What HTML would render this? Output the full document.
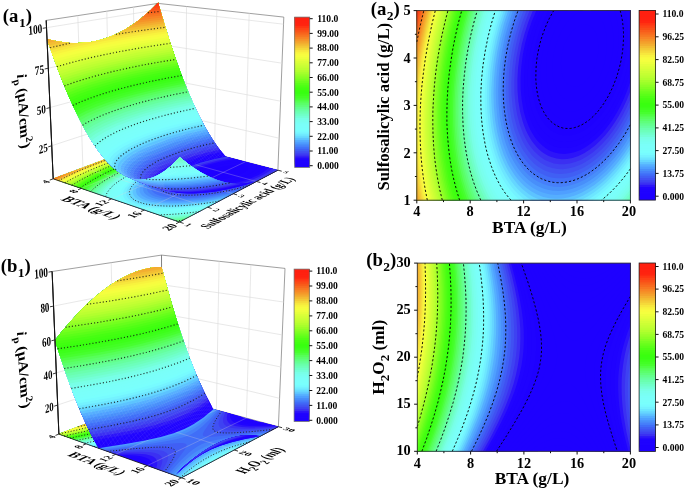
<!DOCTYPE html>
<html><head><meta charset="utf-8"><title>Figure</title>
<style>html,body{margin:0;padding:0;background:#fff}svg{display:block}text{font-family:"Liberation Serif",serif;fill:#000}</style>
</head><body>
<svg width="685" height="492" viewBox="0 0 685 492">
<rect width="685" height="492" fill="#fff"/>
<g shape-rendering="geometricPrecision">
<path fill="#1e00ff" d="M416.8 200.2l213.6 0 0-189.6-213.6 0z"/>
<path fill="#1e00ff" d="M416.8 200.2l213.6 0 0-189.6-213.6 0zM572.6 86.6l-1.8-0.5-1.8-1-2.7-2.4-2.2-3.4-1.1-2.3-0.8-2.4-1-5.5-0.3-5.6 0.4-5.5 1.1-6.3 1.6-5.5 2.3-5.7 2.7-4.8 3.6-4.7 3.5-3.3 3.6-2.1 1.7-0.6 1.8-0.4 1.8-0.1 1.8 0.2 1.8 0.5 1.8 1 2.6 2.4 2.2 3.3 1.1 2.4 0.8 2.4 1 5.5 0.3 5.5-0.3 5.6-1.1 6.3-1.6 5.5-2.4 5.7-2.6 4.8-1.8 2.5-1.8 2.2-3.6 3.2-3.5 2.2-1.8 0.6-1.8 0.4-1.8 0.1z"/>
<path fill="#1e00ff" d="M416.8 200.2l213.6 0 0-189.6-40.5 0 2.2 0.6 2.1 1 2.3 1.6 1.9 1.7 1.7 2.1 1.8 2.8 1.4 2.8 1.2 3.2 1 3.5 0.7 3.6 0.5 4 0.2 3.9-0.2 7.9-0.4 4-0.8 4.7-0.9 4.3-1.2 4.4-1.5 4.3-1.7 4.4-3.6 7-2.1 3.2-2.3 3.2-1.9 2.4-2.6 2.6-2.7 2.3-2.7 1.8-2.6 1.4-2.7 1-2.7 0.6-1.7 0.1-2.7-0.2-1.8-0.4-2.7-1.1-1.8-1.1-1.7-1.5-2.2-2.4-1.6-2.3-1.7-3.2-1.3-3.2-1-3.1-0.7-3.2-0.6-3.9-0.3-4-0.1-3.9 0.1-4.8 0.5-4.3 0.6-4.4 1.1-4.7 2.3-7.9 3.1-7.5 1.8-3.6 2.4-3.9 2-2.9 2.7-3.3 4.4-4.3 2.7-2 2.7-1.5 2.6-1.1 2.5-0.7-167.1 0z"/>
<path fill="#1e00ff" d="M416.8 200.2l213.6 0 0-189.6-24.1 0 1.3 2.4 1.5 3.1 1.2 3.2 1.1 3.9 1.4 7.1 0.6 8-0.2 8.6-1 8.7-1.8 8.7-2.6 8.7-3.2 7.9-4.1 7.9-2.1 3.4-2.6 3.7-4.6 5.3-4.6 4.2-2.5 1.8-2.7 1.6-2.6 1.2-2.7 0.9-2.7 0.6-2.6 0.2-2.7-0.2-2.7-0.6-2.1-0.8-2.3-1.2-2.7-1.9-1.8-1.7-1.7-2.1-1.8-2.5-1.3-2.4-1.5-3.2-1.2-3.1-1.1-4-1.3-7.1-0.6-7.9 0.1-7.9 0.9-8.7 1.8-8.7 2.5-8.7 3.5-8.6 3.5-7 4.5-6.9 2.6-3.4 2.2-2.5-150.8 0z"/>
<path fill="#1e00ff" d="M416.8 200.2l213.6 0 0-189.6-16.3 0 1.4 4 1.3 4.7 0.9 4.7 0.7 5.6 0.3 4.7 0.1 5.5-0.3 5.6-0.5 5.5-0.8 5.5-1 5.5-2.8 10.3-1.9 5.5-2.2 5.6-2.2 4.7-2.5 4.8-3.6 5.8-4.4 6-4.5 4.8-4.4 4-4.5 3.1-2.6 1.4-2.7 1.1-4.5 1.2-4.4 0.5-2.7-0.2-2.7-0.6-2.6-0.9-2-1-2.5-1.5-1.9-1.6-2.4-2.4-1.9-2.4-1.8-2.6-1.8-3.3-1.5-3.5-1.1-3.2-1.2-3.9-0.9-4-0.6-4-0.5-4.7-0.4-8.7 0.6-9.5 1.3-9.4 2.1-9.5 3-9.5 3.6-8.7 4.1-7.9 4.6-7.1-143 0z"/>
<path fill="#1e00ff" d="M416.8 200.2l213.6 0 0-189.6-10.2 0 1.2 4.7 0.9 4.8 0.6 4.7 0.5 5.5 0.1 5.6-0.1 5.5-0.4 5.5-0.6 5.6-0.9 5.5-1.1 5.5-1.4 5.6-1.6 5.5-1.9 5.5-2 5.2-4.5 9.4-4.4 7.5-4.5 6.4-5.3 6.2-5.2 4.8-5.5 3.9-5.3 2.7-2.7 1-2.7 0.7-2.6 0.5-2.7 0.1-2.7-0.1-2.6-0.4-2.7-0.8-2.9-1.3-2.4-1.4-2.7-2-2.3-2.1-2.2-2.5-2.1-3-1.9-3.2-1.5-3.1-1.6-3.8-1.3-4.1-1.1-4-1.5-8.7-0.8-9.5 0.2-9.4 0.9-10.3 1.9-10.3 2.6-10.2 3.6-10.1 4.3-9.7 4.4-7.9-136.9 0z"/>
<path fill="#1f02ff" d="M416.8 200.2l213.6 0 0-189.6-5.1 0 0.9 4.7 0.7 4.8 0.6 5.5 0.3 5.5 0 5.6-0.3 5.5-1.1 11.1-1.1 6.3-1.1 5.5-3 11.1-1.9 5.5-2.1 5.5-4.6 9.9-4.4 7.9-5.4 7.9-5.3 6.4-2.7 2.7-3.6 3.3-2.8 2.2-3.4 2.3-2.9 1.7-3.3 1.6-3.6 1.2-2.6 0.7-3.6 0.5-2.7 0.1-3.5-0.3-2.7-0.5-2.8-1-3.3-1.5-2.8-1.8-2.6-2.2-2.4-2.4-2-2.3-1.9-2.7-2.2-3.7-1.5-3.1-1.7-4-1.3-3.9-1.3-4.6-1.7-8.8-0.6-4.8-0.4-5.5 0-10.3 0.9-10.9 1.6-10.4 2.5-10.3 3.2-10.3 4.1-10.2 4.7-9.5-131.8 0z"/>
<path fill="#1f02ff" d="M416.8 200.2l213.6 0 0-148.5-1.6 9.5-2.2 9.4-2.5 8.7-3.5 9.5-3.6 8.1-4.4 8.5-4.4 7.3-4.5 6.1-5.3 6.3-5.4 5.1-5.3 4.2-5.4 3.3-5.7 2.5-3.2 0.9-2.6 0.6-5.4 0.4-2.6-0.1-2.7-0.4-3.6-1-2.6-1.1-2.7-1.4-2.7-1.8-2.7-2.2-1.8-1.8-2.6-3.1-1.8-2.5-2-3.1-2-4-1.7-3.9-1.4-3.7-1.3-4.2-1.1-4.8-1.6-9.4-0.8-10.3 0-10.3 0.8-10.3 1.7-11 2.3-10.3 3.3-11.1 3.8-10 4.5-9.7-127.3 0zM630.3 13.8l0.1 0.6 0-3.8-0.6 0z"/>
<path fill="#2004ff" d="M416.8 200.2l213.6 0 0-130.4-2.4 8.7-2.9 8.6-3.6 8.7-3.6 7.5-4.4 8.1-4.5 6.9-4.5 6.1-5.3 6-5.3 5.1-5.3 4.2-5.4 3.3-5.3 2.5-5.3 1.7-5.4 0.9-5.3 0-2.7-0.4-2.7-0.6-3.5-1.3-2.7-1.3-2.7-1.6-2.6-2-2.5-2.3-2.3-2.4-2.4-3-2.2-3.3-2.2-4-1.5-3.1-3-7.9-1.4-4.8-1.1-4.7-1.6-9.5-0.7-10.3 0-10.2 0.7-11.1 1.6-11 2.3-11.1 3.2-11.1 3.7-10.2 4.5-10.3-123.3 0z"/>
<path fill="#2c14f9" d="M416.8 200.2l213.6 0 0-118.6-2.8 8-3.5 8.7-3.8 7.9-4.1 7.6-4.5 7.1-4.8 6.6-5 5.9-5.3 5.4-5.4 4.5-5.3 3.7-5.3 2.9-5.4 2.1-5.3 1.3-5.4 0.6-5.3-0.4-2.7-0.5-2.6-0.7-3.6-1.4-2.7-1.4-2.6-1.8-2.7-2.1-2.7-2.5-2.6-2.9-2.4-3.2-2-3.2-1.9-3.2-1.8-3.9-1.7-4.1-1.6-4.6-1.4-4.7-1.1-4.7-1.5-9.5-0.9-10.3-0.1-11.1 0.7-11 1.5-11.9 2.2-11 3-11.3 3.7-10.8 4.6-11.1-119.5 0z"/>
<path fill="#3b30f2" d="M416.8 200.2l213.6 0 0-109.2-3.6 8.9-3.5 7.6-4.4 8.2-4.3 7.1-4.7 6.6-4.8 6-5 5.4-5.3 4.9-5.3 4.1-5.4 3.4-5.6 2.8-5.9 2-5.4 1-5.3 0.2-5.4-0.6-5.3-1.5-3.6-1.5-2.6-1.6-2.7-1.8-2.7-2.2-2.6-2.6-2.7-3.1-2.5-3.3-2-3.2-2.2-4-1.8-3.9-1.6-4-1.6-4.7-2.5-9.5-1.7-10.3-0.9-11-0.1-11.1 0.6-11 1.5-11.9 2.2-11.8 2.9-11.1 3.8-11.8 4.5-11.1-116.1 0z"/>
<path fill="#3e42f2" d="M416.8 200.2l213.6 0 0-101-3.6 8-4.3 8.5-4.6 7.8-4.4 6.7-5.3 7-5.4 6.1-5.3 5.2-5.4 4.4-5.3 3.7-6.1 3.3-5.5 2.2-5.3 1.5-5.4 0.7-5.3-0.1-5.3-0.8-5.4-1.8-3.5-1.7-2.7-1.6-2.7-2-3.1-2.7-2.3-2.4-2.7-3.1-2.6-3.7-2.1-3.4-2.1-4-1.8-4-3.2-8.6-2.5-9.5-1-5.6-0.8-5.5-1-11-0.1-11.9 0.6-11.8 1.5-11.9 2.2-11.8 2.9-11.9 3.8-11.8 4.3-11.1-112.8 0z"/>
<path fill="#4051f2" d="M416.8 200.2l213.6 0 0-93.8-3.7 7.7-4.3 7.9-4.5 7.2-5.3 7.6-5.3 6.6-5.4 5.8-5.3 4.9-5.4 4.2-6.1 4-5.4 2.8-5.4 2-6.2 1.5-5.3 0.6-5.4-0.2-5.3-0.9-5.4-1.9-3.2-1.6-3-1.8-3.5-2.7-2.7-2.4-2.7-2.8-2.7-3.3-2.5-3.5-1.9-3.2-2.1-3.9-1.8-4-1.9-4.7-1.7-4.8-2.5-9.5-1.9-11-1.1-11.9-0.2-11.8 0.6-11.9 1.4-12.6 2.3-12.6 2.8-11.9 3.6-11.9 4.5-11.8-109.7 0z"/>
<path fill="#405ff4" d="M416.8 200.2l213.6 0 0-87.3-4.5 8.7-4.4 7.6-4.7 7-5.1 6.9-5.3 6.2-5.4 5.5-5.3 4.7-6.2 4.6-6.2 3.7-5.4 2.5-6.2 2.1-5.4 1.1-6.2 0.4-5.3-0.4-5.4-1.2-5.3-2.1-3-1.6-3.3-2.1-3.3-2.6-2.9-2.8-2.7-2.9-2.6-3.4-2.5-3.6-2-3.3-1.9-3.8-2.2-4.7-1.8-4.8-1.6-4.7-2.7-10.3-1.8-11-1.1-11.9-0.2-11.8 0.5-11.9 1.4-12.6 2.1-12.7 3-12.6 3.7-12.5 4.3-12-106.7 0z"/>
<path fill="#406ef8" d="M416.8 200.2l213.6 0 0-81.2-4.5 8.2-4.5 7.4-5.2 7.6-5.4 6.8-5.5 6.2-6.1 5.7-5.4 4.5-6.1 4.2-6.3 3.5-6.2 2.6-6.2 1.7-5.4 0.8-6.2 0.1-5.3-0.6-5.4-1.5-4.8-2.1-3.2-1.7-3.5-2.5-2.7-2.2-3.2-3.1-2.8-3.1-2.4-3.2-2.7-3.9-2.2-3.9-2.1-4-2.1-4.8-3.3-9.4-2.7-10.3-1.8-11.1-1.1-11.8-0.3-12.7 0.5-12.6 1.4-12.6 2.2-13.5 2.9-12.6 3.7-12.6 4.2-11.9-103.9 0z"/>
<path fill="#467ffa" d="M416.8 200.2l213.6 0 0-75.5-4.5 7.8-5.3 8.3-5.3 7.3-5.4 6.5-5.3 5.7-6.2 5.7-6.3 4.9-6.2 4-6.2 3.2-6.3 2.4-6.2 1.5-5.3 0.7-6.3-0.1-5.3-0.8-5.3-1.6-5.4-2.4-3.5-2.1-2.7-1.9-3.4-2.8-2.8-2.9-2.7-3-2.7-3.5-2.6-4-2.3-4-2.2-4.3-1.9-4.4-1.8-4.7-1.8-5.6-2.6-10.2-2-11.9-1.1-11.8-0.3-12.7 0.5-12.6 1.3-13.5 2.2-13.4 2.9-12.6 3.7-13.2 4.2-12.1-101.2 0z"/>
<path fill="#488ffa" d="M416.8 200.2l213.6 0 0-70.2-4.6 7.8-5.3 7.9-5.3 7.1-6.2 7.2-5.3 5.4-6.2 5.5-6.3 4.7-6.2 3.9-6.2 3-6.2 2.3-6.3 1.5-6.2 0.6-6.2-0.2-5.4-0.9-5.3-1.7-5.4-2.5-3.2-1.9-3-2.2-3-2.6-3.3-3.1-2.7-3.2-3-4-2.6-3.9-2.3-4-2.3-4.7-2.1-4.7-1.8-5-1.7-5.3-2.8-10.9-1.9-11.2-1.1-12.7-0.4-12.6 0.5-12.6 1.3-13.5 2.1-13.4 2.9-13.4 3.7-13.5 4.3-12.6-98.6 0z"/>
<path fill="#4f9fff" d="M416.8 200.2l213.6 0 0-65.1-5.3 8.6-5.3 7.5-5.4 6.9-5.8 6.5-5.8 5.8-6.2 5.3-6.2 4.5-6.3 3.7-6.2 2.9-6.2 2.2-6.3 1.4-6.2 0.6-6.2-0.2-5.4-1-3.5-1-2.7-1-5.5-2.6-3.4-2.2-3.6-2.7-3.3-3-2.9-3-2.7-3.2-2.6-3.6-2.7-4.2-2.4-4.2-2.1-4.2-2.2-5.3-1.8-4.7-1.7-5.5-2.8-11.1-2-11.8-1.2-12.7-0.3-12.6 0.5-13.5 1.2-13.4 2.1-13.4 2.9-13.8 3.6-13.1 4.4-13.4-96.1 0z"/>
<path fill="#55aeff" d="M416.8 200.2l213.6 0 0-60.3-5.3 8.3-5.4 7.5-6 7.4-5.8 6.3-6 5.7-6.2 5.1-6.2 4.4-7.2 4-6.7 2.9-6.6 2-6.2 1.1-6.3 0.4-6.2-0.5-5.3-1.2-3.1-1-3.2-1.3-5.3-2.8-3.3-2.2-3.1-2.4-3.4-3.1-3-3.2-3.2-4-2.7-3.8-2.5-4.1-2.2-3.9-2.3-4.7-1.9-4.7-1.8-4.8-1.8-5.6-2.7-11-1.2-6.3-0.9-6.4-1.2-12.6-0.4-13.4 0.5-13.5 1.2-13.4 2.1-13.5 2.9-14.1 3.6-13.5 4.4-13.4-93.7 0z"/>
<path fill="#5dc3ff" d="M416.8 200.2l213.6 0 0-55.7-5.3 8.1-6 8.1-5.6 6.7-6.2 6.6-6.3 5.7-6.2 5-6.7 4.4-6.7 3.6-6.5 2.8-6.8 2-6.2 1-6.3 0.3-6.2-0.5-6.2-1.4-6.2-2.4-5.4-2.9-3.6-2.5-3.5-2.9-3.5-3.4-2.7-3-2.7-3.4-2.7-3.9-2.7-4.2-2.4-4.4-2-4.3-2.2-5.2-2-5.6-1.7-5.5-2.7-11-2.1-12.2-1.2-13.1-0.4-13.4 0.4-13.5 1.3-14.2 2.1-14.2 3-14.2 3.7-14.2 4.2-12.7-91.4 0z"/>
<path fill="#65d6ff" d="M416.8 200.2l124.3 0-4.1-1.6-3.6-1.7-4.5-2.7-3.5-2.6-3.6-3.1-3.5-3.6-3.6-4.3-3-4.1-3-4.7-2.6-4.8-2.6-5.5-2.3-5.5-1.9-5.6-1.9-6.3-1.6-6.3-1.5-7.1-1-6.3-0.9-7.2-0.6-7.1-0.4-7.9-0.2-7.1 0.2-7.9 1-15 1.8-15 1.4-7.9 1.6-7.9 1.8-7.9 2.1-7.9 4.8-15-89.1 0zM571.5 200.2l58.9 0 0-51.3-6.4 9.4-7 8.9-7.1 7.9-3.8 3.8-4.2 3.8-7.2 5.7-4.3 2.9-3.6 2.2-3.6 2-4.4 2z"/>
<path fill="#6de6ff" d="M416.8 200.2l115.1 0-3.9-2.3-3.5-2.6-3.6-3-3.5-3.5-3.1-3.6-3.2-4.1-2.6-4-2.7-4.5-2.5-4.8-2.2-4.7-2.2-5.6-2-5.9-1.8-6-1.5-6.2-1.3-6.4-1.1-6.3-1.5-13.4-0.6-14.2 0.2-14.2 1.2-15.1 2-15 2.9-15 3.8-15 4.5-14.2-86.9 0zM580.7 200.2l49.7 0 0-47-5.3 7.7-6.3 8-6.2 7.2-6.2 6.2-6.3 5.5-6.2 4.7-6.2 4z"/>
<path fill="#74f2ff" d="M416.8 200.2l108.5 0-3.5-2.7-3.5-3.2-3.5-3.6-2.8-3.3-2.6-3.6-2.8-4.1-2.6-4.4-2.6-5.1-2.2-4.8-2.2-5.5-1.9-5.5-1.7-5.6-2.8-11.8-2-12.6-1.3-13.5-0.4-14.2 0.4-14.2 1.3-14.2 2.1-14.8 2.8-14.5 3.6-14.2 4.4-14.2-84.7 0zM587.3 200.2l43.1 0 0-42.9-4.6 6.6-5.2 6.7-5.3 6.2-5.4 5.7-5.4 5.1-6.1 5.1-5.4 3.9z"/>
<path fill="#77fbff" d="M416.8 200.2l103.1 0-3.4-3.1-3-3.2-3.3-3.8-2.6-3.6-2.7-4.1-2.7-4.5-2.3-4.6-2.2-4.7-3.9-10.3-3.3-11-2.5-11.9-1.9-13.4-1.1-13.4-0.2-13.5 0.6-14.2 1.3-14.2 2.1-14.2 2.9-14.2 3.4-13.8 4.3-13.9-82.6 0zM592.7 200.2l37.7 0 0-38.9-4.5 6.2-4.4 5.7-4.5 5.3-4.4 4.8-4.4 4.4-5.4 4.8-5.3 4.3z"/>
<path fill="#79fffd" d="M416.8 200.2l98.4 0-3.2-3.3-2.6-3.2-2.7-3.5-2.9-4.2-2.4-4.1-2.7-5-2.5-5.1-1.9-4.8-3.6-10.3-3.1-11.8-2.3-11.9-1.6-12.6-0.8-13.4-0.1-13.4 0.6-13.5 1.4-14.2 2.2-14.2 2.8-13.9 3.4-13.8 4.1-13.4-80.5 0zM597.4 200.2l33 0 0-35.1-8 10.7-8 9.1-8.3 8.2-4.2 3.6z"/>
<path fill="#7afffb" d="M416.8 200.2l94.2 0-2.7-3.2-3.1-3.9-5.1-7.9-2.3-4.2-2.6-5.3-3.9-9.5-3.3-10.2-2.9-11.9-2.1-11.8-1.4-12.7-0.7-12.6-0.1-13.4 0.7-13.5 1.4-14.2 2.2-14.2 2.8-14.2 3.4-13.5 4-13.4-78.5 0zM601.6 200.2l28.8 0 0-31.3-7.1 9.4-7.1 8.2-7.2 7.2z"/>
<path fill="#7afffa" d="M416.8 200.2l90.3 0-3-4-2.7-3.9-4.7-7.9-4.6-9.5-3.9-10.3-3-10.2-2.7-11.9-1.9-11.8-1.2-12.7-0.6-12.6 0.1-13.4 0.8-13.5 1.4-13.4 2.2-14.2 2.7-13.4 3.3-13.5 4-13.4-76.5 0zM605.5 200.2l24.9 0 0-27.7-6.2 8.2-6.3 7.2-6.2 6.5z"/>
<path fill="#7afff8" d="M416.8 200.2l86.8 0-2.9-4-2.5-3.9-4.8-8.7-4.2-9.5-3.6-10.2-2.9-10.5-2.5-11.7-1.7-11.8-1.2-12.7-0.4-12.6 0.2-13.4 0.8-13.5 1.5-13.4 2-13.4 2.7-13.4 3.4-13.5 3.9-13.4-74.6 0zM609 200.2l21.4 0 0-24.1-5.3 6.9-5.4 6.3-5.3 5.7z"/>
<path fill="#79fff3" d="M416.8 200.2l83.4 0-5.1-8-4.4-8.6-4-9.5-3.5-10.2-2.9-11.1-2.2-11.1-1.6-11.8-1.1-12.7-0.4-12.6 0.2-13.4 0.9-13.5 1.4-13.4 2.1-13.4 2.7-13.4 3.3-13.5 3.9-13.4-72.7 0zM612.4 200.2l18 0 0-20.6-4.5 5.7-4.4 5.3-4.5 4.9z"/>
<path fill="#79ffed" d="M416.8 200.2l80.2 0-4.7-7.9-4.3-8.8-4-10.2-3.3-10.2-2.5-10.3-2.3-11.8-1.5-11.9-1-12.6-0.3-12.7 0.3-13.4 0.8-12.6 1.5-13.5 2.1-13.4 2.7-13.4 3.3-13.5 3.9-13.4-70.9 0zM615.6 200.2l14.8 0 0-17.2-7.1 8.8z"/>
<path fill="#78ffe6" d="M416.8 200.2l77.2 0-4.4-7.9-4.4-9.5-3.6-9.5-3.3-11-2.6-11.1-1.9-11.4-1.4-11.5-0.9-12.6-0.2-12.7 0.3-13.4 0.9-12.6 1.6-13.5 2.1-13.4 2.7-13.4 3.1-12.7 3.9-13.4-69.1 0zM618.6 200.2l11.8 0 0-13.9-6.2 7.6z"/>
<path fill="#74ffd8" d="M416.8 200.2l74.4 0-4.6-8.7-3.9-8.9-3.6-10-2.9-10.3-2.5-11.1-2-11.8-1.3-11.9-0.7-12.6-0.2-12.7 0.4-13.4 1.1-13.4 1.5-12.7 2.1-13.4 2.7-13.3 3.1-12.8 3.7-12.6-67.3 0zM621.4 200.2l9 0 0-10.7-4.5 5.5z"/>
<path fill="#70ffca" d="M416.8 200.2l71.6 0-4.3-8.7-4-9.5-3.5-10.2-2.7-10.3-2.3-11.1-1.8-11-1.2-11.9-0.7-12.6-0.2-12.7 0.5-13.4 1-13.4 1.5-12.7 2.2-13.4 2.6-13 3.2-13.1 3.6-12.6-65.5 0zM624.2 200.2l6.2 0 0-7.5z"/>
<path fill="#6dffbc" d="M416.8 200.2l69 0-4.2-8.7-3.8-9.5-3.2-9.8-2.8-10.7-2.2-11.1-1.7-11.8-1.2-11.9-0.6-12.6-0.1-12.7 0.5-12.6 1-13.2 1.6-12.9 2-12.6 2.7-13.4 3.2-13.5 3.6-12.6-63.8 0zM626.8 200.2l3.6 0 0-4.4z"/>
<path fill="#6affaf" d="M416.8 200.2l66.5 0-4.2-9.1-3.6-9.3-3.1-10-2.7-11.1-2.1-11.1-1.7-11.8-1-11.9-0.6-11.8 0-12.7 0.5-12.6 1-12.6 1.6-13.5 2-12.6 2.7-13.4 3.2-13.5 3.6-12.6-62.1 0zM629.3 200.2l1.1 0 0-1.3z"/>
<path fill="#66ff9f" d="M416.8 200.2l64 0-4.1-9.5-3.5-9.5-3-10.1-2.5-10.4-2-11.1-1.6-11.8-1-11.9-0.5-12.6 0-12.6 0.6-12.7 1.1-12.6 1.6-13.5 2.2-13.4 2.5-12.6 3.1-12.7 3.5-12.6-60.4 0z"/>
<path fill="#63ff8e" d="M416.8 200.2l61.6 0-3.8-8.9-3.5-10.1-2.9-10.2-2.4-10.7-1.9-10.7-1.5-11.8-1-11.9-0.5-12.6 0.1-12.6 0.6-12.7 1-12.6 1.7-13.5 2.2-13.4 2.5-12.6 3-12.7 3.6-12.6-58.8 0z"/>
<path fill="#5fff7c" d="M416.8 200.2l59.3 0-3.8-9.5-3.2-9.5-2.9-10.2-2.4-11.1-1.8-11.1-1.5-11.8-0.8-11.8-0.4-12.7 0.1-12.6 0.6-12.7 1.1-12.6 1.6-12.6 2.2-13.3 2.5-12.8 3-12.7 3.5-12.6-57.1 0z"/>
<path fill="#5bff6b" d="M416.8 200.2l57.1 0-3.7-9.4-3.1-9.6-2.8-10.2-2.3-11.1-1.8-11.1-1.4-11.8-0.8-11.8-0.4-12.7 0.2-12.6 0.6-12.7 1.2-12.6 1.5-12.7 2.1-12.6 2.6-12.9 3.1-13.2 3.4-12.6-55.5 0z"/>
<path fill="#57ff5a" d="M416.8 200.2l54.9 0-3.3-8.7-3.3-10.3-2.6-10.2-2.3-11.1-1.7-11.1-1.3-11.8-0.8-11.8-0.4-12.7 0.2-12.6 0.7-12.7 1.1-12.6 1.6-12.7 2.2-13.4 2.5-12.6 3-12.7 3.5-12.6-54 0z"/>
<path fill="#4fff44" d="M416.8 200.2l52.8 0-3.5-9.5-3-9.9-2.6-10.6-2.1-10.3-1.6-11.1-1.3-11.8-0.8-11.8-0.2-12.7 0.2-12.6 0.6-12.7 1.2-12.6 1.6-12.6 2.2-13.5 2.5-12.6 3-12.7 3.4-12.6-52.4 0z"/>
<path fill="#47ff2f" d="M416.8 200.2l50.7 0-3.5-10-2.9-9.8-2.5-10.4-2-10.9-1.6-11-1.2-11.9-0.7-11.8-0.2-12.7 0.3-12.6 0.7-12.7 1.2-12.6 1.6-12.6 2.1-12.7 2.5-12.7 2.9-12.6 3.5-12.6-50.9 0z"/>
<path fill="#42ff24" d="M416.8 200.2l48.7 0-3.3-9.6-2.9-10.2-2.5-10.5-1.9-10.8-1.6-11-1.1-11.9-0.6-11.8-0.2-12.7 0.2-12.6 0.8-12.7 1.2-12.6 1.6-12.6 2.1-12.7 2.5-12.6 2.9-12.7 3.4-12.6-49.3 0z"/>
<path fill="#3dff1a" d="M416.8 200.2l46.7 0-3.2-9.5-2.8-10.3-2.4-10.7-1.9-10.6-1.5-11-1.1-11.9-0.6-11.8-0.2-12.7 0.3-12.6 0.8-12.7 1.2-12.6 1.6-12.6 2.1-12.7 2.5-12.6 3-12.7 3.3-12.6-47.8 0z"/>
<path fill="#38ff12" d="M416.8 200.2l44.7 0-3-9.5-2.8-10.3-2.4-11-1.8-10.6-1.5-11.5-1-11.9-0.5-11.8-0.2-11.9 0.4-12.6 0.7-12.7 1.3-12.6 1.6-12.6 2.1-12.7 2.5-12.6 2.9-12.7 3.4-12.6-46.4 0z"/>
<path fill="#39ff0f" d="M416.8 200.2l42.8 0-2.9-9.5-2.7-10.3-2.4-11-1.8-11.1-1.3-11-1-11.9-0.6-11.8 0-12.7 0.3-11.8 0.8-12.7 1.2-12.6 1.7-12.6 2-12.7 2.5-12.6 2.9-12.7 3.4-12.6-44.9 0z"/>
<path fill="#40ff10" d="M416.8 200.2l41 0-2.9-9.5-2.6-10.3-2.3-11-1.8-11.1-1.3-11-0.9-11.9-0.5-11.8-0.1-12.7 0.4-11.8 0.8-12.7 1.2-12.6 1.6-12.6 2.1-12.7 2.5-12.6 2.9-12.7 3.3-12.6-43.4 0z"/>
<path fill="#46ff12" d="M416.8 200.2l39.1 0-2.8-9.5-2.5-10.3-2.2-11-1.8-11.1-1.2-11-0.9-11.9-0.5-11.8-0.1-12.7 0.4-11.8 0.8-12.7 1.3-12.6 1.6-12.6 2.1-12.7 2.5-12.6 2.9-12.7 3.3-12.6-42 0z"/>
<path fill="#50ff15" d="M416.8 200.2l37.3 0-2.7-9.5-2.6-10.6-2-10.7-1.7-11.1-1.3-11-0.8-11.9-0.5-11.8 0-12.7 0.4-11.8 0.8-12.7 1.3-12.6 1.7-12.6 2-12.7 2.5-12.6 2.9-12.7 3.3-12.6-40.6 0z"/>
<path fill="#5bff18" d="M416.8 200.2l35.6 0-2.9-10.3-2.4-10.2-1.9-10.3-1.7-11.4-1.2-11.5-0.8-11.9-0.4-11.8 0-11.9 0.4-11.8 0.9-12.7 1.2-12.6 1.7-12.6 2.1-12.7 2.4-12.6 2.9-12.7 3.3-12.6-39.2 0z"/>
<path fill="#67ff1b" d="M416.8 200.2l33.8 0-2.6-9.7-2.5-10.8-2-11.1-1.6-11.1-1.1-11-0.8-11.9-0.3-11.8 0-12.7 0.5-11.8 0.9-12.7 1.2-12.6 1.7-12.6 2.1-12.7 2.5-12.6 2.9-12.6 3.1-11.9-37.8 0z"/>
<path fill="#74ff1f" d="M416.8 200.2l32.1 0-2.7-10.3-2.3-10.2-1.9-11.1-1.6-11.1-1.1-11-0.7-11.9-0.3-11.8 0-12.7 0.5-11.8 0.9-12.7 1.3-12.6 1.7-12.6 1.9-11.9 2.5-12.6 2.9-12.7 3.2-12.6-36.4 0z"/>
<path fill="#81ff22" d="M416.8 200.2l30.4 0-2.6-10.3-2.3-10.2-1.9-11.1-1.4-11.1-1.1-11-0.7-11.9-0.3-11.8 0.1-12.7 0.4-11.8 1-12.7 1.3-12.6 1.7-12.6 2.1-12.7 2.4-12.6 2.9-12.7 3.1-11.8-35.1 0z"/>
<path fill="#8dff25" d="M416.8 200.2l28.8 0-2.6-10.3-2.2-10.2-1.9-11.1-1.4-11.1-1-11-0.7-11.9-0.3-11.8 0.1-12.7 0.5-11.8 0.9-12.7 1.3-12.6 1.7-12.6 2-11.9 2.4-12.6 2.9-12.7 3.2-12.6-33.7 0z"/>
<path fill="#9aff28" d="M416.8 200.2l27.1 0-2.5-10.3-2.1-10.2-1.8-11.1-1.4-11.1-1-11-0.7-11.9-0.3-11.8 0.2-12.7 0.5-11.8 0.9-12.6 1.3-12.7 1.7-12.6 2.1-12.7 2.5-12.6 2.9-12.7 3-11.8-32.4 0z"/>
<path fill="#a6ff2c" d="M416.8 200.2l25.5 0-2.5-10.3-2-10.2-1.8-11.1-1.4-11.1-1-11.8-0.6-11.9-0.2-11.8 0.1-11.9 0.6-11.8 0.9-12.7 1.3-12.6 1.7-12.6 2-11.9 2.4-12.6 2.9-12.7 3.2-12.6-31.1 0z"/>
<path fill="#b2ff2e" d="M416.8 200.2l23.9 0-2.4-10.3-2-10.2-1.8-11.1-1.3-11.1-0.9-11-0.6-11.9-0.2-11.8 0.1-12.7 0.6-11.8 0.9-12.6 1.3-12.7 1.8-12.6 2-12.7 2.5-12.6 2.8-12.4 3.1-12.1-29.8 0z"/>
<path fill="#bcff31" d="M416.8 200.2l22.4 0-2.4-10.3-2.1-11-1.7-11.1-1.2-11-1-11.9-0.5-11.9-0.2-11.8 0.3-11.9 0.6-12.6 0.9-11.8 1.3-11.9 1.7-12.6 2.1-12.7 2.4-12.6 2.9-12.7 3-11.8-28.5 0z"/>
<path fill="#c4ff33" d="M416.8 200.2l20.8 0-2.3-10.3-2.1-11-1.6-11.1-1.2-11-0.9-11.1-0.5-11.9-0.2-11.8 0.3-12.7 0.5-11.8 1-12.6 1.4-12.7 1.7-12.4 2-12.1 2.5-12.6 2.6-11.9 3.2-12.6-27.2 0z"/>
<path fill="#ccff35" d="M416.8 200.2l19.3 0-2.4-10.8-1.9-10.5-1.6-11.1-1.2-11-0.9-11.9-0.5-11.9-0.1-11.8 0.3-11.9 0.6-11.8 1-12.6 1.4-12.7 1.6-11.8 2.1-12.7 2.4-12.6 2.9-12.7 2.9-11.8-25.9 0z"/>
<path fill="#d4ff37" d="M416.8 200.2l17.8 0-2.3-10.3-1.9-11-1.6-11.1-1.1-11-0.9-11.9-0.5-11.9 0-11.8 0.2-11.9 0.6-11.8 1-12.6 1.3-11.9 1.7-12.6 2-11.9 2.4-12.6 2.8-12.7 3.2-12.6-24.7 0z"/>
<path fill="#dcff39" d="M416.8 200.2l16.3 0-2.2-10.3-1.9-11-1.5-11.1-1.2-11-0.8-11.9-0.4-11.9-0.1-11.8 0.3-11.9 0.6-11.8 1-12.6 1.4-12.7 1.7-12.6 2-11.9 2.4-12.6 2.9-12.7 2.9-11.8-23.4 0z"/>
<path fill="#e5ff3b" d="M416.8 200.2l14.8 0-2.1-10.3-1.9-11-1.5-11.1-1.1-11-0.8-11.9-0.4-11.9-0.1-11.8 0.3-11.9 0.7-12.6 1-11.8 1.3-11.9 1.7-12.6 2.1-12.7 2.4-12.6 2.8-12.7 3-11.8-22.2 0z"/>
<path fill="#edff3d" d="M416.8 200.2l13.4 0-2.1-10.3-1.9-11-1.4-11.1-1.1-11-0.8-11.9-0.4-11.9 0-11.8 0.3-11.9 0.6-11.8 1-12.6 1.3-11.9 1.8-12.6 2.1-12.7 2.3-12.2 2.7-12.3 3.2-12.6-21 0z"/>
<path fill="#f4ff3f" d="M416.8 200.2l11.9 0-2.1-10.7-1.7-10.6-1.5-11.1-1-11-0.8-11.9-0.3-11.9-0.1-11.8 0.4-11.9 0.6-11.8 1-12.6 1.4-12.7 1.8-12.6 2-11.9 2.4-12.6 2.8-12.7 3-11.8-19.8 0z"/>
<path fill="#f8fb3f" d="M416.8 200.2l10.5 0-2-10.3-1.8-11-1.4-11.1-1-11-0.7-11.9-0.4-11.9 0-11.8 0.3-11.9 0.7-12.6 1-11.8 1.4-11.9 1.7-12.6 2.1-12.7 2.3-11.8 2.7-12.7 3.1-12.6-18.5 0z"/>
<path fill="#f8f33e" d="M416.8 200.2l9.1 0-2-10.3-1.7-11-1.4-11.1-1-11-0.7-11.9-0.3-11.9 0-11.8 0.3-11.9 0.7-11.8 1.1-12.6 1.3-11.9 1.7-12.7 2.1-12.6 2.4-12.3 2.6-12.2 3.1-12.6-17.3 0z"/>
<path fill="#f7e73d" d="M416.8 200.2l7.7 0-1.9-10.3-1.7-11-1.4-11.1-0.9-11-0.7-11.9-0.3-11.9 0-11.8 0.3-11.9 0.7-11.8 1.1-12.6 1.4-12.7 1.8-12.6 1.9-11.9 2.5-12.6 2.7-12.7 3-11.8-16.2 0z"/>
<path fill="#f5d93a" d="M416.8 200.2l6.3 0-2.3-12.6-1.7-12.7-1.4-13.2-0.9-13.3zM416.8 107.8l0 0.4 0.7-12.3 1.2-12.6 1.4-12.7 1.7-11.8 2.1-12.5 2.4-12 2.6-11.9 2.9-11.8-15 0z"/>
<path fill="#f4cb37" d="M416.8 200.2l5 0-2.9-16.6-2.1-17.8zM416.8 90.4l0 0.4 2.3-21 3-19.7 3.8-19.8 4.7-19.7-13.8 0z"/>
<path fill="#f3bd33" d="M416.8 200.2l3.6 0-1.9-11.1-1.7-11.7zM416.8 78.5l0 0.6 2.4-17.9 2.9-17.4 3.4-16.6 3.9-16.6-12.6 0z"/>
<path fill="#f3ae30" d="M416.8 200.2l2.3 0-2.3-13.4zM416.8 69.1l0 0.7 2.3-15.8 2.8-15 3-14.2 3.4-14.2-11.5 0z"/>
<path fill="#f4a02c" d="M416.8 200.2l1 0-1-5.4zM416.8 61.2l0 0.5 2.2-13.2 2.5-13.4 2.6-11.9 3-12.6-10.3 0z"/>
<path fill="#f59229" d="M416.8 54l0 0.6 1.9-10.8 2.2-11.1 2.4-11 2.7-11.1-9.2 0z"/>
<path fill="#f78526" d="M416.8 47.7l0 0.3 3.8-19.2 4.3-18.2-8.1 0z"/>
<path fill="#f77722" d="M416.8 41.4l0 0.6 3.2-15.6 3.8-15.8-7 0z"/>
<path fill="#f86a1f" d="M416.8 35.9l0 0.4 2.7-12.5 3.1-13.2-5.8 0z"/>
<path fill="#f85d1b" d="M416.8 30.3l0 0.7 4.7-20.4-4.7 0z"/>
<path fill="#fa4f18" d="M416.8 25.6l0 0.4 3.6-15.4-3.6 0z"/>
<path fill="#fe4216" d="M416.8 20.9l0 0.3 2.6-10.6-2.6 0z"/>
<path fill="#ff3413" d="M416.8 16.1l0 0.5 1.5-6-1.5 0z"/>
<path fill="#ff2510" d="M416.8 11.4l0 0.8 0.4-1.6-0.4 0z"/>
<path fill="none" stroke="#000" stroke-width="0.9" stroke-dasharray="2.2 2" d="M620.2 10.6l1 4 1 4.7 0.5 3.9 0.5 4.8 0.3 4.7 0 4.8-0.2 5.5-0.4 4.7-0.5 4.8-0.9 5.5-0.9 4.7-1.4 5.6-1.3 4.7-1.7 5.3-3.6 9-2.2 4.7-2.2 4.3-4.6 7.5-2.6 3.6-2.7 3.5-2.8 3.2-3.4 3.3-2.6 2.3-2.7 2-2.8 1.9-3.4 1.8-3.1 1.3-3.2 1-3.5 0.7-2.7 0.1-2.7-0.1-2.6-0.4-2.7-0.8-2.9-1.3-2.4-1.4-2.7-2-2.3-2.1-2.2-2.5-2.1-3-1.9-3.2-1.5-3.1-1.6-3.8-1.3-4.1-1.1-4-0.8-3.9-0.7-4.8-0.5-4.7-0.3-4.8 0.2-9.4 0.3-4.8 0.6-5.5 0.9-5.5 1-4.8 1.1-4.7 1.5-5.5 1.8-5.3 1.8-4.8 2.1-5 2.2-4.7 4.4-7.9M630.4 124.7l-5.3 9.3-6.2 9.3-6.3 8.2-6.2 7-6.4 6.1-3.4 2.9-3.6 2.7-3.5 2.5-3.6 2.2-3.6 1.9-3.5 1.7-3.6 1.4-3.5 1.1-3.6 0.8-3.6 0.6-3.5 0.3-3.6 0-3.5-0.3-2.7-0.4-3.2-0.8-3-1-3.3-1.3-3-1.6-2.6-1.6-2.7-1.9-2.7-2.2-2.7-2.5-2.6-3-2.5-3-2-2.8-2.2-3.5-2.2-3.9-1.8-3.6-1.8-4-1.7-4.3-2.7-8.7-1.2-4.8-1.2-5.5-1.6-10.3-1-10.3-0.3-11 0.2-11.1 0.9-11 1.5-11.9 2.2-11.8 2.9-11.9 3.2-11 3.9-11.1M511 200.2l-2.7-3.2-3.1-3.9-2.7-4-2.4-3.9-2.3-4.2-2.6-5.3-2-4.7-1.9-4.8-3.3-10.2-1.7-6.4-1.2-5.5-2.1-11.8-1.4-12.7-0.7-12.6-0.1-13.4 0.7-13.5 1.4-14.2 2.2-14.2 2.8-14.2 3.4-13.5 4-13.4M630.4 168.9l-7.1 9.4-7.1 8.2-7.2 7.2-7.4 6.5M480.8 200.2l-4.1-9.5-3.5-9.5-3-10.1-2.5-10.4-2-11.1-1.6-11.8-1-11.9-0.5-12.6 0-12.6 0.6-12.7 1.1-12.6 1.6-13.5 2.2-13.4 2.5-12.6 3.1-12.7 3.5-12.6M459.6 200.2l-2.9-9.5-2.7-10.3-2.4-11-1.8-11.1-1.3-11-1-11.9-0.6-11.8 0-12.7 0.3-11.8 0.8-12.7 1.2-12.6 1.7-12.6 2-12.7 2.5-12.6 2.9-12.7 3.4-12.6M442.3 200.2l-2.5-10.3-2-10.2-1.8-11.1-1.4-11.1-1-11.8-0.6-11.9-0.2-11.8 0.1-11.9 0.6-11.8 0.9-12.7 1.3-12.6 1.7-12.6 2-11.9 2.4-12.6 2.9-12.7 3.2-12.6M427.3 200.2l-2-10.3-1.8-11-1.4-11.1-1-11-0.7-11.9-0.4-11.9 0-11.8 0.3-11.9 0.7-12.6 1-11.8 1.4-11.9 1.7-12.6 2.1-12.7 2.3-11.8 2.7-12.7 3.1-12.6M416.8 42l3.2-15.6 3.8-15.8"/>
</g>
<g shape-rendering="geometricPrecision">
<path fill="#1e00ff" d="M417.3 451.3l213.1 0 0-188.2-213.1 0z"/>
<path fill="#1e00ff" d="M417.3 451.3l213.1 0 0-188.2-27.9 0-4.1 1.6-4.4 1.3-4.4 0.7-3.6 0.2-4.4-0.3-3.6-0.7-3.5-1.1-3.8-1.7-153.4 0z"/>
<path fill="#1e00ff" d="M417.3 451.3l213.1 0 0-188.2-18.9 0-6.8 4.1-3.6 1.7-3.6 1.5-3.5 1.1-2.7 0.6-3.5 0.5-2.7 0.2-3.5-0.3-2.7-0.4-2.7-0.7-2.6-1-3.6-1.6-2.6-1.6-5.6-4.1-144.5 0z"/>
<path fill="#1e00ff" d="M417.3 451.3l120.4 0 4.8-2.5 5.3-2.1 5.4-1.3 4.4-0.4 4.4 0.3 4.5 1.1 4.4 1.8 5.2 3.1 54.3 0 0-188.2-12.4 0-5.4 4.1-4.4 3.1-4.4 2.7-4.5 2.3-4.4 1.8-3.6 1-3.5 0.6-3.6 0.3-3.5-0.2-3.6-0.7-3.5-1.2-3.6-1.7-3.5-2.1-3.6-2.7-3.5-3.1-4.1-4.2-138 0z"/>
<path fill="#1e00ff" d="M417.3 451.3l112.5 0 3.8-2.8 4.5-3 4.4-2.6 3.5-1.7 3.6-1.3 3.6-1 3.5-0.5 2.7-0.1 3.5 0.3 2.7 0.6 2.6 0.8 3.6 1.7 2.7 1.5 3.5 2.6 2.7 2.3 3.3 3.2 46.4 0 0-188.2-7.1 0-6.2 5.6-5.3 4.3-5.4 3.9-5.3 3.3-4.4 2.3-4.5 1.7-4.4 1.1-4.5 0.4-4.4-0.3-3.6-0.9-3.5-1.4-4.4-2.5-4.5-3.3-4.4-4.2-4.5-4.9-4.1-5.1-132.6 0z"/>
<path fill="#1e00ff" d="M417.3 451.3l106.5 0 5.4-4.8 5.3-4.4 5.3-3.8 4.5-2.7 4.4-2.2 3.6-1.3 4.4-1 3.6-0.2 3.5 0.3 3.6 0.9 3.5 1.4 3.6 2.1 3.5 2.7 4.5 4.1 3.5 3.9 4 5 40.4 0 0-188.2-2.4 0-8.3 8.2-7.1 6.4-6.2 5-6.2 4.2-5.3 2.9-4.5 1.8-4.4 1.1-4.4 0.4-4.5-0.5-4.4-1.4-4.5-2.4-4.4-3.2-4.4-4.2-4.5-5-4.4-5.7-5.2-7.6-128 0z"/>
<path fill="#1e00ff" d="M417.3 451.3l101.4 0 6.9-7.1 6.2-5.8 6.3-5.3 5.3-3.8 5.3-3.2 4.5-1.9 4.4-1.2 3.5-0.4 4.5 0.4 3.5 1.1 3.6 1.8 4.4 3.2 4.5 4.1 4.4 5.1 4.4 6 4.7 7 35.3 0 0-186.2-8 8.6-8 8-7.1 6.4-6.2 4.9-5.3 3.5-5.4 2.7-2.6 1-2.7 0.7-4.4 0.5-2.7-0.2-2.7-0.5-4.4-1.7-4.4-2.8-4.5-3.8-4.4-4.8-5.3-6.9-5.4-7.9-5.8-9.7-123.8 0z"/>
<path fill="#1e00ff" d="M417.3 451.3l96.9 0 8.8-9.9 8-8.4 6.2-5.9 6.2-5.3 5.3-3.8 5.3-2.9 4.5-1.5 2.6-0.5 1.8-0.1 2.7 0.2 1.8 0.4 3.5 1.3 2.7 1.6 1.7 1.3 4.5 4 4.4 5.2 4.5 6.1 5.3 8.4 5.6 9.8 30.8 0 0-181.6-9.8 11.1-8 8.6-7.1 6.9-6.2 5.4-5.3 3.9-5.3 3-2.7 1.1-2.7 0.8-2.6 0.4-1.8 0.1-2.7-0.3-1.7-0.4-1.8-0.6-2.7-1.2-1.8-1.1-2.6-2.1-2.7-2.4-2.6-2.9-5.4-6.9-5.3-8-6.2-10.6-6.2-11.4-119.9 0z"/>
<path fill="#1e00ff" d="M417.3 451.3l92.8 0 11.1-13.5 8.9-10.3 8-8.7 7.1-7 5.3-4.5 5.3-3.5 4.5-1.9 2.6-0.6 1.8-0.2 2.7 0.3 1.7 0.4 3.6 1.8 1.8 1.3 2.6 2.4 4.5 5.1 4.4 6.3 5.3 8.9 6.2 11.5 6.2 12.2 26.7 0 0-176.7-11.5 14-8.9 10.2-8 8.5-6.2 5.9-5.4 4.3-2.6 1.8-2.7 1.5-2.6 1.1-1.8 0.5-2.7 0.4-1.8 0-2.6-0.4-1.8-0.7-1.8-0.9-2.6-1.8-1.8-1.6-2.7-2.8-4.4-5.7-5.3-8.3-5.4-9.3-6.2-12-7.9-16.2-116.4 0z"/>
<path fill="#1e00ff" d="M417.3 451.3l89.1 0 26.3-34.2 9.8-12.1 7.1-8.3 6.2-6.5 4.5-3.8 3.5-2.1 1.8-0.6 1.8-0.3 1.7 0.2 1.8 0.6 2.7 1.8 1.7 1.8 1.8 2.2 4.5 6.9 4.4 8.2 5.3 10.8 7.1 15.3 9 20.1 23 0 0-171.7-14.2 18.5-10.7 13.5-8 9.8-7.1 8.1-5.3 5.3-4.4 3.5-1.8 1-1.8 0.8-1.8 0.4-1.7 0-2.7-0.8-1.8-1.2-1.7-1.6-3.6-4.4-4.4-7.3-5.4-10.2-6.2-13-17.5-38.9-113 0z"/>
<path fill="#1e00ff" d="M417.3 451.3l85.6 0 16.2-22.7 11.4-16.5 8.9-13.3 6.2-10.2 3.5-6.3 2.7-5.5 2-4.7 1.8-5.5 1-4.7 0.5-4.7-0.1-4.7-0.5-5.5-1.2-6.3-1.5-6.2-2.1-7.1-3.2-9.4-8.1-22-13.2-32.9-109.9 0zM610.6 450.5l0.3 0.8 19.5 0 0-166.4-12.8 18.2-9.1 13.3-7.7 11.8-5.2 8.6-4.6 8.6-2.7 6.3-2 6.3-1.1 5.5-0.3 6.2 0.5 6.3 1.2 7.1 2.5 9.4 3.5 11 4.5 12.5 6 15.7z"/>
<path fill="#1e00ff" d="M417.3 451.3l82.3 0 9.6-14.1 8.7-13.3 7.4-11.8 6-10.2 4.7-8.6 3.4-7.1 3-7 2.4-7.1 1.6-6.3 1-6.2 0.5-6.3 0-7.1-0.7-7-1.2-7.9-1.9-8.6-2.3-8.6-3.1-10.2-3.9-11.8-5-14.1-5.6-14.9-106.9 0zM614.2 451.3l16.2 0 0-160.8-8.2 12.6-7.3 11.8-6.3 10.9-4.4 8.7-3.8 8.6-2.8 7.8-2.1 7.9-1.1 7-0.3 7.1 0.3 7.8 1.1 8.7 1.8 9.4 2.7 10.2 3.5 11.7 5 14.9z"/>
<path fill="#1e00ff" d="M417.3 451.3l79.2 0 14.6-22.7 10.6-18.1 4.9-9.4 4.2-8.6 3.3-7.9 2.8-7.8 2.1-7.8 1.4-7.1 0.8-7.1 0.3-7.8-0.3-7.8-0.8-7.9-1.6-9.4-2-9.4-2.7-10.2-3.5-11.8-4.3-13.3-5-14.1-104 0zM617 450.5l0.3 0.8 13.1 0 0-154.9-6.8 11.4-6.1 11-4.7 9.4-3.8 8.6-3.3 8.6-2.3 7.9-1.6 7.8-0.9 7.1-0.4 7.8 0.2 7.9 0.9 8.6 1.6 9.4 2.2 10.2 3.1 11.8 3.9 12.5z"/>
<path fill="#1f02ff" d="M417.3 451.3l76.2 0 12.1-19.6 9-15.7 5.3-10.2 4.4-9.4 3.5-8.6 2.8-7.9 2.4-8.6 1.7-7.8 1-7.9 0.5-7.8 0-8.6-0.7-8.7-1.3-9.4-1.7-9.4-2.6-11-2.9-10.9-3.8-12.6-4.6-14.1-101.3 0zM620.3 451.3l10.1 0 0-148.7-5.8 10.7-4.6 9.4-4.2 9.4-3 7.8-2.5 7.9-2 7.8-1.4 7.9-0.9 7.8-0.3 7.9 0.3 8.6 0.9 8.6 1.4 9.4 2.1 10.2 2.7 11 3.3 11.8z"/>
<path fill="#1f02ff" d="M417.3 451.3l73.4 0 10.3-17.3 8.3-14.9 5.1-10.1 4.4-9.5 3.8-9.4 2.9-8.6 2.5-8.6 1.8-8.6 1.2-8.7 0.6-7.8 0.1-8.6-0.5-8.7-1-9.4-1.6-10.2-2.3-10.9-2.7-11-3.5-12.6-4.1-13.3-98.7 0zM623.1 451.3l7.3 0 0-141.9-4.6 9.4-3.8 8.6-3.3 8.6-2.7 7.9-2.1 7.8-1.7 7.9-1.1 7.8-0.6 7.8-0.2 7.9 0.4 8.6 0.8 8.6 1.2 8.7 1.8 9.4 2.3 10.2 2.7 10.2z"/>
<path fill="#2004ff" d="M417.3 451.3l70.7 0 8.7-14.9 8-14.9 5.4-11 4.2-9.4 3.7-9.4 3-8.6 2.4-8.6 1.9-8.7 1.4-9.4 0.7-8.6 0.2-8.6-0.3-9.4-0.9-9.5-1.3-9.4-1.9-10.2-2.6-11.7-3.3-12.6-3.8-13.3-96.2 0zM625.8 451.3l4.6 0 0-134.6-3.3 7.6-3.3 8.6-2.7 7.8-2.2 7.9-1.7 7-1.3 7.9-1 7.8-0.4 7.1-0.1 7.8 0.3 7.9 0.8 8.6 1.2 8.6 1.6 9.4 2 9.4 2.5 10.2z"/>
<path fill="#2c14f9" d="M417.3 451.3l68.1 0 8.4-14.9 7.4-14.1 5.3-11 4.3-10.2 3.6-9.4 2.8-8.6 2.5-9.4 1.9-8.7 1.2-8.6 0.8-8.6 0.3-8.6-0.2-9.4-0.7-9.5-1.3-10.1-1.9-11-2.3-11-2.9-11.8-3.6-13.3-93.7 0zM628.4 451.3l2 0 0-126.4-3 8-2.5 7.8-2 7.1-1.6 7-1.3 7.1-1 7.1-0.6 7-0.3 7.1 0.1 7 0.4 7.9 0.7 7.8 1 7.9 1.4 8.6 1.9 9.4 2.2 9.4z"/>
<path fill="#3b30f2" d="M417.3 451.3l65.6 0 7.8-14.1 7.2-14.1 5.1-11 3.9-9.4 3.6-9.4 3-9.4 2.5-9.4 1.8-8.7 1.4-8.6 0.9-9.4 0.3-9.4-0.1-9.4-0.7-9.4-1.1-10.2-1.6-10.2-2.3-11.8-2.7-11.8-3.3-12.5-91.3 0zM630.3 448.9l0.1 0.5 0-115.2-2 6.5-2 7.1-1.4 6.3-1.2 6.2-0.9 6.3-0.8 7.1-0.4 6.2-0.1 7.1 0.1 7.1 0.4 7 0.6 7.1 1 7.8 2.7 15.7z"/>
<path fill="#3e42f2" d="M417.3 451.3l63.2 0 7.6-14.1 7-14.1 4.6-10.2 4.2-10.2 3.4-9.4 2.9-9.4 2.5-9.4 1.9-9.5 1.4-9.4 0.8-8.6 0.4-9.4-0.1-9.4-0.6-9.4-1-10.2-1.5-10.2-2-11-2.6-11.8-3.1-12.5-89 0zM630.3 438l0.1 0.3 0-93-2.4 10.3-1.8 11-1 11-0.4 11 0.4 11.7 1 11.8 1.7 12.5z"/>
<path fill="#4051f2" d="M417.3 451.3l60.9 0 7.8-14.9 6.4-13.3 4.5-10.2 4.3-11 3.3-9.4 2.8-9.4 2.2-8.6 1.9-9.5 1.3-8.6 1-9.4 0.4-9.4 0-9.4-0.5-9.4-0.9-10.2-1.5-11-1.9-11-2.4-11.7-2.8-11.8-86.8 0zM630.3 423.1l0.1 0.4 0-63.4-1.1 7.3-0.8 7.8-0.5 7.1-0.1 7.8 0.1 7.9 0.4 7.8 0.8 8.6z"/>
<path fill="#405ff4" d="M417.3 451.3l58.6 0 7.6-14.9 6.3-13.3 4.4-10.2 3.6-9.4 3.6-10.2 2.8-9.4 2.3-9.4 1.9-9.5 1.4-9.4 0.9-8.6 0.5-9.4 0-9.4-0.4-9.4-0.8-10.2-1.4-11-1.7-11-2.2-11-2.8-12.5-84.6 0z"/>
<path fill="#406ef8" d="M417.3 451.3l56.4 0 7.1-14.1 6.5-14.1 4.3-10.2 3.6-9.4 3.4-10.2 2.8-9.4 2.3-9.4 1.9-9.5 1.4-9.4 0.9-9.4 0.5-9.4 0.1-9.4-0.4-9.4-0.8-10.2-1.1-10.2-1.7-11-2.2-11.7-2.5-11.8-82.5 0z"/>
<path fill="#467ffa" d="M417.3 451.3l54.2 0 7.3-14.9 6.4-14.1 4.2-10.2 3.7-10.2 3.1-9.4 2.7-9.4 2.2-9.4 1.8-9.4 1.3-8.7 1-9.4 0.5-9.4 0.1-9.4-0.2-9.4-0.7-10.2-1.1-10.2-1.6-11-2.1-11.7-2.4-11.8-80.4 0z"/>
<path fill="#488ffa" d="M417.3 451.3l52.1 0 7.6-15.7 6.2-14.1 4-10.2 3.4-9.4 3.3-10.2 2.6-9.4 2-8.6 1.8-9.4 1.4-9.5 0.9-9.4 0.6-9.4 0.1-9.4-0.2-9.4-0.7-10.2-1-10.2-1.5-11-1.9-10.9-2.3-11.8-78.4 0z"/>
<path fill="#4f9fff" d="M417.3 451.3l50 0 7.1-14.9 6.5-14.9 4.3-11 3.3-9.4 2.9-9.4 2.6-9.4 2-8.6 1.8-9.4 1.3-9.5 1-9.4 0.6-9.4 0.2-9.4-0.2-9.4-0.6-10.2-1-10.2-1.4-11-1.8-10.9-2.2-11.8-76.4 0z"/>
<path fill="#55aeff" d="M417.3 451.3l48 0 7.4-15.7 6.6-15.7 3.8-10.2 3.3-9.4 2.8-9.4 2.5-9.4 2.1-9.4 1.8-9.4 1.2-8.6 0.9-9.4 0.6-9.5 0.2-9.4-0.2-9.4-0.5-10.2-1-10.2-1.2-10.2-1.7-10.9-2.1-11.8-74.5 0z"/>
<path fill="#5dc3ff" d="M417.3 451.3l46 0 7.6-16.5 6.5-15.7 3.5-9.4 3.4-10.2 2.8-9.4 2.5-9.4 2-9.4 1.7-9.4 1.2-8.6 0.9-9.4 0.6-9.4 0.2-9.5-0.2-9.4-0.5-10.2-0.9-10.1-1.2-10.2-1.6-11-1.9-11-72.6 0z"/>
<path fill="#65d6ff" d="M417.3 451.3l44.1 0 7.8-17.3 7-17.2 3.3-9.4 3.1-9.4 2.7-9.4 2.3-9.4 2-9.5 1.5-8.6 1.2-8.6 0.9-9.4 0.6-9.4 0.2-9.4-0.2-9.4-0.4-9.5-0.8-10.1-1.2-10.2-1.5-11-1.9-11-70.7 0z"/>
<path fill="#6de6ff" d="M417.3 451.3l42.2 0 8.1-18 6.8-17.3 3.5-10.2 2.7-8.6 2.7-9.4 2.1-8.6 1.8-8.7 1.7-9.4 1.2-9.4 0.9-9.4 0.6-9.4 0.2-9.4-0.1-9.4-0.4-9.4-0.8-10.2-1.1-10.2-1.4-10.2-1.8-11-68.9 0z"/>
<path fill="#74f2ff" d="M417.3 451.3l40.4 0 8.2-18.8 7-18.1 3.2-9.4 2.9-9.4 2.5-9.4 2.1-8.6 1.7-8.6 1.6-9.4 1.1-8.7 0.9-9.4 0.6-9.4 0.2-9.4-0.1-9.4-0.4-9.4-0.7-9.4-1.1-10.2-1.3-10.2-1.7-11-67.1 0z"/>
<path fill="#77fbff" d="M417.3 451.3l38.6 0 4.5-10.2 4.3-10.2 6.7-18 3.1-9.4 2.6-8.7 2.5-9.4 2-8.6 1.9-9.4 1.4-8.6 1.1-8.7 0.9-9.4 0.5-8.6 0.2-9.4 0-9.4-0.4-9.4-0.7-10.2-0.9-9.4-1.3-10.2-1.7-11-65.3 0z"/>
<path fill="#79fffd" d="M417.3 451.3l36.8 0 4.5-10.2 4.2-10.2 3.9-10.2 3.3-9.4 2.8-8.6 2.7-9.4 2.5-9.4 1.9-8.7 1.7-8.6 1.3-8.6 1.2-9.4 0.8-8.7 0.5-8.6 0.2-9.4 0-9.4-0.4-9.4-0.6-9.4-1-10.2-1.2-10.2-1.5-10.2-63.6 0z"/>
<path fill="#7afffb" d="M417.3 451.3l35 0 4.4-10.2 4.5-11 3.9-10.2 3.5-10.2 2.7-8.6 2.7-9.4 2.1-8.6 1.9-8.6 1.7-8.7 1.3-8.6 1.2-9.4 0.7-8.6 0.5-8.7 0.3-9.4-0.1-9.4-0.3-9.4-0.6-9.4-0.9-9.4-1.2-10.2-1.4-10.2-61.9 0z"/>
<path fill="#7afffa" d="M417.3 451.3l33.3 0 4.7-11 4.4-11 4.1-10.9 3.6-11 2.9-9.4 2.3-8.6 2.1-8.7 1.8-8.6 1.6-8.6 1.2-8.7 1-8.6 0.8-8.6 0.5-8.6 0.2-9.4-0.1-8.7-0.3-9.4-0.6-9.4-0.8-9.4-2.5-19.6-60.2 0z"/>
<path fill="#7afff8" d="M417.3 451.3l31.6 0 5-11.8 4.6-11.7 3.7-10.2 3.6-11 2.6-8.6 2.5-9.4 2.1-8.7 1.7-8.6 1.6-8.6 1.2-8.6 1-8.7 0.7-8.6 0.5-8.6 0.2-8.6 0-8.7-0.3-9.4-0.6-9.4-0.8-9.4-2.4-19.6-58.5 0z"/>
<path fill="#79fff3" d="M417.3 451.3l29.9 0 5.3-12.5 4.5-11.8 4.2-11.8 3.5-11 4.7-17.2 2-8.6 1.7-8.7 2.6-16.4 1-8.6 0.7-8.7 0.4-8.6 0.3-8.6-0.1-8.6-0.3-9.5-0.5-9.4-0.8-9.4-2.2-18.8-56.9 0z"/>
<path fill="#79ffed" d="M417.3 451.3l28.3 0 5.2-12.5 4.8-12.6 4.1-11.8 3.6-11.7 4.5-16.5 1.9-8.6 1.7-8.6 2.5-16.5 1-8.6 0.7-8.7 0.7-17.2-0.3-17.3-0.5-9.4-0.8-9.4-2.1-18.8-55.3 0z"/>
<path fill="#78ffe6" d="M417.3 451.3l26.6 0 5.5-13.3 4.7-12.6 4.3-12.5 3.8-12.6 4.5-17.2 3.3-16.5 2.4-16.5 1.5-16.4 0.6-16.5-0.3-17.2-1.1-18.1-2.1-18.8-53.7 0z"/>
<path fill="#74ffd8" d="M417.3 451.3l25 0 5.8-14.1 4.9-13.3 4.4-13.4 3.7-12.5 4.1-16.5 3.3-16.5 2.3-16.4 1.4-15.7 0.6-16.5-0.3-17.2-1.1-18.1-2-18-52.1 0z"/>
<path fill="#70ffca" d="M417.3 451.3l23.4 0 5.7-14.1 5.2-14.1 4.4-13.4 3.8-13.3 4-16.5 3-15.6 2.3-16.5 1.4-15.7 0.5-16.5-0.2-17.2-1-17.3-1.9-18-50.6 0z"/>
<path fill="#6dffbc" d="M417.3 451.3l21.9 0 5.9-14.9 5.4-14.9 4.5-14.1 3.7-13.3 3.7-15.7 3.1-16.5 2-15.7 1.3-15.7 0.6-16.4-0.3-16.5-1-17.2-1.8-17.3-49 0z"/>
<path fill="#6affaf" d="M417.3 451.3l20.3 0 5.9-14.9 5.4-14.9 4.4-14.1 4.1-14.9 3.6-15.7 2.9-15.7 2-15.7 1.3-15.6 0.5-15.7-0.2-16.5-1-17.2-1.7-17.3-47.5 0z"/>
<path fill="#66ff9f" d="M417.3 451.3l18.8 0 6.5-16.5 5.2-14.9 4.6-14.9 4-14.9 3.3-14.9 2.7-15.6 2-15.7 1.2-15.7 0.5-15.7-0.2-15.7-0.9-16.4-1.6-17.3-46.1 0z"/>
<path fill="#63ff8e" d="M417.3 451.3l17.3 0 6.4-16.5 5.4-15.7 4.8-15.6 4.1-15.7 3.3-15.7 2.5-14.9 1.8-14.9 1.1-14.9 0.5-15.7-0.2-15.7-0.9-16.4-1.5-16.5-44.6 0z"/>
<path fill="#5fff7c" d="M417.3 451.3l15.8 0 6.7-17.3 5.6-16.4 4.9-16.5 3.9-15.7 3.1-14.9 2.4-14.9 1.7-14.9 1.1-14.9 0.4-14.9-0.2-15.6-0.8-15.7-1.5-16.5-43.1 0z"/>
<path fill="#5bff6b" d="M417.3 451.3l14.4 0 6.5-17.3 6.1-18 4.8-16.5 4-16.4 2.9-14.1 2.3-14.9 1.6-14.2 1.1-14.9 0.4-14.8-0.2-15.7-0.8-15.7-1.4-15.7-41.7 0z"/>
<path fill="#57ff5a" d="M417.3 451.3l12.9 0 6.8-18 6-18.1 5-17.2 4.1-17.3 2.7-14.1 2.1-14.1 1.6-14.1 1-14.9 0.4-14.9-0.2-14.9-0.8-14.9-1.3-15.7-40.3 0z"/>
<path fill="#4fff44" d="M417.3 451.3l11.5 0 7-18.8 6-18.1 5-18 4-17.2 2.7-14.2 2.1-14.1 1.4-14.1 1-14.1 0.3-14.1-0.1-14.9-0.7-14.9-1.3-15.7-38.9 0z"/>
<path fill="#47ff2f" d="M417.3 451.3l10.1 0 7.2-19.6 6.1-18.8 5-18.1 4.1-18 2.5-14.1 1.9-13.3 1.4-14.2 0.9-14.1 0.4-14.1-0.2-14.1-0.7-14.9-1.2-14.9-37.5 0z"/>
<path fill="#42ff24" d="M417.3 451.3l8.7 0 7.5-20.4 6.2-19.6 5.1-18.8 2.1-9.4 2-9.4 2.3-13.4 1.8-13.3 1.3-13.3 0.8-14.1 0.3-13.4-0.2-14.1-0.6-14.1-1.2-14.9-36.1 0z"/>
<path fill="#3dff1a" d="M417.3 451.3l7.3 0 1.2-3.1 7-19.6 6.1-19.6 4.9-18.9 4-18.8 2.1-12.5 1.7-13.4 1.3-13.3 0.7-13.3 0.3-13.4-0.1-14.1-0.7-14.1-1.1-14.1-34.7 0z"/>
<path fill="#38ff12" d="M417.3 451.3l5.9 0 4.4-11.8 6.1-18 5.3-18 4.3-17.3 3.4-17.2 2-12.6 1.7-13.3 1.1-12.6 0.7-13.3 0.3-13.3-0.2-13.4-0.6-13.3-1-14.1-33.4 0z"/>
<path fill="#39ff0f" d="M417.3 451.3l4.6 0 7.6-21.2 5.2-16.4 4.3-15.7 3.7-15.7 3-15.7 1.9-12.5 1.5-12.6 1.1-12.5 0.6-12.6 0.3-12.5-0.2-13.4-0.5-13.3-1-14.1-32.1 0z"/>
<path fill="#40ff10" d="M417.3 451.3l3.2 0 5.5-14.9 4.9-14.9 4.4-14.9 3.6-14.1 3.1-14.1 2.6-14.1 1.8-11.8 1.4-12.6 1-12.5 0.7-12.5 0.2-12.6-0.2-12.5-0.5-13.4-1-13.3-30.7 0z"/>
<path fill="#46ff12" d="M417.3 451.3l1.9 0 6.7-18.8 6-18.8 3.6-13.4 3.3-13.3 2.7-13.3 2.2-12.6 1.6-11.7 1.3-11.8 1-12.6 0.5-11.7 0.2-11.8-0.1-12.5-0.6-12.6-0.9-13.3-29.4 0z"/>
<path fill="#50ff15" d="M417.3 451.3l0.6 0 6.2-17.3 4.5-14.1 3.9-13.3 3-11.8 2.9-12.5 2.3-11.8 1.9-11.7 1.6-11.8 1.2-11.8 0.9-11.7 0.5-11.8 0.1-11.7-0.1-11.8-0.5-12.6-0.9-12.5-28.1 0z"/>
<path fill="#5bff18" d="M417.3 448.9l0 0.5 4.1-11.4 3.6-11 3.7-11.8 3.4-12.5 2.8-11 2.6-11.8 2.2-11.7 1.9-11.8 1.4-11 1.1-11.7 0.9-11.8 0.4-11 0.2-11.7-0.2-11.8-0.4-11.8-0.8-12.5-26.9 0z"/>
<path fill="#67ff1b" d="M417.3 445.8l4.1-11.8 3.8-11.7 3.2-11 3.2-11.8 2.6-10.9 2.3-11 2.2-11.8 1.7-11 1.4-10.9 1-11 0.8-11 0.5-11.7 0.2-11.8-0.2-11.8-0.5-11.7-0.7-11.8-25.6 0z"/>
<path fill="#74ff1f" d="M417.3 441.9l0 0.3 3.8-11.3 3.5-11 3.1-10.9 3.1-11.8 2.6-11 2.2-11 2-10.9 1.6-11 1.4-11 1-11 0.7-11 0.5-10.9 0.1-11-0.1-11.8-0.5-11.7-0.7-11.8-24.3 0z"/>
<path fill="#81ff22" d="M417.3 438l0 0.5 6.6-20.9 3.4-11.8 2.7-11 2.5-10.9 2.2-11 1.8-10.2 1.6-11 1.2-10.2 1-11 0.7-10.9 0.5-11 0.1-11-0.1-11.8-0.4-10.9-0.7-11.8-23.1 0z"/>
<path fill="#8dff25" d="M417.3 434l0 0.6 6.5-20.9 2.9-11 2.6-10.2 2.4-11 2.1-11 1.7-10.2 1.5-10.9 1.2-10.2 1-11 0.6-10.2 0.4-11 0.1-11-0.1-10.9-0.4-11-0.7-11-21.8 0z"/>
<path fill="#9aff28" d="M417.3 430.1l0 0.6 3.3-10.8 3-10.2 2.6-10.2 2.5-10.1 2.3-11 1.9-10.2 1.6-10.2 1.4-10.2 1.1-10.2 0.9-10.2 0.6-10.2 0.4-11 0.1-10.2-0.1-10.9-0.4-11-0.6-11-20.6 0z"/>
<path fill="#a6ff2c" d="M417.3 426.2l0 0.5 5.4-18.5 2.8-11 2.4-10.2 2.1-10.2 1.8-10.2 1.6-10.2 1.4-10.2 1.1-10.2 0.8-10.2 0.6-10.2 0.3-10.2 0.2-10.1-0.2-11-0.9-21.2-19.4 0z"/>
<path fill="#b2ff2e" d="M417.3 422.3l0 0.3 5.3-19.1 2.5-10.2 2.3-10.2 3.6-19.6 2.7-19.6 1.8-19.6 0.9-20.4 0-20.4-0.9-20.4-18.2 0z"/>
<path fill="#bcff31" d="M417.3 417.6l0 0.7 5-18.8 4.3-18.8 3.5-19.6 2.6-19.6 1.6-18.8 0.9-19.6-0.1-19.6-0.8-20.4-17 0z"/>
<path fill="#c4ff33" d="M417.3 413.7l0 0.2 4.7-18.3 4.1-18.8 3.2-18.8 2.4-18.8 1.5-18.9 0.7-18.8 0-18.8-0.8-19.6-15.8 0z"/>
<path fill="#ccff35" d="M417.3 409l0 0.3 4.2-16.8 3.9-18.8 3-18.1 2.2-18 1.4-18 0.7-18.9 0-18.8-0.8-18.8-14.6 0z"/>
<path fill="#d4ff37" d="M417.3 404.2l0 0.4 3.8-16 3.6-18.1 2.7-17.2 2.1-18.1 1.3-17.2 0.7-18 0-18.1-0.8-18.8-13.4 0z"/>
<path fill="#dcff39" d="M417.3 399.5l3.7-16.4 3.1-16.5 2.5-16.5 1.9-17.2 1.2-17.3 0.6-17.2-0.1-17.3-0.7-18-12.2 0z"/>
<path fill="#e5ff3b" d="M417.3 394.1l0 0.4 3.4-16.1 2.8-15.7 2.4-16.5 1.6-16.4 1.1-16.5 0.5-16.5-0.1-16.4-0.6-17.3-11.1 0z"/>
<path fill="#edff3d" d="M417.3 388.6l0 0.5 3.1-15.4 2.5-14.9 2.1-15.7 1.5-15.7 1-15.7 0.4-15.7 0-16.4-0.7-16.5-9.9 0z"/>
<path fill="#f4ff3f" d="M417.3 383.1l0 0.3 2.9-15.2 2.2-14.1 1.8-14.9 1.3-14.9 0.9-14.9 0.4-14.9-0.1-15.7-0.6-15.7-8.8 0z"/>
<path fill="#f8fb3f" d="M417.3 376.8l0 0.5 2.4-13.8 2-13.4 1.6-14.1 1.3-14.9 0.7-14.1 0.3-14.1-0.1-14.9-0.5-14.9-7.7 0z"/>
<path fill="#f8f33e" d="M417.3 370.5l0 0.3 2.1-12.8 1.8-13.3 1.4-13.4 1-13.3 0.6-13.3 0.3-14.2-0.1-13.3-0.5-14.1-6.6 0z"/>
<path fill="#f7e73d" d="M417.3 363.5l0 0.3 1.8-12.1 1.5-12.5 1.2-12.6 0.8-12.5 0.5-12.6 0.2-12.5-0.1-12.6-0.5-13.3-5.4 0z"/>
<path fill="#f5d93a" d="M417.3 355.6l0 0.5 1.5-11.4 1.2-11 1-11.8 0.7-11.7 0.4-11.8 0.1-11.8-0.2-11.7-0.4-11.8-4.3 0z"/>
<path fill="#f4cb37" d="M417.3 347l0 0.4 2.1-20 1.3-21.2 0.4-21.1-0.6-22-3.2 0z"/>
<path fill="#f3bd33" d="M417.3 336.8l0 0.6 1.5-17.8 0.9-18.9 0.2-18.8-0.5-18.8-2.1 0z"/>
<path fill="#f3ae30" d="M417.3 324.3l0 0.5 1-15.4 0.4-14.9 0.1-15.7-0.5-15.7-1 0z"/>
<path fill="#f4a02c" d="M417.3 305.4l0 0.4 0.4-20.7-0.4-21.2z"/>
<path fill="none" stroke="#000" stroke-width="0.9" stroke-dasharray="2.2 2" d="M496.5 451.3l10.2-15.7 8.6-14.1 7.2-12.5 6.1-11.8 4.5-10.2 3.5-9.4 1.4-4.7 1.2-4.7 0.9-4.7 0.6-3.9 0.5-4 0.3-4.7 0-4.7-0.1-4.7-0.4-4.7-0.6-5.5-1.7-10.2-2.7-11.7-3.7-13.4-4.7-14.9-6.3-18M630.4 296.4l-6.8 11.4-6.1 11-5.1 10.2-3.8 8.6-2.9 7.8-2.3 7.9-1.6 7.8-1 7.9-0.3 7.8 0.3 7.8 0.9 8.7 1.6 9.4 2.5 11 3 10.9 3.6 11.8 4.9 14.9M471.5 451.3l6.6-13.3 5.4-11.8 5.3-12.5 4.3-11.8 3.6-11 3-11 2.4-10.9 1.8-11 1.2-10.2 0.6-11 0.1-11-0.5-11.7-1-11.8-1.6-12.5-2.3-13.4-2.7-13.3M452.3 451.3l5.4-12.5 5-12.6 4.6-12.5 3.5-11 3.2-11 2.9-11.8 2.2-10.9 1.8-11 1.4-11.8 0.9-11 0.4-10.9 0-11.8-0.4-11.8-0.9-11.7-1.3-12.6-1.8-13.3M436.1 451.3l4.7-11.8 4.6-12.5 4.1-12.6 3.6-11.7 2.9-11 2.7-11.8 2.3-11.7 1.8-11 1.3-11 1.1-11.7 0.6-11 0.3-11.8-0.1-11.7-0.5-11.8-0.9-12.6-1.2-12.5M421.9 451.3l4.6-12.5 4-11.8 3.7-11.8 3.4-11.7 2.9-11.8 2.5-11 2.3-11.7 1.7-11 1.6-11.8 1.1-11 0.8-11.7 0.5-11.8 0.1-11.7-0.2-11.8-0.6-12.6-0.9-12.5M417.3 426.7l3-9.9 2.8-10.2 2.6-10.2 2.3-10.2 2.1-10.2 1.9-10.2 1.5-10.2 1.3-9.4 1.1-10.2 0.8-10.2 0.6-10.2 0.3-10.2 0.2-10.1-0.2-11-0.3-10.2-0.6-11M417.3 377.3l2.4-13.8 2.1-14.1 1.6-14.2 1.2-14.1 0.7-14.1 0.3-14.1-0.1-14.9-0.5-14.9"/>
</g>
<rect x="416.8" y="10.6" width="213.6" height="189.6" fill="none" stroke="#333" stroke-width="0.9"/>
<path d="M416.8 200.2v3.2M470.2 200.2v3.2M523.6 200.2v3.2M577 200.2v3.2M630.4 200.2v3.2M443.5 200.2v1.9M496.9 200.2v1.9M550.3 200.2v1.9M603.7 200.2v1.9M416.8 200.2h-3.2M416.8 152.8h-3.2M416.8 105.4h-3.2M416.8 58h-3.2M416.8 10.6h-3.2M416.8 176.5h-1.9M416.8 129.1h-1.9M416.8 81.7h-1.9M416.8 34.3h-1.9" stroke="#111" stroke-width="1" fill="none"/>
<rect x="417.3" y="263.1" width="213.1" height="188.2" fill="none" stroke="#333" stroke-width="0.9"/>
<path d="M417.3 451.3v3.2M470.6 451.3v3.2M523.9 451.3v3.2M577.1 451.3v3.2M630.4 451.3v3.2M443.9 451.3v1.9M497.2 451.3v1.9M550.5 451.3v1.9M603.8 451.3v1.9M417.3 451.3h-3.2M417.3 404.2h-3.2M417.3 357.2h-3.2M417.3 310.2h-3.2M417.3 263.1h-3.2M417.3 427.8h-1.9M417.3 380.7h-1.9M417.3 333.7h-1.9M417.3 286.6h-1.9" stroke="#111" stroke-width="1" fill="none"/>
<text x="416.8" y="216.3" font-size="14.3" text-anchor="middle" font-weight="bold" >4</text>
<text x="417.3" y="467.5" font-size="14.3" text-anchor="middle" font-weight="bold" >4</text>
<text x="470.2" y="216.3" font-size="14.3" text-anchor="middle" font-weight="bold" >8</text>
<text x="470.6" y="467.5" font-size="14.3" text-anchor="middle" font-weight="bold" >8</text>
<text x="523.6" y="216.3" font-size="14.3" text-anchor="middle" font-weight="bold" >12</text>
<text x="523.9" y="467.5" font-size="14.3" text-anchor="middle" font-weight="bold" >12</text>
<text x="577" y="216.3" font-size="14.3" text-anchor="middle" font-weight="bold" >16</text>
<text x="577.1" y="467.5" font-size="14.3" text-anchor="middle" font-weight="bold" >16</text>
<text x="628.9" y="216.3" font-size="14.3" text-anchor="middle" font-weight="bold" >20</text>
<text x="628.9" y="467.5" font-size="14.3" text-anchor="middle" font-weight="bold" >20</text>
<text x="410.7" y="204.9" font-size="14.3" text-anchor="end" font-weight="bold" >1</text>
<text x="410.7" y="157.5" font-size="14.3" text-anchor="end" font-weight="bold" >2</text>
<text x="410.7" y="110.1" font-size="14.3" text-anchor="end" font-weight="bold" >3</text>
<text x="410.7" y="62.7" font-size="14.3" text-anchor="end" font-weight="bold" >4</text>
<text x="410.7" y="15.3" font-size="14.3" text-anchor="end" font-weight="bold" >5</text>
<text x="410.7" y="455.2" font-size="14.3" text-anchor="end" font-weight="bold" >10</text>
<text x="410.7" y="408.1" font-size="14.3" text-anchor="end" font-weight="bold" >15</text>
<text x="410.7" y="361.1" font-size="14.3" text-anchor="end" font-weight="bold" >20</text>
<text x="410.7" y="314.1" font-size="14.3" text-anchor="end" font-weight="bold" >25</text>
<text x="410.7" y="267" font-size="14.3" text-anchor="end" font-weight="bold" >30</text>
<text x="529.4" y="233" font-size="17.4" text-anchor="middle" font-weight="bold" >BTA (g/L)</text>
<text x="532" y="484" font-size="17.4" text-anchor="middle" font-weight="bold" >BTA (g/L)</text>
<text x="0" y="0" font-size="16.8" text-anchor="middle" font-weight="bold" transform="translate(389,106.7) rotate(-90)">Sulfosalicylic acid (g/L)</text>
<text x="0" y="0" font-size="17.3" text-anchor="middle" font-weight="bold" transform="translate(384,357.3) rotate(-90)">H<tspan font-size="13" dy="4.5">2</tspan><tspan dy="-4.5">O</tspan><tspan font-size="13" dy="4.5">2</tspan><tspan dy="-4.5"> (ml)</tspan></text>
<text x="370.8" y="15.3" font-size="18.8" text-anchor="start" font-weight="bold" >(a<tspan font-size="13.5" dy="5" dx="0.3">2</tspan><tspan dy="-5">)</tspan></text>
<text x="366.3" y="266.4" font-size="18.8" text-anchor="start" font-weight="bold" >(b<tspan font-size="13.5" dy="5" dx="0.3">2</tspan><tspan dy="-5">)</tspan></text>
<text x="2.8" y="22" font-size="18.7" text-anchor="start" font-weight="bold" >(a<tspan font-size="13.5" dy="5" dx="0.5">1</tspan><tspan dy="-5">)</tspan></text>
<text x="0.8" y="271.7" font-size="18.7" text-anchor="start" font-weight="bold" >(b<tspan font-size="13.5" dy="5" dx="0.3">1</tspan><tspan dy="-5">)</tspan></text>
<rect x="639.1" y="10.5" width="16.5" height="189.6" fill="#1e00ff"/>
<rect x="639.1" y="10.5" width="16.5" height="185.70" fill="#1e00ff"/>
<rect x="639.1" y="10.5" width="16.5" height="183.42" fill="#1f02ff"/>
<rect x="639.1" y="10.5" width="16.5" height="181.14" fill="#1f02ff"/>
<rect x="639.1" y="10.5" width="16.5" height="178.87" fill="#2004ff"/>
<rect x="639.1" y="10.5" width="16.5" height="176.59" fill="#2c14f9"/>
<rect x="639.1" y="10.5" width="16.5" height="174.31" fill="#3b30f2"/>
<rect x="639.1" y="10.5" width="16.5" height="172.03" fill="#3e42f2"/>
<rect x="639.1" y="10.5" width="16.5" height="169.76" fill="#4051f2"/>
<rect x="639.1" y="10.5" width="16.5" height="167.48" fill="#405ff4"/>
<rect x="639.1" y="10.5" width="16.5" height="165.20" fill="#406ef8"/>
<rect x="639.1" y="10.5" width="16.5" height="162.92" fill="#467ffa"/>
<rect x="639.1" y="10.5" width="16.5" height="160.65" fill="#488ffa"/>
<rect x="639.1" y="10.5" width="16.5" height="158.37" fill="#4f9fff"/>
<rect x="639.1" y="10.5" width="16.5" height="156.09" fill="#55aeff"/>
<rect x="639.1" y="10.5" width="16.5" height="153.81" fill="#5dc3ff"/>
<rect x="639.1" y="10.5" width="16.5" height="151.54" fill="#65d6ff"/>
<rect x="639.1" y="10.5" width="16.5" height="149.26" fill="#6de6ff"/>
<rect x="639.1" y="10.5" width="16.5" height="146.98" fill="#74f2ff"/>
<rect x="639.1" y="10.5" width="16.5" height="144.70" fill="#77fbff"/>
<rect x="639.1" y="10.5" width="16.5" height="142.43" fill="#79fffd"/>
<rect x="639.1" y="10.5" width="16.5" height="140.15" fill="#7afffb"/>
<rect x="639.1" y="10.5" width="16.5" height="137.87" fill="#7afffa"/>
<rect x="639.1" y="10.5" width="16.5" height="135.59" fill="#7afff8"/>
<rect x="639.1" y="10.5" width="16.5" height="133.32" fill="#79fff3"/>
<rect x="639.1" y="10.5" width="16.5" height="131.04" fill="#79ffed"/>
<rect x="639.1" y="10.5" width="16.5" height="128.76" fill="#78ffe6"/>
<rect x="639.1" y="10.5" width="16.5" height="126.48" fill="#74ffd8"/>
<rect x="639.1" y="10.5" width="16.5" height="124.21" fill="#70ffca"/>
<rect x="639.1" y="10.5" width="16.5" height="121.93" fill="#6dffbc"/>
<rect x="639.1" y="10.5" width="16.5" height="119.65" fill="#6affaf"/>
<rect x="639.1" y="10.5" width="16.5" height="117.38" fill="#66ff9f"/>
<rect x="639.1" y="10.5" width="16.5" height="115.10" fill="#63ff8e"/>
<rect x="639.1" y="10.5" width="16.5" height="112.82" fill="#5fff7c"/>
<rect x="639.1" y="10.5" width="16.5" height="110.54" fill="#5bff6b"/>
<rect x="639.1" y="10.5" width="16.5" height="108.26" fill="#57ff5a"/>
<rect x="639.1" y="10.5" width="16.5" height="105.99" fill="#4fff44"/>
<rect x="639.1" y="10.5" width="16.5" height="103.71" fill="#47ff2f"/>
<rect x="639.1" y="10.5" width="16.5" height="101.43" fill="#42ff24"/>
<rect x="639.1" y="10.5" width="16.5" height="99.16" fill="#3dff1a"/>
<rect x="639.1" y="10.5" width="16.5" height="96.88" fill="#38ff12"/>
<rect x="639.1" y="10.5" width="16.5" height="94.60" fill="#39ff0f"/>
<rect x="639.1" y="10.5" width="16.5" height="92.32" fill="#40ff10"/>
<rect x="639.1" y="10.5" width="16.5" height="90.05" fill="#46ff12"/>
<rect x="639.1" y="10.5" width="16.5" height="87.77" fill="#50ff15"/>
<rect x="639.1" y="10.5" width="16.5" height="85.49" fill="#5bff18"/>
<rect x="639.1" y="10.5" width="16.5" height="83.21" fill="#67ff1b"/>
<rect x="639.1" y="10.5" width="16.5" height="80.93" fill="#74ff1f"/>
<rect x="639.1" y="10.5" width="16.5" height="78.66" fill="#81ff22"/>
<rect x="639.1" y="10.5" width="16.5" height="76.38" fill="#8dff25"/>
<rect x="639.1" y="10.5" width="16.5" height="74.10" fill="#9aff28"/>
<rect x="639.1" y="10.5" width="16.5" height="71.82" fill="#a6ff2c"/>
<rect x="639.1" y="10.5" width="16.5" height="69.55" fill="#b2ff2e"/>
<rect x="639.1" y="10.5" width="16.5" height="67.27" fill="#bcff31"/>
<rect x="639.1" y="10.5" width="16.5" height="64.99" fill="#c4ff33"/>
<rect x="639.1" y="10.5" width="16.5" height="62.72" fill="#ccff35"/>
<rect x="639.1" y="10.5" width="16.5" height="60.44" fill="#d4ff37"/>
<rect x="639.1" y="10.5" width="16.5" height="58.16" fill="#dcff39"/>
<rect x="639.1" y="10.5" width="16.5" height="55.88" fill="#e5ff3b"/>
<rect x="639.1" y="10.5" width="16.5" height="53.60" fill="#edff3d"/>
<rect x="639.1" y="10.5" width="16.5" height="51.33" fill="#f4ff3f"/>
<rect x="639.1" y="10.5" width="16.5" height="49.05" fill="#f8fb3f"/>
<rect x="639.1" y="10.5" width="16.5" height="46.77" fill="#f8f33e"/>
<rect x="639.1" y="10.5" width="16.5" height="44.50" fill="#f7e73d"/>
<rect x="639.1" y="10.5" width="16.5" height="42.22" fill="#f5d93a"/>
<rect x="639.1" y="10.5" width="16.5" height="39.94" fill="#f4cb37"/>
<rect x="639.1" y="10.5" width="16.5" height="37.66" fill="#f3bd33"/>
<rect x="639.1" y="10.5" width="16.5" height="35.39" fill="#f3ae30"/>
<rect x="639.1" y="10.5" width="16.5" height="33.11" fill="#f4a02c"/>
<rect x="639.1" y="10.5" width="16.5" height="30.83" fill="#f59229"/>
<rect x="639.1" y="10.5" width="16.5" height="28.55" fill="#f78526"/>
<rect x="639.1" y="10.5" width="16.5" height="26.27" fill="#f77722"/>
<rect x="639.1" y="10.5" width="16.5" height="24.00" fill="#f86a1f"/>
<rect x="639.1" y="10.5" width="16.5" height="21.72" fill="#f85d1b"/>
<rect x="639.1" y="10.5" width="16.5" height="19.44" fill="#fa4f18"/>
<rect x="639.1" y="10.5" width="16.5" height="17.16" fill="#fe4216"/>
<rect x="639.1" y="10.5" width="16.5" height="14.89" fill="#ff3413"/>
<rect x="639.1" y="10.5" width="16.5" height="12.61" fill="#ff2510"/>
<rect x="639.1" y="10.5" width="16.5" height="10.33" fill="#ff2210"/>
<rect x="639.1" y="10.5" width="16.5" height="8.06" fill="#ff2110"/>
<rect x="639.1" y="10.5" width="16.5" height="5.78" fill="#ff2010"/>
<rect x="639.1" y="10.5" width="16.5" height="3.50" fill="#ff2010"/>
<rect x="639.1" y="10.5" width="16.5" height="189.6" fill="none" stroke="#222" stroke-width="0.8"/>
<text x="662.5" y="199.5" font-size="9.6" text-anchor="start" font-weight="bold" >0.000</text>
<text x="662.5" y="176.7" font-size="9.6" text-anchor="start" font-weight="bold" >13.75</text>
<text x="662.5" y="153.9" font-size="9.6" text-anchor="start" font-weight="bold" >27.50</text>
<text x="662.5" y="131.2" font-size="9.6" text-anchor="start" font-weight="bold" >41.25</text>
<text x="662.5" y="108.4" font-size="9.6" text-anchor="start" font-weight="bold" >55.00</text>
<text x="662.5" y="85.6" font-size="9.6" text-anchor="start" font-weight="bold" >68.75</text>
<text x="662.5" y="62.9" font-size="9.6" text-anchor="start" font-weight="bold" >82.50</text>
<text x="662.5" y="40.1" font-size="9.6" text-anchor="start" font-weight="bold" >96.25</text>
<text x="662.5" y="17.3" font-size="9.6" text-anchor="start" font-weight="bold" >110.0</text>
<path d="M655.6 196.2h3M655.6 173.4h3M655.6 150.6h3M655.6 127.9h3M655.6 105.1h3M655.6 82.3h3M655.6 59.6h3M655.6 36.8h3M655.6 14h3" stroke="#111" stroke-width="1" fill="none"/>
<rect x="639.1" y="263" width="16.5" height="188.5" fill="#1e00ff"/>
<rect x="639.1" y="263" width="16.5" height="184.50" fill="#1e00ff"/>
<rect x="639.1" y="263" width="16.5" height="182.24" fill="#1f02ff"/>
<rect x="639.1" y="263" width="16.5" height="179.98" fill="#1f02ff"/>
<rect x="639.1" y="263" width="16.5" height="177.71" fill="#2004ff"/>
<rect x="639.1" y="263" width="16.5" height="175.45" fill="#2c14f9"/>
<rect x="639.1" y="263" width="16.5" height="173.19" fill="#3b30f2"/>
<rect x="639.1" y="263" width="16.5" height="170.93" fill="#3e42f2"/>
<rect x="639.1" y="263" width="16.5" height="168.66" fill="#4051f2"/>
<rect x="639.1" y="263" width="16.5" height="166.40" fill="#405ff4"/>
<rect x="639.1" y="263" width="16.5" height="164.14" fill="#406ef8"/>
<rect x="639.1" y="263" width="16.5" height="161.88" fill="#467ffa"/>
<rect x="639.1" y="263" width="16.5" height="159.61" fill="#488ffa"/>
<rect x="639.1" y="263" width="16.5" height="157.35" fill="#4f9fff"/>
<rect x="639.1" y="263" width="16.5" height="155.09" fill="#55aeff"/>
<rect x="639.1" y="263" width="16.5" height="152.82" fill="#5dc3ff"/>
<rect x="639.1" y="263" width="16.5" height="150.56" fill="#65d6ff"/>
<rect x="639.1" y="263" width="16.5" height="148.30" fill="#6de6ff"/>
<rect x="639.1" y="263" width="16.5" height="146.04" fill="#74f2ff"/>
<rect x="639.1" y="263" width="16.5" height="143.77" fill="#77fbff"/>
<rect x="639.1" y="263" width="16.5" height="141.51" fill="#79fffd"/>
<rect x="639.1" y="263" width="16.5" height="139.25" fill="#7afffb"/>
<rect x="639.1" y="263" width="16.5" height="136.99" fill="#7afffa"/>
<rect x="639.1" y="263" width="16.5" height="134.73" fill="#7afff8"/>
<rect x="639.1" y="263" width="16.5" height="132.46" fill="#79fff3"/>
<rect x="639.1" y="263" width="16.5" height="130.20" fill="#79ffed"/>
<rect x="639.1" y="263" width="16.5" height="127.94" fill="#78ffe6"/>
<rect x="639.1" y="263" width="16.5" height="125.68" fill="#74ffd8"/>
<rect x="639.1" y="263" width="16.5" height="123.41" fill="#70ffca"/>
<rect x="639.1" y="263" width="16.5" height="121.15" fill="#6dffbc"/>
<rect x="639.1" y="263" width="16.5" height="118.89" fill="#6affaf"/>
<rect x="639.1" y="263" width="16.5" height="116.62" fill="#66ff9f"/>
<rect x="639.1" y="263" width="16.5" height="114.36" fill="#63ff8e"/>
<rect x="639.1" y="263" width="16.5" height="112.10" fill="#5fff7c"/>
<rect x="639.1" y="263" width="16.5" height="109.84" fill="#5bff6b"/>
<rect x="639.1" y="263" width="16.5" height="107.57" fill="#57ff5a"/>
<rect x="639.1" y="263" width="16.5" height="105.31" fill="#4fff44"/>
<rect x="639.1" y="263" width="16.5" height="103.05" fill="#47ff2f"/>
<rect x="639.1" y="263" width="16.5" height="100.79" fill="#42ff24"/>
<rect x="639.1" y="263" width="16.5" height="98.52" fill="#3dff1a"/>
<rect x="639.1" y="263" width="16.5" height="96.26" fill="#38ff12"/>
<rect x="639.1" y="263" width="16.5" height="94.00" fill="#39ff0f"/>
<rect x="639.1" y="263" width="16.5" height="91.74" fill="#40ff10"/>
<rect x="639.1" y="263" width="16.5" height="89.48" fill="#46ff12"/>
<rect x="639.1" y="263" width="16.5" height="87.21" fill="#50ff15"/>
<rect x="639.1" y="263" width="16.5" height="84.95" fill="#5bff18"/>
<rect x="639.1" y="263" width="16.5" height="82.69" fill="#67ff1b"/>
<rect x="639.1" y="263" width="16.5" height="80.43" fill="#74ff1f"/>
<rect x="639.1" y="263" width="16.5" height="78.16" fill="#81ff22"/>
<rect x="639.1" y="263" width="16.5" height="75.90" fill="#8dff25"/>
<rect x="639.1" y="263" width="16.5" height="73.64" fill="#9aff28"/>
<rect x="639.1" y="263" width="16.5" height="71.38" fill="#a6ff2c"/>
<rect x="639.1" y="263" width="16.5" height="69.11" fill="#b2ff2e"/>
<rect x="639.1" y="263" width="16.5" height="66.85" fill="#bcff31"/>
<rect x="639.1" y="263" width="16.5" height="64.59" fill="#c4ff33"/>
<rect x="639.1" y="263" width="16.5" height="62.32" fill="#ccff35"/>
<rect x="639.1" y="263" width="16.5" height="60.06" fill="#d4ff37"/>
<rect x="639.1" y="263" width="16.5" height="57.80" fill="#dcff39"/>
<rect x="639.1" y="263" width="16.5" height="55.54" fill="#e5ff3b"/>
<rect x="639.1" y="263" width="16.5" height="53.27" fill="#edff3d"/>
<rect x="639.1" y="263" width="16.5" height="51.01" fill="#f4ff3f"/>
<rect x="639.1" y="263" width="16.5" height="48.75" fill="#f8fb3f"/>
<rect x="639.1" y="263" width="16.5" height="46.49" fill="#f8f33e"/>
<rect x="639.1" y="263" width="16.5" height="44.23" fill="#f7e73d"/>
<rect x="639.1" y="263" width="16.5" height="41.96" fill="#f5d93a"/>
<rect x="639.1" y="263" width="16.5" height="39.70" fill="#f4cb37"/>
<rect x="639.1" y="263" width="16.5" height="37.44" fill="#f3bd33"/>
<rect x="639.1" y="263" width="16.5" height="35.18" fill="#f3ae30"/>
<rect x="639.1" y="263" width="16.5" height="32.91" fill="#f4a02c"/>
<rect x="639.1" y="263" width="16.5" height="30.65" fill="#f59229"/>
<rect x="639.1" y="263" width="16.5" height="28.39" fill="#f78526"/>
<rect x="639.1" y="263" width="16.5" height="26.12" fill="#f77722"/>
<rect x="639.1" y="263" width="16.5" height="23.86" fill="#f86a1f"/>
<rect x="639.1" y="263" width="16.5" height="21.60" fill="#f85d1b"/>
<rect x="639.1" y="263" width="16.5" height="19.34" fill="#fa4f18"/>
<rect x="639.1" y="263" width="16.5" height="17.07" fill="#fe4216"/>
<rect x="639.1" y="263" width="16.5" height="14.81" fill="#ff3413"/>
<rect x="639.1" y="263" width="16.5" height="12.55" fill="#ff2510"/>
<rect x="639.1" y="263" width="16.5" height="10.29" fill="#ff2210"/>
<rect x="639.1" y="263" width="16.5" height="8.02" fill="#ff2110"/>
<rect x="639.1" y="263" width="16.5" height="5.76" fill="#ff2010"/>
<rect x="639.1" y="263" width="16.5" height="3.50" fill="#ff2010"/>
<rect x="639.1" y="263" width="16.5" height="188.5" fill="none" stroke="#222" stroke-width="0.8"/>
<text x="662.5" y="450.8" font-size="9.6" text-anchor="start" font-weight="bold" >0.000</text>
<text x="662.5" y="428.2" font-size="9.6" text-anchor="start" font-weight="bold" >13.75</text>
<text x="662.5" y="405.6" font-size="9.6" text-anchor="start" font-weight="bold" >27.50</text>
<text x="662.5" y="382.9" font-size="9.6" text-anchor="start" font-weight="bold" >41.25</text>
<text x="662.5" y="360.3" font-size="9.6" text-anchor="start" font-weight="bold" >55.00</text>
<text x="662.5" y="337.7" font-size="9.6" text-anchor="start" font-weight="bold" >68.75</text>
<text x="662.5" y="315.1" font-size="9.6" text-anchor="start" font-weight="bold" >82.50</text>
<text x="662.5" y="292.4" font-size="9.6" text-anchor="start" font-weight="bold" >96.25</text>
<text x="662.5" y="269.8" font-size="9.6" text-anchor="start" font-weight="bold" >110.0</text>
<path d="M655.6 447.5h3M655.6 424.9h3M655.6 402.2h3M655.6 379.6h3M655.6 357h3M655.6 334.4h3M655.6 311.8h3M655.6 289.1h3M655.6 266.5h3" stroke="#111" stroke-width="1" fill="none"/>
<rect x="294.7" y="17.1" width="15" height="150.3" fill="#1e00ff"/>
<rect x="294.7" y="17.1" width="15" height="148.60" fill="#1e00ff"/>
<rect x="294.7" y="17.1" width="15" height="146.76" fill="#1f02ff"/>
<rect x="294.7" y="17.1" width="15" height="144.92" fill="#1f02ff"/>
<rect x="294.7" y="17.1" width="15" height="143.09" fill="#2004ff"/>
<rect x="294.7" y="17.1" width="15" height="141.25" fill="#2c14f9"/>
<rect x="294.7" y="17.1" width="15" height="139.41" fill="#3b30f2"/>
<rect x="294.7" y="17.1" width="15" height="137.57" fill="#3e42f2"/>
<rect x="294.7" y="17.1" width="15" height="135.74" fill="#4051f2"/>
<rect x="294.7" y="17.1" width="15" height="133.90" fill="#405ff4"/>
<rect x="294.7" y="17.1" width="15" height="132.06" fill="#406ef8"/>
<rect x="294.7" y="17.1" width="15" height="130.22" fill="#467ffa"/>
<rect x="294.7" y="17.1" width="15" height="128.39" fill="#488ffa"/>
<rect x="294.7" y="17.1" width="15" height="126.55" fill="#4f9fff"/>
<rect x="294.7" y="17.1" width="15" height="124.71" fill="#55aeff"/>
<rect x="294.7" y="17.1" width="15" height="122.88" fill="#5dc3ff"/>
<rect x="294.7" y="17.1" width="15" height="121.04" fill="#65d6ff"/>
<rect x="294.7" y="17.1" width="15" height="119.20" fill="#6de6ff"/>
<rect x="294.7" y="17.1" width="15" height="117.36" fill="#74f2ff"/>
<rect x="294.7" y="17.1" width="15" height="115.53" fill="#77fbff"/>
<rect x="294.7" y="17.1" width="15" height="113.69" fill="#79fffd"/>
<rect x="294.7" y="17.1" width="15" height="111.85" fill="#7afffb"/>
<rect x="294.7" y="17.1" width="15" height="110.01" fill="#7afffa"/>
<rect x="294.7" y="17.1" width="15" height="108.17" fill="#7afff8"/>
<rect x="294.7" y="17.1" width="15" height="106.34" fill="#79fff3"/>
<rect x="294.7" y="17.1" width="15" height="104.50" fill="#79ffed"/>
<rect x="294.7" y="17.1" width="15" height="102.66" fill="#78ffe6"/>
<rect x="294.7" y="17.1" width="15" height="100.82" fill="#74ffd8"/>
<rect x="294.7" y="17.1" width="15" height="98.99" fill="#70ffca"/>
<rect x="294.7" y="17.1" width="15" height="97.15" fill="#6dffbc"/>
<rect x="294.7" y="17.1" width="15" height="95.31" fill="#6affaf"/>
<rect x="294.7" y="17.1" width="15" height="93.47" fill="#66ff9f"/>
<rect x="294.7" y="17.1" width="15" height="91.64" fill="#63ff8e"/>
<rect x="294.7" y="17.1" width="15" height="89.80" fill="#5fff7c"/>
<rect x="294.7" y="17.1" width="15" height="87.96" fill="#5bff6b"/>
<rect x="294.7" y="17.1" width="15" height="86.12" fill="#57ff5a"/>
<rect x="294.7" y="17.1" width="15" height="84.29" fill="#4fff44"/>
<rect x="294.7" y="17.1" width="15" height="82.45" fill="#47ff2f"/>
<rect x="294.7" y="17.1" width="15" height="80.61" fill="#42ff24"/>
<rect x="294.7" y="17.1" width="15" height="78.77" fill="#3dff1a"/>
<rect x="294.7" y="17.1" width="15" height="76.94" fill="#38ff12"/>
<rect x="294.7" y="17.1" width="15" height="75.10" fill="#39ff0f"/>
<rect x="294.7" y="17.1" width="15" height="73.26" fill="#40ff10"/>
<rect x="294.7" y="17.1" width="15" height="71.42" fill="#46ff12"/>
<rect x="294.7" y="17.1" width="15" height="69.59" fill="#50ff15"/>
<rect x="294.7" y="17.1" width="15" height="67.75" fill="#5bff18"/>
<rect x="294.7" y="17.1" width="15" height="65.91" fill="#67ff1b"/>
<rect x="294.7" y="17.1" width="15" height="64.07" fill="#74ff1f"/>
<rect x="294.7" y="17.1" width="15" height="62.24" fill="#81ff22"/>
<rect x="294.7" y="17.1" width="15" height="60.40" fill="#8dff25"/>
<rect x="294.7" y="17.1" width="15" height="58.56" fill="#9aff28"/>
<rect x="294.7" y="17.1" width="15" height="56.72" fill="#a6ff2c"/>
<rect x="294.7" y="17.1" width="15" height="54.89" fill="#b2ff2e"/>
<rect x="294.7" y="17.1" width="15" height="53.05" fill="#bcff31"/>
<rect x="294.7" y="17.1" width="15" height="51.21" fill="#c4ff33"/>
<rect x="294.7" y="17.1" width="15" height="49.37" fill="#ccff35"/>
<rect x="294.7" y="17.1" width="15" height="47.54" fill="#d4ff37"/>
<rect x="294.7" y="17.1" width="15" height="45.70" fill="#dcff39"/>
<rect x="294.7" y="17.1" width="15" height="43.86" fill="#e5ff3b"/>
<rect x="294.7" y="17.1" width="15" height="42.02" fill="#edff3d"/>
<rect x="294.7" y="17.1" width="15" height="40.19" fill="#f4ff3f"/>
<rect x="294.7" y="17.1" width="15" height="38.35" fill="#f8fb3f"/>
<rect x="294.7" y="17.1" width="15" height="36.51" fill="#f8f33e"/>
<rect x="294.7" y="17.1" width="15" height="34.67" fill="#f7e73d"/>
<rect x="294.7" y="17.1" width="15" height="32.84" fill="#f5d93a"/>
<rect x="294.7" y="17.1" width="15" height="31.00" fill="#f4cb37"/>
<rect x="294.7" y="17.1" width="15" height="29.16" fill="#f3bd33"/>
<rect x="294.7" y="17.1" width="15" height="27.32" fill="#f3ae30"/>
<rect x="294.7" y="17.1" width="15" height="25.49" fill="#f4a02c"/>
<rect x="294.7" y="17.1" width="15" height="23.65" fill="#f59229"/>
<rect x="294.7" y="17.1" width="15" height="21.81" fill="#f78526"/>
<rect x="294.7" y="17.1" width="15" height="19.97" fill="#f77722"/>
<rect x="294.7" y="17.1" width="15" height="18.14" fill="#f86a1f"/>
<rect x="294.7" y="17.1" width="15" height="16.30" fill="#f85d1b"/>
<rect x="294.7" y="17.1" width="15" height="14.46" fill="#fa4f18"/>
<rect x="294.7" y="17.1" width="15" height="12.62" fill="#fe4216"/>
<rect x="294.7" y="17.1" width="15" height="10.79" fill="#ff3413"/>
<rect x="294.7" y="17.1" width="15" height="8.95" fill="#ff2510"/>
<rect x="294.7" y="17.1" width="15" height="7.11" fill="#ff2210"/>
<rect x="294.7" y="17.1" width="15" height="5.27" fill="#ff2110"/>
<rect x="294.7" y="17.1" width="15" height="3.44" fill="#ff2010"/>
<rect x="294.7" y="17.1" width="15" height="1.60" fill="#ff2010"/>
<rect x="294.7" y="17.1" width="15" height="150.3" fill="none" stroke="#777" stroke-width="0.8"/>
<text x="317.3" y="169" font-size="9.6" text-anchor="start" font-weight="bold" >0.000</text>
<text x="317.3" y="154.3" font-size="9.6" text-anchor="start" font-weight="bold" >11.00</text>
<text x="317.3" y="139.6" font-size="9.6" text-anchor="start" font-weight="bold" >22.00</text>
<text x="317.3" y="124.9" font-size="9.6" text-anchor="start" font-weight="bold" >33.00</text>
<text x="317.3" y="110.2" font-size="9.6" text-anchor="start" font-weight="bold" >44.00</text>
<text x="317.3" y="95.5" font-size="9.6" text-anchor="start" font-weight="bold" >55.00</text>
<text x="317.3" y="80.8" font-size="9.6" text-anchor="start" font-weight="bold" >66.00</text>
<text x="317.3" y="66.1" font-size="9.6" text-anchor="start" font-weight="bold" >77.00</text>
<text x="317.3" y="51.4" font-size="9.6" text-anchor="start" font-weight="bold" >88.00</text>
<text x="317.3" y="36.7" font-size="9.6" text-anchor="start" font-weight="bold" >99.00</text>
<text x="317.3" y="22" font-size="9.6" text-anchor="start" font-weight="bold" >110.0</text>
<path d="M309.7 165.7h3M309.7 151h3M309.7 136.3h3M309.7 121.6h3M309.7 106.9h3M309.7 92.2h3M309.7 77.5h3M309.7 62.8h3M309.7 48.1h3M309.7 33.4h3M309.7 18.7h3" stroke="#111" stroke-width="1" fill="none"/>
<rect x="294.1" y="269.1" width="15.2" height="152.4" fill="#1e00ff"/>
<rect x="294.1" y="269.1" width="15.2" height="151.20" fill="#1e00ff"/>
<rect x="294.1" y="269.1" width="15.2" height="149.33" fill="#1f02ff"/>
<rect x="294.1" y="269.1" width="15.2" height="147.47" fill="#1f02ff"/>
<rect x="294.1" y="269.1" width="15.2" height="145.60" fill="#2004ff"/>
<rect x="294.1" y="269.1" width="15.2" height="143.74" fill="#2c14f9"/>
<rect x="294.1" y="269.1" width="15.2" height="141.88" fill="#3b30f2"/>
<rect x="294.1" y="269.1" width="15.2" height="140.01" fill="#3e42f2"/>
<rect x="294.1" y="269.1" width="15.2" height="138.14" fill="#4051f2"/>
<rect x="294.1" y="269.1" width="15.2" height="136.28" fill="#405ff4"/>
<rect x="294.1" y="269.1" width="15.2" height="134.41" fill="#406ef8"/>
<rect x="294.1" y="269.1" width="15.2" height="132.55" fill="#467ffa"/>
<rect x="294.1" y="269.1" width="15.2" height="130.69" fill="#488ffa"/>
<rect x="294.1" y="269.1" width="15.2" height="128.82" fill="#4f9fff"/>
<rect x="294.1" y="269.1" width="15.2" height="126.95" fill="#55aeff"/>
<rect x="294.1" y="269.1" width="15.2" height="125.09" fill="#5dc3ff"/>
<rect x="294.1" y="269.1" width="15.2" height="123.23" fill="#65d6ff"/>
<rect x="294.1" y="269.1" width="15.2" height="121.36" fill="#6de6ff"/>
<rect x="294.1" y="269.1" width="15.2" height="119.50" fill="#74f2ff"/>
<rect x="294.1" y="269.1" width="15.2" height="117.63" fill="#77fbff"/>
<rect x="294.1" y="269.1" width="15.2" height="115.76" fill="#79fffd"/>
<rect x="294.1" y="269.1" width="15.2" height="113.90" fill="#7afffb"/>
<rect x="294.1" y="269.1" width="15.2" height="112.03" fill="#7afffa"/>
<rect x="294.1" y="269.1" width="15.2" height="110.17" fill="#7afff8"/>
<rect x="294.1" y="269.1" width="15.2" height="108.31" fill="#79fff3"/>
<rect x="294.1" y="269.1" width="15.2" height="106.44" fill="#79ffed"/>
<rect x="294.1" y="269.1" width="15.2" height="104.57" fill="#78ffe6"/>
<rect x="294.1" y="269.1" width="15.2" height="102.71" fill="#74ffd8"/>
<rect x="294.1" y="269.1" width="15.2" height="100.84" fill="#70ffca"/>
<rect x="294.1" y="269.1" width="15.2" height="98.98" fill="#6dffbc"/>
<rect x="294.1" y="269.1" width="15.2" height="97.12" fill="#6affaf"/>
<rect x="294.1" y="269.1" width="15.2" height="95.25" fill="#66ff9f"/>
<rect x="294.1" y="269.1" width="15.2" height="93.38" fill="#63ff8e"/>
<rect x="294.1" y="269.1" width="15.2" height="91.52" fill="#5fff7c"/>
<rect x="294.1" y="269.1" width="15.2" height="89.65" fill="#5bff6b"/>
<rect x="294.1" y="269.1" width="15.2" height="87.79" fill="#57ff5a"/>
<rect x="294.1" y="269.1" width="15.2" height="85.93" fill="#4fff44"/>
<rect x="294.1" y="269.1" width="15.2" height="84.06" fill="#47ff2f"/>
<rect x="294.1" y="269.1" width="15.2" height="82.19" fill="#42ff24"/>
<rect x="294.1" y="269.1" width="15.2" height="80.33" fill="#3dff1a"/>
<rect x="294.1" y="269.1" width="15.2" height="78.46" fill="#38ff12"/>
<rect x="294.1" y="269.1" width="15.2" height="76.60" fill="#39ff0f"/>
<rect x="294.1" y="269.1" width="15.2" height="74.74" fill="#40ff10"/>
<rect x="294.1" y="269.1" width="15.2" height="72.87" fill="#46ff12"/>
<rect x="294.1" y="269.1" width="15.2" height="71.00" fill="#50ff15"/>
<rect x="294.1" y="269.1" width="15.2" height="69.14" fill="#5bff18"/>
<rect x="294.1" y="269.1" width="15.2" height="67.27" fill="#67ff1b"/>
<rect x="294.1" y="269.1" width="15.2" height="65.41" fill="#74ff1f"/>
<rect x="294.1" y="269.1" width="15.2" height="63.55" fill="#81ff22"/>
<rect x="294.1" y="269.1" width="15.2" height="61.68" fill="#8dff25"/>
<rect x="294.1" y="269.1" width="15.2" height="59.81" fill="#9aff28"/>
<rect x="294.1" y="269.1" width="15.2" height="57.95" fill="#a6ff2c"/>
<rect x="294.1" y="269.1" width="15.2" height="56.08" fill="#b2ff2e"/>
<rect x="294.1" y="269.1" width="15.2" height="54.22" fill="#bcff31"/>
<rect x="294.1" y="269.1" width="15.2" height="52.36" fill="#c4ff33"/>
<rect x="294.1" y="269.1" width="15.2" height="50.49" fill="#ccff35"/>
<rect x="294.1" y="269.1" width="15.2" height="48.62" fill="#d4ff37"/>
<rect x="294.1" y="269.1" width="15.2" height="46.76" fill="#dcff39"/>
<rect x="294.1" y="269.1" width="15.2" height="44.89" fill="#e5ff3b"/>
<rect x="294.1" y="269.1" width="15.2" height="43.03" fill="#edff3d"/>
<rect x="294.1" y="269.1" width="15.2" height="41.17" fill="#f4ff3f"/>
<rect x="294.1" y="269.1" width="15.2" height="39.30" fill="#f8fb3f"/>
<rect x="294.1" y="269.1" width="15.2" height="37.44" fill="#f8f33e"/>
<rect x="294.1" y="269.1" width="15.2" height="35.57" fill="#f7e73d"/>
<rect x="294.1" y="269.1" width="15.2" height="33.70" fill="#f5d93a"/>
<rect x="294.1" y="269.1" width="15.2" height="31.84" fill="#f4cb37"/>
<rect x="294.1" y="269.1" width="15.2" height="29.98" fill="#f3bd33"/>
<rect x="294.1" y="269.1" width="15.2" height="28.11" fill="#f3ae30"/>
<rect x="294.1" y="269.1" width="15.2" height="26.25" fill="#f4a02c"/>
<rect x="294.1" y="269.1" width="15.2" height="24.38" fill="#f59229"/>
<rect x="294.1" y="269.1" width="15.2" height="22.51" fill="#f78526"/>
<rect x="294.1" y="269.1" width="15.2" height="20.65" fill="#f77722"/>
<rect x="294.1" y="269.1" width="15.2" height="18.78" fill="#f86a1f"/>
<rect x="294.1" y="269.1" width="15.2" height="16.92" fill="#f85d1b"/>
<rect x="294.1" y="269.1" width="15.2" height="15.06" fill="#fa4f18"/>
<rect x="294.1" y="269.1" width="15.2" height="13.19" fill="#fe4216"/>
<rect x="294.1" y="269.1" width="15.2" height="11.33" fill="#ff3413"/>
<rect x="294.1" y="269.1" width="15.2" height="9.46" fill="#ff2510"/>
<rect x="294.1" y="269.1" width="15.2" height="7.60" fill="#ff2210"/>
<rect x="294.1" y="269.1" width="15.2" height="5.73" fill="#ff2110"/>
<rect x="294.1" y="269.1" width="15.2" height="3.87" fill="#ff2010"/>
<rect x="294.1" y="269.1" width="15.2" height="2.00" fill="#ff2010"/>
<rect x="294.1" y="269.1" width="15.2" height="152.4" fill="none" stroke="#777" stroke-width="0.8"/>
<text x="316.3" y="423.6" font-size="9.6" text-anchor="start" font-weight="bold" >0.000</text>
<text x="316.3" y="408.7" font-size="9.6" text-anchor="start" font-weight="bold" >11.00</text>
<text x="316.3" y="393.8" font-size="9.6" text-anchor="start" font-weight="bold" >22.00</text>
<text x="316.3" y="378.8" font-size="9.6" text-anchor="start" font-weight="bold" >33.00</text>
<text x="316.3" y="363.9" font-size="9.6" text-anchor="start" font-weight="bold" >44.00</text>
<text x="316.3" y="349" font-size="9.6" text-anchor="start" font-weight="bold" >55.00</text>
<text x="316.3" y="334.1" font-size="9.6" text-anchor="start" font-weight="bold" >66.00</text>
<text x="316.3" y="319.2" font-size="9.6" text-anchor="start" font-weight="bold" >77.00</text>
<text x="316.3" y="304.2" font-size="9.6" text-anchor="start" font-weight="bold" >88.00</text>
<text x="316.3" y="289.3" font-size="9.6" text-anchor="start" font-weight="bold" >99.00</text>
<text x="316.3" y="274.4" font-size="9.6" text-anchor="start" font-weight="bold" >110.0</text>
<path d="M309.3 420.3h3M309.3 405.4h3M309.3 390.5h3M309.3 375.5h3M309.3 360.6h3M309.3 345.7h3M309.3 330.8h3M309.3 315.9h3M309.3 300.9h3M309.3 286h3M309.3 271.1h3" stroke="#111" stroke-width="1" fill="none"/>
<g shape-rendering="geometricPrecision" stroke-linejoin="round">
<path d="M53.2 178.8L158.8 139.4L158.1 3.4L46.2 20.4zM158.8 139.4L277.9 170.2L283.8 17.1L158.1 3.4z" fill="#fff" stroke="#777" stroke-width="0.7"/>
<path d="M82.9 167.7L77.8 15.6M110.2 157.5L106.8 11.2M135.4 148.1L133.5 7.2M185.9 146.4L186.5 6.5M214.6 153.8L216.8 9.8M245.3 161.8L249.2 13.3M51.8 145.7L158.6 110.8L279.1 138.2M50.1 107.5L158.4 77.9L280.6 101.2M48.3 68.2L158.3 44.2L282 63.2M46.5 27.7L158.1 9.7L283.5 24.2" fill="none" stroke="#dcdcdc" stroke-width="0.65"/>
<path fill="#1e00ff" d="M53.2 178.8l126.2 43.2 98.5-51.8-119.1-30.8z"/>
<path fill="#1e00ff" d="M53.2 178.8l126.2 43.2 98.5-51.8-119.1-30.8zM225 172.4l1-0.5 0.9 0.1-1 0.5z"/>
<path fill="#1f02ff" d="M53.2 178.8l126.2 43.2 98.5-51.8-119.1-30.8zM204.7 178.6l-1.2-0.9-0.4-1.2 0.6-1.5 1.8-1.7 2.7-1.7 3.8-1.7 8.7-2.7 4.8-1 5.3-0.8 4.8-0.4 4-0.1 3.4 0.3 2.6 0.6 1.7 0.9 0.8 1.2-0.2 1.2-0.8 1.2-1.5 1.3-1.9 1.1-5.7 2.6-7.3 2.2-7.5 1.6-7.5 0.8-6.9-0.2-2.3-0.4z"/>
<path fill="#1f02ff" d="M53.2 178.8l126.2 43.2 98.5-51.8-22.1-5.7 0.8 0.8 0.4 0.8-0.1 1.5-1 1.7-1.9 1.8-3 1.9-3.5 1.8-4.5 1.9-4.6 1.5-5.8 1.7-5.8 1.3-10.8 1.6-5 0.4-5.4 0-3.9-0.3-3.6-0.6-2.4-0.9-1.7-1.2-0.4-0.7-0.2-0.9 0.4-1.7 1.5-1.8 2.3-1.8 3.4-1.9 3.8-1.8 4.7-1.8 5.2-1.6 10.7-2.4 11-1.5 5.4-0.3 4.8 0.1-87.8-22.7z"/>
<path fill="#2004ff" d="M53.2 178.8l126.2 43.2 98.5-51.8-14.2-3.7-0.8 1.7-2 2.1-2.7 2-3.6 2-4.2 2-5.3 2-11.1 3.4-12.2 2.5-11.5 1.4-10.1 0.2-4.6-0.4-3.8-0.7-3-1-1.8-1.2-1-1.5 0-1.9 1-1.9 1.7-1.8 2.9-2.1 3.3-1.9 4.3-2 5.1-2 11-3.3 11.8-2.5 11.8-1.5-80.1-20.7z"/>
<path fill="#2c14f9" d="M53.2 178.8l126.2 43.2 98.5-51.8-9.5-2.5-2.2 2.4-3.7 2.6-4.5 2.5-5.8 2.6-6.1 2.2-6.8 2.1-7.5 2-7.8 1.6-11.3 1.6-10.7 0.8-8.8-0.2-6.8-1.1-3.2-1-2.3-1.4-1.1-1.5-0.4-1.7 0.6-2 1.7-2.1 2.6-2.2 3.5-2.3 4-2.1 4.8-2.1 5.3-2 6.4-2 12.9-3.2 13.3-2.2-75.7-19.6z"/>
<path fill="#3b30f2" d="M53.2 178.8l126.2 43.2 98.5-51.8-5.8-1.5-2.9 2.5-4 2.6-5.2 2.7-6 2.5-6.7 2.4-6.9 2.1-7.4 1.9-7.9 1.7-13.1 2-11.9 0.9-10.5-0.1-4.4-0.5-3.8-0.8-3.7-1.2-2.3-1.5-1.4-1.8-0.3-1.7 0.6-2.2 1.7-2.2 2.5-2.2 3.4-2.4 4.3-2.3 5.2-2.4 11.7-4.3 14-3.7 14-2.6-72.3-18.7z"/>
<path fill="#3e42f2" d="M53.2 178.8l126.2 43.2 98.5-51.8-2.7-0.7-4.2 3.2-5.2 2.9-6.1 2.9-7.5 2.9-12.4 3.8-13.7 3.2-14.3 2.3-6.9 0.7-7.5 0.5-5.6 0-6-0.2-4.4-0.5-4.6-0.9-3.8-1.3-2.3-1.4-1.6-1.7-0.5-1.1-0.1-1.1 0.5-2.1 1.6-2.5 2.4-2.3 3.7-2.7 4.3-2.4 5.1-2.4 6-2.5 6.5-2.3 7.4-2.3 7.3-1.9 14.9-2.9-69.4-18z"/>
<path fill="#4051f2" d="M53.2 178.8l126.2 43.2 77.6-40.8-11.4 3.8-12.4 3.3-13.1 2.6-12.1 1.7-11.7 0.9-11.1 0.1-9-1-3.8-0.8-3.1-1-3.1-1.6-1.7-1.7-0.8-2.1 0.1-2 1.2-2.4 1.9-2.2 3-2.5 3.9-2.6 4.8-2.7 5.2-2.4 6.1-2.4 6.5-2.3 14.1-4 15.2-3.2-66.9-17.3z"/>
<path fill="#405ff4" d="M53.2 178.8l126.2 43.2 70-36.8-11.6 3.2-13.2 3-12.9 2.1-12.6 1.3-10.8 0.5-10.2-0.4-8.4-1.3-3.4-1-2.3-0.9-2.7-1.7-1.5-1.8-0.7-2.2 0.3-2 1.3-2.5 2.2-2.4 3.3-2.7 4-2.7 4.9-2.6 5.2-2.4 6-2.5 7-2.5 14.5-4.2 15.6-3.4-64.6-16.7z"/>
<path fill="#406ef8" d="M53.2 178.8l126.2 43.2 64.5-33.9-12.6 3.1-13.1 2.6-12.9 1.8-11.9 1-11.5 0.2-9.7-0.7-7.9-1.5-3.1-1.1-2.2-1-2.5-1.9-1.2-1.9-0.4-2.2 0.4-2.1 1.5-2.5 2.5-2.7 3.2-2.6 4.3-2.7 4.9-2.7 5.7-2.7 12.9-4.9 15-4.5 16-3.5-62.5-16.2z"/>
<path fill="#467ffa" d="M53.2 178.8l126.2 43.2 59.9-31.5-13.5 3.1-13 2.2-12.8 1.6-12.1 0.8-11.1 0-9.4-0.9-4-0.7-3.5-0.9-3.1-1.2-2.1-1.1-2.3-1.9-1.2-1.9-0.4-2.2 0.6-2.6 1.8-2.7 2.3-2.4 3.6-2.9 4-2.6 5.3-2.9 5.6-2.6 6.6-2.7 6.9-2.5 15.4-4.7 16.4-3.7-60.5-15.7z"/>
<path fill="#488ffa" d="M53.2 178.8l126.2 43.2 55.9-29.4-13.9 2.9-13.6 2.2-12.7 1.4-12.4 0.6-10.8-0.3-9.1-1-3.9-0.8-3.4-0.9-2.9-1.2-2.4-1.5-2.1-2-1-2-0.2-2.4 0.8-2.3 1.8-2.7 2.7-2.8 3.6-2.8 4.5-2.8 5.2-2.8 5.8-2.8 6.6-2.7 7.4-2.7 15.9-4.8 16.3-3.8-58.7-15.2z"/>
<path fill="#4f9fff" d="M53.2 178.8l126.2 43.2 52.2-27.5-14.2 2.8-13.8 2.1-12.7 1.2-12.2 0.4-11.3-0.3-9-1.2-3.8-0.9-3.3-1-2.8-1.3-2.3-1.5-2-2-0.9-2.1-0.1-2.4 1-2.8 2-2.7 2.8-2.8 3.7-2.8 4.4-2.8 5.4-2.9 6.2-3 6.5-2.7 7.4-2.7 16.4-5 16.8-4-57-14.7z"/>
<path fill="#55aeff" d="M53.2 178.8l126.2 43.2 48.8-25.7-13.8 2.6-13.9 1.9-13.6 1.2-12 0.4-10.7-0.5-9.4-1.3-4.4-1.1-3.2-1.1-2.7-1.3-2.1-1.4-1.8-1.9-1-2.4 0-2.4 1.1-2.9 1.9-2.6 2.9-2.9 4.1-3.1 4.5-2.9 5.3-2.9 6.2-3 7-2.9 7.4-2.7 16.6-5.2 17.5-4.2-55.3-14.3z"/>
<path fill="#5dc3ff" d="M53.2 178.8l126.2 43.2 45.6-24-14.6 2.6-14 1.8-13.4 1-11.8 0.2-10.4-0.5-9.4-1.4-4.4-1.1-3.2-1.1-2.7-1.3-2.2-1.6-1.9-2.1-0.9-2.5 0.1-2.5 1.1-2.8 2-2.8 3.2-3.1 4-3.1 4.6-2.9 5.8-3.1 6.2-3 7-2.9 7.9-2.9 16.9-5.3 17.7-4.3-53.8-13.9z"/>
<path fill="#65d6ff" d="M53.2 178.8l126.2 43.2 42.6-22.4-14.9 2.5-13.4 1.6-13.2 1-13 0.1-11-0.7-9.3-1.5-4.2-1.2-3.1-1.2-2.6-1.3-2.1-1.6-1.7-2.2-0.8-2.6 0.1-2.4 1.3-2.9 2.2-3 3.2-3.1 4.1-3.1 5-3.2 5.4-2.9 6.6-3.2 7.1-2.9 7.8-3 8.5-2.8 8.9-2.6 18.2-4.5-52.3-13.5z"/>
<path fill="#6de6ff" d="M53.2 178.8l126.2 43.2 39.8-20.9-14.8 2.4-14.7 1.6-14.2 0.9-12.5 0-10.8-0.9-9-1.7-4.1-1.2-3-1.3-2.4-1.4-2-1.6-1.7-2.3-0.7-2.6 0.3-2.5 1.3-2.9 2.4-3.1 3.2-3.1 4.2-3.1 5.4-3.4 5.9-3.2 6.7-3.2 7.6-3.1 7.9-2.9 17.3-5.5 18.1-4.5-50.8-13.1z"/>
<path fill="#74f2ff" d="M53.2 178.8l126.2 43.2 37-19.5-15.9 2.5-14.5 1.5-14.1 0.7-12.4-0.1-11.6-1.1-8.7-1.8-3.9-1.3-2.9-1.3-2.3-1.5-1.9-1.7-1.5-2.3-0.6-2.6 0.4-2.6 1.4-3 2.4-3.1 3.3-3.1 4.2-3.1 5.5-3.5 6.3-3.4 6.7-3.1 7.6-3.2 7.9-2.9 17.7-5.6 18.7-4.7-49.4-12.8z"/>
<path fill="#77fbff" d="M53.2 178.8l126.2 43.2 34.4-18.1-15.9 2.4-14.4 1.4-14 0.7-13.4-0.2-11.4-1.2-8.7-1.8-3.9-1.4-2.8-1.3-2.8-1.8-1.7-1.7-1.4-2.4-0.4-2.7 0.5-2.6 1.5-3 2.8-3.4 3.4-3.1 4.6-3.4 5.1-3.2 6.4-3.4 6.7-3.2 7.6-3.2 7.9-2.9 9.2-3.1 9.1-2.7 19.1-4.9-48.1-12.4z"/>
<path fill="#79fffd" d="M53.2 178.8l76 26-3.9-2-3.2-2.6-1.7-2.7-0.5-1.8 0-1.6 1-3.2 2.3-3.7 3.7-3.8 4.9-3.9 6-3.8 7.2-3.9 8.2-3.8 9.2-3.7 10.1-3.6 10.6-3.4 11-3 11.5-2.8-46.8-12.1zM133.6 206.3l45.8 15.7 31.8-16.7-11.4 1.7-11.7 1.3-10.9 0.8-11.2 0.4-9-0.1-9.2-0.6-8-1.1z"/>
<path fill="#7afffb" d="M53.2 178.8l66.3 22.7-1.8-2.6-0.8-2.8 0.4-3.1 1.3-2.9 2.5-3.4 3.4-3.3 4.8-3.7 5.6-3.6 6.4-3.5 7.2-3.4 8-3.4 8.9-3.4 9.2-3.1 9.6-2.9 20.2-5.2-45.6-11.8zM143.6 209.7l35.8 12.3 29.3-15.4-18.3 2.4-16.7 1.4-15.7 0.2-7.5-0.3z"/>
<path fill="#7afffa" d="M53.2 178.8l61.6 21.1-0.8-2.6 0.2-2.9 1-2.8 2.1-3.3 3.1-3.3 4-3.3 4.8-3.4 6.2-3.6 6.5-3.4 7.3-3.4 7.7-3.1 8.4-3.1 18.3-5.8 19.6-5-44.4-11.5zM148.6 211.4l30.8 10.6 26.9-14.2-15.5 2.1-15.4 1.4-13.9 0.5z"/>
<path fill="#7afff8" d="M53.2 178.8l58 19.8 0-2.8 0.8-2.9 1.8-3 2.3-2.9 3.5-3.2 4.5-3.4 5-3.3 5.9-3.3 6.6-3.3 6.9-3.1 16.2-6.2 17.8-5.6 19.5-5-43.2-11.2zM152.5 212.8l26.9 9.2 24.6-12.9-14 1.8-12.8 1.2-13 0.7z"/>
<path fill="#79fff3" d="M53.2 178.8l55 18.8 0.5-2.8 1.3-2.9 2.2-3 2.8-3 3.7-3.1 4.8-3.5 5.2-3.1 6-3.3 13.7-6.3 15.8-5.9 17.8-5.6 18.9-4.8-42.1-10.9zM155.8 213.9l23.6 8.1 22.3-11.7-12.4 1.6-11.5 1.1-11 0.7z"/>
<path fill="#79ffed" d="M53.2 178.8l52.4 17.9 0.9-2.8 1.9-3.1 2.3-2.9 3.4-3.2 3.9-3 5-3.3 5.3-3.1 6.1-3.2 13.9-6.2 15.9-5.9 17.3-5.3 18.2-4.7-40.9-10.6zM158.8 214.9l20.6 7.1 20-10.5-10.8 1.4-10.2 1-9.5 0.6z"/>
<path fill="#78ffe6" d="M53.2 178.8l50 17.1 1.3-2.8 2.1-3 2.8-3 3.6-3.2 4.3-3.1 4.8-3.1 11.6-6.2 14-6.2 15.4-5.6 17.3-5.3 18.2-4.7-39.8-10.3zM161.4 215.8l18 6.2 17.8-9.4-18.1 2.1z"/>
<path fill="#74ffd8" d="M53.2 178.8l47.9 16.4 1.7-3 2.2-2.7 3.1-3.2 3.5-2.8 4.5-3.2 5.2-3.3 11.8-6.1 14.1-6.1 15.4-5.6 16.8-5.1 18.2-4.7-38.8-10zM163.9 216.7l15.5 5.3 15.7-8.3-16.6 1.9z"/>
<path fill="#70ffca" d="M53.2 178.8l45.9 15.7 1.9-2.9 2.6-2.9 3.5-3.3 3.7-2.8 4.9-3.3 4.9-2.9 11.8-6.1 13.7-5.8 15.5-5.5 17.4-5.3 17.6-4.5-37.8-9.8zM166.3 217.5l13.1 4.5 13.6-7.1-13.7 1.5z"/>
<path fill="#6dffbc" d="M53.2 178.8l44 15 2.3-3 2.9-3 3.3-2.8 4-3 4.7-3.1 5.4-3.1 12.1-6 13.7-5.8 15.6-5.5 16.8-5.1 17.5-4.5-36.7-9.5zM168.5 218.2l10.9 3.8 11.5-6-10.7 1.2z"/>
<path fill="#6affaf" d="M53.2 178.8l42.2 14.4 2.4-2.8 3.1-3 3.8-3.2 4.2-2.9 9.8-5.9 12.1-5.9 13.9-5.8 15.5-5.5 16.8-5 17.5-4.6-35.7-9.2zM170.5 218.9l8.9 3.1 9.5-5z"/>
<path fill="#66ff9f" d="M53.2 178.8l40.6 13.9 2.5-2.9 3.2-2.9 3.7-2.9 4.4-3.1 10.5-6.1 12.2-5.8 13.9-5.7 15.6-5.5 16.8-5.1 17-4.3-34.8-9zM172.5 219.6l6.9 2.4 7.4-3.9z"/>
<path fill="#63ff8e" d="M53.2 178.8l39 13.3 2.6-2.7 3.4-3 4-3 4.4-3 10.4-5.9 12.3-5.9 14-5.6 15.6-5.5 16.2-4.9 17.5-4.5-33.8-8.7zM174.5 220.3l4.9 1.7 5.5-2.9z"/>
<path fill="#5fff7c" d="M53.2 178.8l37.4 12.8 2.9-2.8 3.7-3.1 8.5-5.8 10.7-6 12.4-5.8 14-5.6 15.2-5.2 16.2-4.9 17.5-4.5-32.9-8.5zM176.3 220.9l3.1 1.1 3.5-1.8z"/>
<path fill="#5bff6b" d="M53.2 178.8l36 12.3 3.2-3 3.6-2.8 8.6-5.8 10.8-5.9 12.5-5.8 14-5.6 15.2-5.2 16.6-4.9 17.1-4.4-32-8.3zM178.1 221.5l1.3 0.5 1.6-0.8z"/>
<path fill="#57ff5a" d="M53.2 178.8l34.6 11.8 3.3-2.9 3.9-3 9-5.8 10.9-5.8 12.5-5.8 14.2-5.5 15.1-5.2 16.3-4.8 16.9-4.4-31.1-8z"/>
<path fill="#4fff44" d="M53.2 178.8l33.2 11.4 7.3-5.8 9.2-5.8 11-5.8 12.6-5.7 14.2-5.6 15.2-5.1 16.2-4.9 16.9-4.3-30.2-7.8z"/>
<path fill="#47ff2f" d="M53.2 178.8l31.9 10.9 7.5-5.8 9.7-5.9 11.1-5.8 12.7-5.6 13.7-5.3 15.2-5.2 16.3-4.8 16.8-4.3-29.3-7.6z"/>
<path fill="#42ff24" d="M53.2 178.8l30.6 10.5 7.8-5.8 9.7-5.9 11.2-5.7 12.7-5.6 14.3-5.5 15.2-5.1 15.9-4.7 16.6-4.2-28.4-7.4z"/>
<path fill="#3dff1a" d="M53.2 178.8l29.4 10.1 8-5.8 9.7-5.8 11.3-5.7 12.8-5.5 13.7-5.3 15.3-5.1 16.2-4.8 16.8-4.4-27.6-7.1z"/>
<path fill="#38ff12" d="M53.2 178.8l28.2 9.6 8.2-5.7 9.8-5.7 11.3-5.6 12.8-5.6 14.3-5.4 15.3-5.1 15.7-4.7 16.8-4.3-26.8-6.9z"/>
<path fill="#39ff0f" d="M53.2 178.8l27.1 9.2 8.7-5.9 9.9-5.7 11.4-5.6 12.9-5.5 14.3-5.4 14.8-4.9 16.3-4.7 16.1-4.2-25.9-6.7z"/>
<path fill="#40ff10" d="M53.2 178.8l25.9 8.9 8.4-5.7 10.5-5.9 11.4-5.5 13-5.5 13.8-5.2 15.3-5.1 15.7-4.6 16.7-4.3-25.1-6.5z"/>
<path fill="#46ff12" d="M53.2 178.8l24.8 8.5 8.5-5.6 10.5-5.9 11.6-5.5 12.9-5.5 14.5-5.3 14.7-4.9 16.3-4.7 16.1-4.2-24.3-6.3z"/>
<path fill="#50ff15" d="M53.2 178.8l23.8 8.1 9-5.8 10.1-5.5 11.6-5.5 13-5.5 13.9-5.2 15.4-5 15.7-4.6 16.7-4.3-23.6-6.1z"/>
<path fill="#5bff18" d="M53.2 178.8l22.7 7.8 9.2-5.8 10.2-5.5 12.1-5.7 13.1-5.4 13.9-5.2 15.4-5 15.7-4.6 16.1-4.1-22.8-5.9z"/>
<path fill="#67ff1b" d="M53.2 178.8l21.7 7.4 9.2-5.7 10.7-5.7 11.8-5.5 13.1-5.4 14.5-5.3 14.8-4.8 15.7-4.6 16.1-4.1-22-5.7z"/>
<path fill="#74ff1f" d="M53.2 178.8l20.7 7.1 9.3-5.7 10.3-5.5 12.3-5.6 13.1-5.4 14-5.1 15.4-5 15.7-4.6 16.1-4.1-21.3-5.5z"/>
<path fill="#81ff22" d="M53.2 178.8l19.7 6.7 9.4-5.6 10.8-5.6 11.9-5.5 13.2-5.3 14-5.1 15.3-5 15.8-4.6 16-4.1-20.5-5.3z"/>
<path fill="#8dff25" d="M53.2 178.8l18.7 6.4 9.5-5.6 11-5.7 11.8-5.3 13.2-5.4 14.6-5.2 14.8-4.8 15.7-4.5 16.1-4.2-19.8-5.1z"/>
<path fill="#9aff28" d="M53.2 178.8l17.8 6.1 9.6-5.6 11-5.6 11.8-5.4 13.3-5.3 14.5-5.2 14.9-4.8 15.7-4.5 16.1-4.2-19.1-4.9z"/>
<path fill="#a6ff2c" d="M53.2 178.8l16.9 5.8 9.6-5.6 11.1-5.6 12.4-5.5 13.3-5.3 14-5 14.9-4.8 15.7-4.5 16.1-4.1-18.4-4.8z"/>
<path fill="#b2ff2e" d="M53.2 178.8l15.9 5.4 9.8-5.5 11.1-5.5 12.4-5.6 13.3-5.2 14.1-5 14.9-4.8 15.7-4.5 16-4.1-17.6-4.6z"/>
<path fill="#bcff31" d="M53.2 178.8l15.1 5.1 9.7-5.5 11.2-5.5 12.5-5.5 13.3-5.2 14.1-5 14.9-4.8 15.7-4.5 16-4.1-16.9-4.4z"/>
<path fill="#c4ff33" d="M53.2 178.8l14.2 4.8 9.8-5.4 11.2-5.5 12.6-5.5 13.3-5.2 14.1-5 14.9-4.8 15.8-4.5 16-4.1-16.3-4.2z"/>
<path fill="#ccff35" d="M53.2 178.8l13.3 4.5 9.9-5.4 11.5-5.6 12.4-5.3 13.3-5.2 14.2-5 14.9-4.8 15.7-4.5 16-4.1-15.6-4z"/>
<path fill="#d4ff37" d="M53.2 178.8l12.5 4.2 9.9-5.4 11.3-5.4 12.6-5.5 13.4-5.2 14.2-4.9 14.9-4.7 15.7-4.5 16-4.1-14.9-3.9z"/>
<path fill="#dcff39" d="M53.2 178.8l11.6 4 10.5-5.7 11.4-5.4 12.1-5.2 13.5-5.2 14.1-4.9 15-4.7 15.7-4.5 15.9-4.1-14.2-3.7z"/>
<path fill="#e5ff3b" d="M53.2 178.8l10.8 3.7 10.1-5.4 11.6-5.5 12.4-5.3 13.5-5.2 14.2-4.9 14.9-4.7 15.7-4.5 16-4.1-13.6-3.5z"/>
<path fill="#edff3d" d="M53.2 178.8l10 3.4 10.6-5.6 11.4-5.3 12.8-5.4 13.5-5.2 14.2-4.9 14.9-4.7 15.2-4.3 15.9-4.1-12.9-3.3z"/>
<path fill="#f4ff3f" d="M53.2 178.8l9.2 3.1 10.7-5.5 11.4-5.4 12.8-5.3 13.5-5.1 14.2-4.9 15-4.7 15.1-4.3 16-4.1-12.3-3.2z"/>
<path fill="#f8fb3f" d="M53.2 178.8l8.4 2.9 10.7-5.6 11.5-5.3 12.8-5.3 13.5-5.1 14.3-4.9 14.9-4.7 15.2-4.3 15.9-4.1-11.6-3z"/>
<path fill="#f8f33e" d="M53.2 178.8l7.6 2.6 10.8-5.5 11.5-5.3 12.9-5.3 13.5-5.1 14.3-4.9 14.9-4.7 15.4-4.3 15.7-4.1-11-2.8z"/>
<path fill="#f7e73d" d="M53.2 178.8l6.9 2.3 10.8-5.5 11.6-5.2 12.8-5.3 13.6-5.1 14.2-4.9 15-4.7 15.7-4.4 15.4-3.9-10.4-2.7z"/>
<path fill="#f5d93a" d="M53.2 178.8l6.1 2.1 10.9-5.5 11.6-5.3 12.9-5.2 13.5-5.1 14.3-4.9 15-4.6 15.1-4.3 15.9-4.1-9.7-2.5z"/>
<path fill="#f4cb37" d="M53.2 178.8l5.4 1.8 10.9-5.4 11.6-5.3 12.9-5.2 13.6-5.1 14.3-4.8 15-4.7 15.1-4.3 15.9-4-9.1-2.4z"/>
<path fill="#f3bd33" d="M53.2 178.8l4.6 1.6 11-5.4 11.6-5.3 13-5.2 13.6-5.1 14.3-4.8 15-4.7 15.1-4.2 15.9-4.1-8.5-2.2z"/>
<path fill="#f3ae30" d="M53.2 178.8l3.9 1.3 11-5.4 11.7-5.2 12.9-5.2 13.7-5.1 14.3-4.8 15-4.6 15.1-4.3 15.9-4.1-7.9-2z"/>
<path fill="#f4a02c" d="M53.2 178.8l3.2 1.1 13.1-6.4 13.8-5.9zM110.7 157.3l13.3-4.3 13.9-4.2 14-3.9 14.2-3.6-7.3-1.9z"/>
<path fill="#f59229" d="M53.2 178.8l2.5 0.8 17.9-8.4zM119.5 154.1l22.8-6.9 23.2-6.1-6.7-1.7z"/>
<path fill="#f78526" d="M53.2 178.8l1.8 0.6 11.6-5.6zM125.5 151.8l-0.1 0 19.7-5.7 19.8-5.1-6.1-1.6z"/>
<path fill="#f77722" d="M53.2 178.8l1.1 0.4 6.5-3.2zM130.5 149.9l-0.3 0.2 16.6-4.8 17.5-4.5-5.5-1.4z"/>
<path fill="#f86a1f" d="M53.2 178.8l0.4 0.1 2-1zM134.4 148.5l14.6-4.1 14.8-3.7-5-1.3z"/>
<path fill="#f85d1b" d="M138.3 147l-0.3 0.2 25.2-6.7-4.4-1.1z"/>
<path fill="#fa4f18" d="M141.6 145.8l-0.4 0.1 21.4-5.5-3.8-1z"/>
<path fill="#fe4216" d="M144.5 144.7l-0.2 0.1 17.8-4.6-3.3-0.8z"/>
<path fill="#ff3413" d="M147.3 143.7l-0.3 0.1 14.5-3.7-2.7-0.7z"/>
<path fill="#ff2510" d="M150.1 142.6l-0.4 0.2 11.2-2.8-2.1-0.6z"/>
<path fill="#ff2210" d="M152.4 141.8l-0.3 0.1 8.3-2.1-1.6-0.4z"/>
<path fill="#ff2110" d="M154.7 140.9l-0.3 0.1 5.4-1.3-1-0.3z"/>
<path fill="#ff2010" d="M157 140.1l-0.4 0.1 2.7-0.7-0.5-0.1z"/>
<path fill="#ff2010" d="M158.8 139.4z"/>
<path d="M81.4 188.4L185.9 146.4M111.7 198.8L214.6 153.8M144.3 210L245.3 161.8M82.9 167.7L207.6 207.2M110.2 157.5L233.1 193.7M135.4 148.1L256.5 181.5" fill="none" stroke="#d8d8d8" stroke-opacity="0.45" stroke-width="0.6"/>
<path fill="none" stroke="#222" stroke-width="1" stroke-dasharray="1 1.9" d="M249.4 185.2l-7.2 2.1-7.3 1.9-6.8 1.5-8.2 1.5-6.7 1.1-7.3 0.9-7.2 0.7-7 0.3-5.6 0.1-6.2-0.3-5.4-0.5-4.8-0.9-4-1.2-2.7-1.2-2.1-1.6-0.7-0.8-0.6-1-0.5-1.8 0.3-2 0.9-1.8 1.7-2.2 2.5-2.3 2.9-2.2 3.7-2.3 4.4-2.3 4.8-2.2 5.5-2.3 5.9-2.1 5.5-1.8 12.5-3.5 7-1.6 6.7-1.3M219.2 201.1l-8.4 1.4-8.5 1.2-8.3 1-8.3 0.8-7.7 0.4-7.2 0.2-6.8-0.1-7.1-0.4-6.1-0.7-5.4-0.9-4.3-1.2-3.8-1.3-3.2-1.7-2.2-1.7-1.7-2.1-0.7-2.1-0.2-1.2 0.1-1.1 0.8-2.5 1.4-2.6 2.3-2.6 3-2.8 3.8-2.8 4.5-2.9 5.4-3 5.7-2.8 6.4-2.8 6.7-2.6 7.5-2.7 7.7-2.5 8.3-2.3 8.1-2.1 8.6-2.1M105.6 196.7l0.9-2.8 1.9-3.1 2.3-2.9 3.4-3.2 3.9-3 5-3.3 5.3-3.1 6.1-3.2 6.8-3.2 7.1-3 7.8-3.1 8.1-2.8 8.2-2.7 9.1-2.6 8.7-2.4 9.5-2.3M199.4 211.5l-10.8 1.4-10.2 1-9.5 0.6-10.1 0.4M90.6 191.6l2.9-2.8 3.7-3.1 4.2-3 4.3-2.8 5-2.9 5.7-3.1 5.9-2.8 6.5-3 14-5.6 15.2-5.2 16.2-4.9 17.5-4.5M182.9 220.2l-6.6 0.7M80.3 188l3.9-2.8 4.8-3.1 9.9-5.7 11.4-5.6 12.9-5.5 14.3-5.4 14.8-4.9 16.3-4.7 16.1-4.2M71.9 185.2l9.5-5.6 11-5.7 11.8-5.3 13.2-5.4 14.6-5.2 14.8-4.8 15.7-4.5 16.1-4.2M64.8 182.8l10.5-5.7 11.4-5.4 12.1-5.2 13.5-5.2 14.1-4.9 15-4.7 15.7-4.5 15.9-4.1M58.6 180.6l10.9-5.4 11.6-5.3 12.9-5.2 13.6-5.1 14.3-4.8 15-4.7 15.1-4.3 15.9-4M138 147.2l12.7-3.5 12.5-3.2"/>
<path fill="#1f02ff" d="M47 39l9.7 27.3 9 22.8 9.6 21.6 8.8 17.5 4.5 7.8 4.4 7.2 4.5 6.5 4.5 5.9 4.5 5.3 4.5 4.6 4.5 4 4.5 3.3 4 2.4 3.2 1.6 4 1.4 3.3 0.9 4.1 0.5 3.3 0.1 4.1-0.4 3.4-0.8 4.2-1.3 3.5-1.6 3.5-1.9 3.6-2.3 4.3-3.3 3.7-3.2 7.4-7.6 10.6 8.3 10.2 6.6 4.9 2.7 5.3 2.5 4.7 1.9 5.2 1.7 5 1.3 4.9 0.9 4.9 0.4 4.7 0.1 4.7-0.3 4.6-0.6 5-1.1 4.5-1.5-6.3 2.3-7.3 2.4-14.7 3.7-14.9 2.8-14.8 1.6-7 0.4-6 0-5.9-0.4-5.1-0.6-4.5-1-3-1.1-2.8-1.7-1.5-1.8-0.6-1.7 0.2-1.9 0.9-1.9 1.6-2.1 2.2-2 2.9-2.1 7.7-4.4 9.8-4.2 11.6-3.9 12.5-3.3 12.3-2.5-4.2-4.7-4.2-5.2-4.1-5.8-4.6-7.2-4.1-6.9-4.6-8.6-8.5-18-8.5-20.5-8.4-23.1-8.4-25.7-8.4-28.4-6.7 6.7-6.3 5.7-6.4 5.3-6.5 4.7-6.7 4.2-6.8 3.7-6.9 3.1-6.6 2.4-7.2 2.1-6.9 1.3-7 0.9-7.2 0.3-7.3-0.2-7.5-0.8-7.8-1.4zM277 170.6l-0.2 0.2 1.1-0.8z"/>
<path fill="#2004ff" d="M47 39l9.7 27.3 9 22.8 8.9 20.2 8.9 17.7 4.5 7.9 4.4 7.3 4.5 6.6 4.4 6 4.5 5.4 4.5 4.7 4.5 4.1 3.9 3 3.9 2.5 4 2 3.9 1.5 3.4 0.9 4 0.6 3.4 0.2 4-0.3 3.5-0.7 4.1-1.3 3.5-1.4 4.2-2.3 3.6-2.3 4.3-3.3 3.7-3.2 7.4-7.6 9.5 7.5 9 6.1 9.3 5.1 9 3.7 8.6 2.5 4.5 0.8 4.3 0.5 4.3 0.2 4.3-0.1 4.2-0.4 4.3-0.7-14.3 4-14.7 3.1-14.6 2.1-14.2 1.1-6.5 0.1-5.9-0.2-5.5-0.6-4-0.7-4.1-1.1-2.8-1.2-2.2-1.5-1.4-1.8-0.5-1.7 0.2-2 0.8-1.9 1.7-2.2 2.4-2.3 3-2.2 7.7-4.4 9.8-4.2 11.5-4 13-3.6 13.6-2.8-4.4-5.3-4.1-5.5-4.1-6.1-4-6.6-8.1-14.9-8.5-18.3-7.9-19.4-8.5-23.2-7.8-24.1-8.4-28.4-6.7 6.7-6.3 5.7-6.4 5.3-6.5 4.7-6.7 4.2-6.8 3.7-6.9 3.1-6.6 2.4-7.2 2.1-6.9 1.3-7 0.9-7.2 0.3-7.3-0.2-7.5-0.8-7.8-1.4z"/>
<path fill="#2c14f9" d="M47 39l9.1 25.6 9 23 8.9 20.4 8.9 17.8 4.4 8 4.5 7.4 4.4 6.7 4.5 6.1 4.5 5.4 4.5 4.8 4.5 4.2 3.9 3.1 3.9 2.6 3.9 2.1 4 1.6 3.3 1 4 0.7 3.4 0.2 4.1-0.2 3.4-0.6 4.1-1.2 3.5-1.4 4.2-2.2 3.6-2.2 4.3-3.2 3.6-3.1 4.5-4.3 3.7-4 8.3 6.6 8.6 5.9 8.2 4.8 8.6 3.9 8.2 2.8 8 1.7 7.7 0.7 8-0.3-14.4 3.5-14.9 2.8-14.5 1.8-14.1 0.8-11.6-0.4-5.3-0.7-3.9-0.7-4-1.3-2.7-1.2-2.1-1.5-1.3-1.8-0.5-1.7 0.2-2 1-2.4 1.7-2 2.7-2.6 3-2.1 7.6-4.4 10.2-4.5 12.4-4.3 13.6-3.7 13.5-3-4.1-5.1-4.1-5.8-4-6.3-4.1-6.8-8-15.3-8-17.5-7.9-19.7-7.8-22-7.9-24.2-7.8-26.6-6.7 6.7-6.3 5.7-6.4 5.3-6.5 4.7-6.7 4.2-6.8 3.7-6.9 3.1-6.6 2.4-7.2 2.1-6.9 1.3-7 0.9-7.2 0.3-7.3-0.2-7.5-0.8-7.8-1.4z"/>
<path fill="#3b30f2" d="M47 39l9.1 25.6 9 23 8.9 20.4 8.9 17.8 4.4 8 4.5 7.4 4.4 6.7 3.9 5.3 4.4 5.5 4.5 4.9 4.5 4.3 3.9 3.1 3.9 2.7 4 2.2 3.9 1.7 3.3 1 4 0.8 4.1 0.3 4.1-0.2 3.4-0.6 4.1-1.2 3.5-1.4 4.2-2.2 3.6-2.2 4.3-3.2 3.6-3.1 4.5-4.3 3.7-4 8.3 6.6 8 5.6 7.7 4.5 7.6 3.7 7.2 2.7 7.6 2 7.4 1.1 7.2 0.2-14.5 3.3-15.8 2.6-14.3 1.5-13.6 0.4-11.6-0.6-5.1-0.7-3.7-0.8-3.9-1.3-2.6-1.3-2-1.6-1.3-1.8-0.4-2.1 0.3-1.9 1-2.1 1.8-2.3 2.5-2.3 3.4-2.4 8-4.6 10.7-4.7 12.3-4.3 13.5-3.8 14.6-3.2-3.9-5.2-4.1-6-7.5-12.6-7.5-14.4-7.9-17.7-7.4-18.3-7.8-22-7.9-24.2-7.8-26.6-6.7 6.7-6.3 5.7-6.4 5.3-6.5 4.7-6.7 4.2-6.8 3.7-6.9 3.1-6.6 2.4-7.2 2.1-6.9 1.3-7 0.9-7.2 0.3-7.3-0.2-7.5-0.8-7.8-1.4z"/>
<path fill="#3e42f2" d="M47 39l9.1 25.6 9 23 8.9 20.4 8.2 16.7 4.5 8 4.4 7.5 4.5 6.8 3.8 5.3 4.5 5.6 4.5 5 4.5 4.4 3.9 3.2 3.9 2.8 3.9 2.2 4 1.8 3.3 1.1 4 0.9 4 0.4 4.1-0.2 3.4-0.5 4.1-1.1 4.2-1.6 4.2-2.2 3.6-2.2 4.3-3.2 3.6-3.1 4.5-4.3 3.7-4 7.7 6.2 7.5 5.2 7.2 4.4 7 3.6 6.9 2.8 7.1 2.2 7 1.4 6.5 0.6-15.6 3.2-14.6 2.2-14.9 1.3-13 0.3-11.4-0.7-5-0.7-4.4-1.1-3.7-1.3-2.5-1.4-1.9-1.6-1.2-1.8-0.4-2 0.4-2.2 1.1-2.2 1.8-2.2 2.9-2.6 3-2.2 4.1-2.5 4.4-2.4 10.7-4.7 12.8-4.4 13.9-4 15.1-3.3-3.9-5.4-4.1-6.2-7.5-13-7.4-14.9-7.4-16.8-7.3-18.6-7.3-20.6-7.8-24.4-7.3-24.8-6.7 6.7-6.3 5.7-6.4 5.3-6.5 4.7-6.7 4.2-6.8 3.7-6.9 3.1-6.6 2.4-7.2 2.1-6.9 1.3-7 0.9-7.2 0.3-7.3-0.2-7.5-0.8-7.8-1.4z"/>
<path fill="#4051f2" d="M47 39l9.1 25.6 9 23 8.9 20.4 8.2 16.7 4.5 8 4.4 7.5 4.5 6.8 3.8 5.3 4.5 5.6 3.8 4.4 4.5 4.4 3.9 3.3 3.9 2.8 4 2.4 3.9 1.8 4 1.4 4 0.9 4 0.4 4.1-0.2 3.4-0.5 4.1-1.1 4.2-1.6 4.2-2.2 3.6-2.2 4.3-3.2 3.6-3.1 4.5-4.3 3.7-4 7.1 5.7 6.9 5 6.8 4.2 6.5 3.5 6.4 2.8 6.7 2.4 6.5 1.6 6.4 1-15.7 2.9-15.2 2.1-14.4 1.2-13.6 0.1-10.9-0.8-4.7-0.8-4.4-1-3.3-1.2-2.9-1.5-2.1-1.8-1.3-2-0.3-2.2 0.4-2 1.3-2.4 1.7-2.1 2.7-2.4 3.3-2.5 4.1-2.5 4.9-2.6 11.1-4.9 13.3-4.6 13.9-3.9 15.6-3.5-7.4-11.2-7.5-13.3-6.9-13.9-7.3-16.9-7.4-18.8-7.3-20.8-7.2-22.7-7.3-24.8-6.7 6.7-6.3 5.7-6.4 5.3-6.5 4.7-6.7 4.2-6.8 3.7-6.9 3.1-6.6 2.4-7.2 2.1-6.9 1.3-7 0.9-7.2 0.3-7.3-0.2-7.5-0.8-7.8-1.4z"/>
<path fill="#405ff4" d="M47 39l9.1 25.6 9 23 8.9 20.4 8.2 16.7 4.5 8 4.4 7.5 4.5 6.8 3.8 5.3 4.5 5.6 3.8 4.4 4.5 4.4 3.9 3.3 3.9 2.8 4 2.4 3.9 1.8 4 1.4 4 0.9 4 0.4 4.1-0.2 3.4-0.5 4.1-1.1 4.2-1.6 4.2-2.2 3.6-2.2 4.3-3.2 3.6-3.1 4.5-4.3 3.7-4 6.5 5.3 6.4 4.6 6.2 4 6.6 3.7 5.9 2.8 6.2 2.4 6.1 1.8 6 1.1-15.4 2.8-15.6 2-14.9 1-13.3 0-6.1-0.3-5.3-0.7-4.9-0.8-3.5-1-3.7-1.3-2.5-1.4-2.1-1.7-1.3-2-0.4-2.2 0.3-2 1.1-2.2 2.1-2.6 2.5-2.4 3.5-2.6 4.1-2.5 4.9-2.6 11.5-5.1 13.8-4.9 15-4.2 15.5-3.5-7.5-11.8-7-12.6-6.8-14.2-7.4-17.2-6.7-17.6-7.3-20.9-7.3-22.9-6.7-22.9-6.7 6.7-6.3 5.7-6.4 5.3-6.5 4.7-6.7 4.2-6.8 3.7-6.9 3.1-6.6 2.4-7.2 2.1-6.9 1.3-7 0.9-7.2 0.3-7.3-0.2-7.5-0.8-7.8-1.4z"/>
<path fill="#406ef8" d="M47 39l9.1 25.6 8.3 21.4 8.9 20.6 8.3 16.8 4.5 8.2 4.4 7.5 4.5 6.9 3.8 5.5 4.5 5.7 3.8 4.4 4.5 4.5 3.9 3.4 3.9 2.9 3.9 2.4 3.9 2 4 1.4 4 1 4 0.4 4.1 0 3.4-0.5 4.1-1 4.2-1.5 4.2-2.1 3.6-2.1 4.3-3.1 4.3-3.7 4.5-4.3 3.7-4 6 4.8 6.3 4.7 5.7 3.7 6 3.5 6 3 5.7 2.3 5.7 1.9 5.3 1.3-16.4 2.7-15.2 1.8-15.3 0.9-13.2-0.1-10.8-1.1-4.8-0.9-4.3-1.2-3.4-1.3-2.4-1.4-2.1-1.9-1.1-2-0.4-2.1 0.4-2.1 1.3-2.4 2.1-2.6 2.6-2.3 3.7-2.7 4.1-2.5 5.3-2.8 11.6-5.1 13.8-4.8 15.8-4.5 15.6-3.6-7.1-11.5-6.9-12.9-6.8-14.4-6.8-16.1-6.8-17.7-6.7-19.4-7.3-22.9-6.7-22.9-6.7 6.7-6.3 5.7-6.4 5.3-6.5 4.7-6.7 4.2-6.8 3.7-6.9 3.1-6.6 2.4-7.2 2.1-6.9 1.3-7 0.9-7.2 0.3-7.3-0.2-7.5-0.8-7.8-1.4z"/>
<path fill="#467ffa" d="M47 39l9.1 25.6 8.3 21.4 8.9 20.6 8.3 16.8 4.5 8.2 4.4 7.5 4.5 6.9 3.8 5.5 4.5 5.7 3.8 4.4 4.5 4.5 3.9 3.4 3.9 2.9 3.9 2.4 3.9 2 4 1.4 4 1 4 0.4 4.1 0 3.4-0.5 4.1-1 4.2-1.5 4.2-2.1 3.6-2.1 4.3-3.1 4.3-3.7 4.5-4.3 3.7-4 5.4 4.4 5.8 4.3 5.7 3.8 5.5 3.3 5.4 2.9 5.3 2.3 5.2 1.9 5.4 1.6-15.9 2.6-16.6 1.7-14.6 0.8-13.5-0.3-10.8-1.1-4.7-0.9-4.2-1.2-3.4-1.4-2.4-1.4-2.2-1.9-1.1-1.9-0.4-2.1 0.5-2.4 1.2-2.3 2.1-2.6 2.6-2.4 3.7-2.7 4.5-2.8 5.3-2.8 12.1-5.3 14.3-5 14.8-4.2 17.2-3.9-6.9-11.3-6.8-13.2-6.3-13.4-6.8-16.2-6.7-17.9-6.8-19.5-6.7-21.2-6.7-22.9-6.7 6.7-6.3 5.7-6.4 5.3-6.5 4.7-6.7 4.2-6.8 3.7-6.9 3.1-6.6 2.4-7.2 2.1-6.9 1.3-7 0.9-7.2 0.3-7.3-0.2-7.5-0.8-7.8-1.4z"/>
<path fill="#488ffa" d="M47 39l9.1 25.6 8.3 21.4 8.9 20.6 8.3 16.8 4.5 8.2 4.4 7.5 4.5 6.9 3.8 5.5 4.5 5.7 3.8 4.4 4.5 4.5 3.9 3.4 3.9 2.9 3.9 2.4 3.9 2 4 1.4 4 1 4 0.4 4.1 0 3.4-0.5 4.1-1 4.2-1.5 4.2-2.1 3.6-2.1 4.3-3.1 4.3-3.7 4.5-4.3 3.7-4 10.6 8.3 10.2 6.6 4.9 2.7 5.3 2.5 4.7 1.9 5.2 1.7-16.8 2.6-15.9 1.5-14.9 0.7-14-0.3-6.1-0.6-5.1-0.8-4.6-0.9-4-1.3-3.3-1.4-2.6-1.7-1.7-1.7-1-1.9-0.3-2.2 0.6-2.5 1.2-2.2 2.2-2.6 2.8-2.5 3.7-2.7 4.5-2.7 5.3-2.8 12.1-5.3 14.2-5 17.1-4.9 16.5-3.7-6.6-11.2-6.9-13.4-6.2-13.7-6.8-16.5-6.2-16.5-6.7-19.7-6.8-21.3-6.1-21.1-6.7 6.7-6.3 5.7-6.4 5.3-6.5 4.7-6.7 4.2-6.8 3.7-6.9 3.1-6.6 2.4-7.2 2.1-6.9 1.3-7 0.9-7.2 0.3-7.3-0.2-7.5-0.8-7.8-1.4z"/>
<path fill="#4f9fff" d="M47 39l9.1 25.6 8.3 21.4 8.3 19.2 8.3 17 4.4 8.3 4.5 7.6 4.4 7 3.8 5.5 4.5 5.8 3.9 4.5 4.5 4.6 3.8 3.5 3.9 3 3.9 2.5 4 2 3.9 1.5 4 1.1 4.1 0.5 4 0 4.1-0.5 4.1-1 4.2-1.5 4.2-2.1 3.6-2.1 4.3-3.1 4.3-3.7 4.5-4.3 3.7-4 10 7.9 9.7 6.3 9.2 5 9.3 3.7-16.8 2.4-16.3 1.5-15.4 0.6-13.1-0.4-6.7-0.7-5.1-0.7-4.5-1.1-4-1.2-3.3-1.5-2.3-1.4-2-2-1-1.8-0.4-2.2 0.5-2.4 1.5-2.7 2.2-2.5 2.9-2.6 3.8-2.7 4.5-2.8 5.3-2.8 12.6-5.5 14.8-5.1 15.8-4.5 18.2-4.2-6.4-11.1-6.3-12.5-6.2-13.8-6.8-16.6-6.2-16.7-6.1-18.1-6.8-21.3-6.1-21.1-6.7 6.7-6.3 5.7-6.4 5.3-6.5 4.7-6.7 4.2-6.8 3.7-6.9 3.1-6.6 2.4-7.2 2.1-6.9 1.3-7 0.9-7.2 0.3-7.3-0.2-7.5-0.8-7.8-1.4z"/>
<path fill="#55aeff" d="M47 39l9.1 25.6 8.3 21.4 8.3 19.2 8.3 17 4.4 8.3 4.5 7.6 4.4 7 3.8 5.5 4.5 5.8 3.9 4.5 4.5 4.6 3.8 3.5 3.9 3 3.9 2.5 4 2 3.9 1.5 4 1.1 4.1 0.5 4 0 4.1-0.5 4.1-1 4.2-1.5 4.2-2.1 3.6-2.1 4.3-3.1 4.3-3.7 4.5-4.3 3.7-4 8.9 7 9.1 6.2 8.8 4.9 8.7 3.9-17.1 2.3-16.6 1.4-15.7 0.5-13.2-0.5-6.3-0.7-5-0.8-4.5-1-4-1.3-3.3-1.5-2.6-1.7-1.9-2-0.9-1.9-0.2-2.2 0.6-2.4 1.6-2.8 2.4-2.6 3.5-3 3.8-2.6 4.6-2.7 5.4-2.8 12.7-5.4 15.3-5.3 16.1-4.5 17.9-4.1-6.2-11.1-6.3-12.7-6.2-14.1-6.2-15.4-6.2-16.8-6.2-18.2-6.2-19.6-6.1-21.1-6.7 6.7-6.3 5.7-6.4 5.3-6.5 4.7-6.7 4.2-6.8 3.7-6.9 3.1-6.6 2.4-7.2 2.1-6.9 1.3-7 0.9-7.2 0.3-7.3-0.2-7.5-0.8-7.8-1.4z"/>
<path fill="#5dc3ff" d="M47 39l9.1 25.6 8.3 21.4 8.3 19.2 8.3 17 8.2 14.9 4.5 7 3.8 5.6 4.5 5.9 3.8 4.6 4.5 4.7 3.9 3.5 4.5 3.6 3.9 2.5 4 2 3.9 1.5 4 1.1 4.1 0.5 4 0 4.1-0.5 4.1-1 4.2-1.5 4.2-2.1 3.6-2.1 4.3-3.1 4.3-3.7 4.5-4.3 3.7-4 8.3 6.6 8.6 5.9 8.2 4.8 7.9 3.7-16.5 2.1-16.9 1.4-15.9 0.5-13.4-0.6-11.2-1.4-5.2-1.2-3.9-1.3-3.3-1.5-2.6-1.7-1.8-2-1-1.9-0.2-2.6 0.6-2.3 1.5-2.4 2.5-2.9 3-2.6 4.2-2.9 5-3 5.4-2.7 12.7-5.4 15.2-5.3 18.1-5.1 17.5-4-6.1-11.1-6.2-13-5.7-12.9-6.2-15.6-5.6-15.3-6.2-18.2-6.2-19.6-6.1-21.1-6.7 6.7-6.3 5.7-6.4 5.3-6.5 4.7-6.7 4.2-6.8 3.7-6.9 3.1-6.6 2.4-7.2 2.1-6.9 1.3-7 0.9-7.2 0.3-7.3-0.2-7.5-0.8-7.8-1.4z"/>
<path fill="#65d6ff" d="M47 39l9.7 27.3 9.6 24.3 9.6 21.4 8.9 17.3 5.1 8.8 4.4 7 4.5 6.4 4.5 5.7 4.4 5.1 4.5 4.4 4.6 3.8 4.8 3.4-2.3-2.1-1.5-2.5-0.2-2.7 1-3 2.1-3 3.1-3.1 4.4-3.3 5.7-3.4 6.7-3.5 7.2-3.2 8-3.1 8.4-2.9 9.8-3.1 10.8-2.9 20.4-4.7-6-11.3-5.7-11.9-5.7-13.1-6.2-15.6-5.6-15.5-6.2-18.3-6.1-19.8-5.6-19.2-6.7 6.7-6.3 5.7-6.4 5.3-6.5 4.7-6.7 4.2-6.8 3.7-6.9 3.1-6.6 2.4-7.2 2.1-6.9 1.3-7 0.9-7.2 0.3-7.3-0.2-7.5-0.8-7.8-1.4zM140.4 179.7l4.9-0.3 4.8-1.1 4.9-1.7 4.9-2.5 5-3.2 5.1-4 5.1-4.8 4.5-4.8 7.7 6.2 8 5.6 7.3 4.3 7.5 3.8-19.3 2.4-19 1.2-8.4 0.2-9-0.1-7.2-0.5z"/>
<path fill="#6de6ff" d="M47 39l9.1 25.6 8.3 21.4 8.9 20.6 8.3 16.8 4.5 8.2 4.4 7.5 4.5 6.9 3.8 5.5 4.5 5.7 3.8 4.4 4.5 4.5 4.4 3.8-1.1-2.1-0.3-2.6 0.8-2.9 1.9-2.8 3-3.1 3.9-3 4.8-3.1 5.6-3.1 6.6-3.1 7.3-3.1 8.2-3 8.5-2.9 18.4-5.2 20.4-4.7-5.9-11.4-5.7-12.1-5.7-13.3-5.6-14.4-5.6-15.6-5.7-16.7-6.1-19.8-5.6-19.2-6.7 6.7-6.3 5.7-6.4 5.3-6.5 4.7-6.7 4.2-6.8 3.7-6.9 3.1-6.6 2.4-7.2 2.1-6.9 1.3-7 0.9-7.2 0.3-7.3-0.2-7.5-0.8-7.8-1.4zM146.3 179.2l3.8-0.9 4.2-1.4 4.2-2 4.3-2.5 4.3-3.1 4.3-3.7 4.5-4.3 3.7-4 7.1 5.7 6.9 5 7.3 4.5 6.9 3.6-17 2-16.3 1.3-14.9 0.3z"/>
<path fill="#74f2ff" d="M47 39l8.4 23.8 8.4 21.6 8.3 19.4 7.6 16 8.3 15.1 7.6 12.1 4.5 6.2 3.8 4.7 3.8 4.4 4.3 4.2-0.4-2.3 0.6-2.7 1.5-2.8 2.2-2.5 3-2.7 4.5-3.2 5.4-3.2 5.4-2.8 6.6-3 7.5-3 16.3-5.6 17.9-5 20.3-4.6-5.3-10.4-5.7-12.3-5.7-13.4-5.6-14.5-5.6-15.7-5.6-16.9-5.6-18-5.6-19.2-6.7 6.7-6.3 5.7-6.4 5.3-6.5 4.7-6.7 4.2-6.8 3.7-6.9 3.1-6.6 2.4-7.2 2.1-6.9 1.3-7 0.9-7.2 0.3-7.3-0.2-7.5-0.8-7.8-1.4zM150.6 178.2l3.7-1.3 3.5-1.6 3.5-2 3.6-2.4 7.3-6 7.4-7.6 6.5 5.3 6.4 4.6 6.8 4.3 6.1 3.5-14.7 1.7-14.9 1.2-13.1 0.4z"/>
<path fill="#77fbff" d="M47 39l8.4 23.8 7.7 20.1 7.7 18.1 7.6 16.2 7.7 14.4 7.6 12.5 7.6 10.7 7.4 8.5 0.3-2.5 1-2.5 2.1-2.8 2.7-2.6 3.9-3 4.3-2.8 5.3-2.9 6-2.9 13.8-5.7 16.5-5.4 18-5 19.1-4.2-5.4-10.7-5.6-12.5-5.1-12.2-5.7-14.6-5-14.2-5.6-16.9-5.6-18-5.6-19.2-6.7 6.7-6.3 5.7-6.4 5.3-6.5 4.7-6.7 4.2-6.8 3.7-6.9 3.1-6.6 2.4-7.2 2.1-6.9 1.3-7 0.9-7.2 0.3-7.3-0.2-7.5-0.8-7.8-1.4zM154.1 177l6.5-3.3 6.5-4.4 6.6-5.8 5.9-6.2 6 4.8 5.8 4.3 5.6 3.8 6.1 3.5-13.6 1.6-12.6 1-11.4 0.6z"/>
<path fill="#79fffd" d="M47 39l7.8 22.1 7.1 18.6 7.6 18.4 7 15.2 7.6 14.9 7 12 7.7 11.3 7.1 8.8 0.7-2.5 1.6-2.6 2.1-2.4 3.1-2.7 4.5-3.2 4.6-2.8 5.4-2.8 6.1-2.8 14-5.5 16-5.2 18.1-4.9 18.5-4.1-5.4-10.9-5.1-11.4-5.1-12.3-5.6-14.8-5.1-14.2-5.6-17-5.6-18.1-5-17.4-6.7 6.7-6.3 5.7-6.4 5.3-6.5 4.7-6.7 4.2-6.8 3.7-6.9 3.1-6.6 2.4-7.2 2.1-6.9 1.3-7 0.9-7.2 0.3-7.3-0.2-7.5-0.8-7.8-1.4zM157.2 175.6l5.6-3.2 5.7-4.3 5.9-5.3 5.2-5.5 10.6 8.3 5.1 3.5 5.6 3.4-11.5 1.3-11.4 1-11.2 0.6z"/>
<path fill="#7afffb" d="M47 39l7.2 20.3 7 18.7 7.1 17.2 7 15.5 6.9 14 7 12.4 7 10.8 7.2 9.4 1.1-2.5 1.7-2.3 2.5-2.5 3.5-2.8 3.9-2.6 5.1-2.9 5.4-2.8 6.7-2.9 14.1-5.4 16.1-5.2 17.5-4.6 18.5-4.1-5.4-11.3-5.1-11.6-5.1-12.5-5.1-13.4-5-14.4-5.1-15.3-5.6-18.1-5-17.4-6.7 6.7-6.3 5.7-6.4 5.3-6.5 4.7-6.7 4.2-6.8 3.7-6.9 3.1-6.6 2.4-7.2 2.1-6.9 1.3-7 0.9-7.2 0.3-7.3-0.2-7.5-0.8-7.8-1.4zM160 174.1l4.9-3.2 5.1-4 5.1-4.8 4.5-4.8 9.5 7.5 9.6 6.4-19.7 2z"/>
<path fill="#7afffa" d="M47 39l7.2 20.3 7 18.7 7.1 17.2 6.3 14.1 7 14.1 6.4 11.5 6.3 10.2 6.8 9.4 1.4-2.4 2.2-2.6 3-2.6 3.7-2.7 4.3-2.6 5.1-2.8 11.8-5.4 14.2-5.3 16.2-5 16.4-4.3 19-4.2-4.9-10.4-5.1-11.7-5.1-12.6-5-13.6-5.1-14.4-5-15.5-10.1-33.7-6.7 6.7-6.3 5.7-6.4 5.3-6.5 4.7-6.7 4.2-6.8 3.7-6.9 3.1-6.6 2.4-7.2 2.1-6.9 1.3-7 0.9-7.2 0.3-7.3-0.2-7.5-0.8-7.8-1.4zM162.5 172.5l3.9-2.7 4.3-3.6 4.4-4.1 4.5-4.8 8.3 6.6 8.7 6-17.9 1.7z"/>
<path fill="#7afff8" d="M47 39l7.2 20.3 6.4 17.1 6.4 15.8 6.3 14.4 6.4 13.2 6.4 11.8 6.3 10.6 6.5 9.4 1.7-2.3 2.7-2.7 3.2-2.6 3.9-2.6 4.6-2.7 5.4-2.7 11.5-5.1 13.9-5 15.6-4.8 17.6-4.6 18.4-4-5-10.8-5.1-11.9-4.5-11.4-5.1-13.6-9.5-28.4-10.1-33.7-6.7 6.7-6.3 5.7-6.4 5.3-6.5 4.7-6.7 4.2-6.8 3.7-6.9 3.1-6.6 2.4-7.2 2.1-6.9 1.3-7 0.9-7.2 0.3-7.3-0.2-7.5-0.8-7.8-1.4zM164.9 170.9l7.3-6 7.4-7.6 7.7 6.2 7.1 5-14.8 1.5z"/>
<path fill="#79fff3" d="M47 39l6.5 18.5 6.4 17.2 6.4 15.9 5.8 13.2 6.3 13.4 6.4 12.1 6.3 10.9 5.8 8.7 1.9-2.3 2.7-2.5 3.8-2.8 3.8-2.5 10.1-5.2 12.1-5.2 14-4.9 15.7-4.8 17.6-4.5 17.8-3.8-4.6-10-5.1-12-4.5-11.5-5.1-13.7-9.5-28.5-9.5-32-6.7 6.7-6.3 5.7-6.4 5.3-6.5 4.7-6.7 4.2-6.8 3.7-6.9 3.1-6.6 2.4-7.2 2.1-6.9 1.3-7 0.9-7.2 0.3-7.3-0.2-7.5-0.8-7.8-1.4zM167.2 169.2l6.5-5.7 5.9-6.2 6.5 5.3 6.3 4.5-13.1 1.3z"/>
<path fill="#79ffed" d="M47 39l6.5 18.5 5.8 15.6 6.4 16 5.7 13.3 6.4 13.5 5.7 11.1 5.7 10.1 5.8 9.1 2.3-2.4 3.1-2.6 7.7-5 10-5.1 12.6-5.2 14.6-5 15.8-4.6 15.9-4 18.4-4-4.7-10.5-4.6-10.8-4.5-11.5-5-13.9-9-26.9-9.5-32-6.7 6.7-6.3 5.7-6.4 5.3-6.5 4.7-6.7 4.2-6.8 3.7-6.9 3.1-6.6 2.4-7.2 2.1-6.9 1.3-7 0.9-7.2 0.3-7.3-0.2-7.5-0.8-7.8-1.4zM169.3 167.4l5.1-4.6 5.2-5.5 10.7 8.4z"/>
<path fill="#78ffe6" d="M47 39l5.9 16.7 5.8 15.7 5.7 14.6 5.8 13.5 5.7 12.5 5.7 11.4 5.7 10.4 6 9.7 2.7-2.6 3.4-2.6 8.2-5 10.2-4.9 12.4-4.9 14.1-4.8 15.3-4.5 17.6-4.3 17.2-3.6-4.9-11.1-4.5-11-9-24.2-9-27.1-8.9-30.2-6.7 6.7-6.3 5.7-6.4 5.3-6.5 4.7-6.7 4.2-6.8 3.7-6.9 3.1-6.6 2.4-7.2 2.1-6.9 1.3-7 0.9-7.2 0.3-7.3-0.2-7.5-0.8-7.8-1.4zM171.4 165.6l3.7-3.5 4.5-4.8 8.7 6.9z"/>
<path fill="#74ffd8" d="M47 39l5.9 16.7 5.8 15.7 5.7 14.6 5.1 12.1 5.8 12.6 5 10.3 5.8 10.6 5.4 9.2 2.7-2.3 3.6-2.6 8.6-5 10.2-4.8 12.5-4.9 14.2-4.7 15.9-4.6 16.5-4 17.8-3.7-8.5-20-9-24.2-9-27.1-8.9-30.2-6.7 6.7-6.3 5.7-6.4 5.3-6.5 4.7-6.7 4.2-6.8 3.7-6.9 3.1-6.6 2.4-7.2 2.1-6.9 1.3-7 0.9-7.2 0.3-7.3-0.2-7.5-0.8-7.8-1.4zM173.4 163.8l6.2-6.5 6.7 5.4z"/>
<path fill="#70ffca" d="M47 39l11 30.7 5.8 14.7 5.1 12.2 5.7 12.7 5.1 10.5 5.1 9.5 5.1 8.9 3.2-2.6 3.1-2.1 8.9-5.1 10.9-4.9 12.1-4.6 14.8-4.8 15.4-4.3 17.1-4.1 17.2-3.6-8.7-20.8-8.4-22.9-8.5-25.5-8.9-30.2-6.7 6.7-6.3 5.7-6.4 5.3-6.5 4.7-6.7 4.2-6.8 3.7-6.9 3.1-6.6 2.4-7.2 2.1-6.9 1.3-7 0.9-7.2 0.3-7.3-0.2-7.5-0.8-7.8-1.4zM175.2 161.9l4.4-4.6 4.7 3.8z"/>
<path fill="#6dffbc" d="M47 39l10.4 29 10.2 25.7 5.1 11.5 5.1 10.7 5.1 9.9 5.4 9.8 3.1-2.3 3.8-2.5 9-4.9 11.2-4.9 12.2-4.5 14.3-4.6 15.5-4.3 16.9-4 17.3-3.6-8.3-20.1-8.4-23.1-8.4-25.7-8.4-28.4-6.7 6.7-6.3 5.7-6.4 5.3-6.5 4.7-6.7 4.2-6.8 3.7-6.9 3.1-6.6 2.4-7.2 2.1-6.9 1.3-7 0.9-7.2 0.3-7.3-0.2-7.5-0.8-7.8-1.4zM177.1 160.1l2.5-2.8 2.8 2.3z"/>
<path fill="#6affaf" d="M47 39l10.4 29 9.6 24.2 5.1 11.6 5.1 10.9 5 10 4.6 8.3 3.4-2.4 4.1-2.6 8.9-4.6 11.2-4.7 12.2-4.5 14.4-4.5 16-4.3 16-3.8 17.7-3.6-7.9-19.6-8.5-23.2-7.8-24.1-8.4-28.4-6.7 6.7-6.3 5.7-6.4 5.3-6.5 4.7-6.7 4.2-6.8 3.7-6.9 3.1-6.6 2.4-7.2 2.1-6.9 1.3-7 0.9-7.2 0.3-7.3-0.2-7.5-0.8-7.8-1.4zM178.9 158.1l0.7-0.8 0.8 0.7z"/>
<path fill="#66ff9f" d="M47 39l9.7 27.3 9.6 24.3 9.6 21.4 4.4 9 5.1 9.4 7.7-4.8 9.5-4.8 10.7-4.4 12.9-4.6 14.4-4.4 15.5-4.2 16.6-3.8 17.2-3.5-8.3-20.4-7.8-22-7.9-24.2-7.8-26.6-6.7 6.7-6.3 5.7-6.4 5.3-6.5 4.7-6.7 4.2-6.8 3.7-6.9 3.1-6.6 2.4-7.2 2.1-6.9 1.3-7 0.9-7.2 0.3-7.3-0.2-7.5-0.8-7.8-1.4z"/>
<path fill="#63ff8e" d="M47 39l9.7 27.3 9 22.8 8.9 20.2 4.5 9.2 4.9 9.3 7.8-4.7 9.2-4.4 11.3-4.6 12.9-4.5 14.5-4.4 15.5-4.1 15.5-3.6 18.3-3.6-7.4-18.4-7.8-22-7.9-24.2-7.8-26.6-6.7 6.7-6.3 5.7-6.4 5.3-6.5 4.7-6.7 4.2-6.8 3.7-6.9 3.1-6.6 2.4-7.2 2.1-6.9 1.3-7 0.9-7.2 0.3-7.3-0.2-7.5-0.8-7.8-1.4z"/>
<path fill="#5fff7c" d="M47 39l9.1 25.6 9 23 8.9 20.4 8.6 17.3 8-4.6 9.3-4.4 11.4-4.5 13-4.5 14.5-4.3 15.6-4 16.6-3.8 17.1-3.4-7.6-19.3-7.3-20.6-7.8-24.4-7.3-24.8-6.7 6.7-6.3 5.7-6.4 5.3-6.5 4.7-6.7 4.2-6.8 3.7-6.9 3.1-6.6 2.4-7.2 2.1-6.9 1.3-7 0.9-7.2 0.3-7.3-0.2-7.5-0.8-7.8-1.4z"/>
<path fill="#5bff6b" d="M47 39l9.1 25.6 8.3 21.4 8.3 19.2 8.6 17.6 7.7-4.4 9.8-4.5 11.5-4.4 13.6-4.6 14.6-4.2 15-3.9 16.1-3.6 17.7-3.4-7.4-18.8-7.3-20.8-7.2-22.7-7.3-24.8-6.7 6.7-6.3 5.7-6.4 5.3-6.5 4.7-6.7 4.2-6.8 3.7-6.9 3.1-6.6 2.4-7.2 2.1-6.9 1.3-7 0.9-7.2 0.3-7.3-0.2-7.5-0.8-7.8-1.4z"/>
<path fill="#57ff5a" d="M47 39l8.4 23.8 8.4 21.6 8.3 19.4 7.9 16.5 8.3-4.5 10-4.4 12.1-4.6 12.6-4.1 14.6-4.2 15.7-3.9 16-3.6 17.1-3.3-7-18.3-7.3-20.9-7.3-22.9-6.7-22.9-6.7 6.7-6.3 5.7-6.4 5.3-6.5 4.7-6.7 4.2-6.8 3.7-6.9 3.1-6.6 2.4-7.2 2.1-6.9 1.3-7 0.9-7.2 0.3-7.3-0.2-7.5-0.8-7.8-1.4z"/>
<path fill="#4fff44" d="M47 39l8.4 23.8 7.7 20.1 7.7 18.1 7.9 16.7 8-4.1 10.5-4.6 11.7-4.3 13.2-4.2 14.1-4 15.1-3.8 16.6-3.6 17.7-3.4-6.8-17.8-6.7-19.4-7.3-22.9-6.7-22.9-6.7 6.7-6.3 5.7-6.4 5.3-6.5 4.7-6.7 4.2-6.8 3.7-6.9 3.1-6.6 2.4-7.2 2.1-6.9 1.3-7 0.9-7.2 0.3-7.3-0.2-7.5-0.8-7.8-1.4z"/>
<path fill="#47ff2f" d="M47 39l7.8 22.1 7.7 20.2 7.7 18.2 7.3 15.8 8.4-4.3 10.3-4.3 11.8-4.3 13.7-4.3 14.8-4.1 15.7-3.8 14.9-3.2 17.7-3.4-6.5-17.3-6.8-19.5-6.7-21.2-6.7-22.9-6.7 6.7-6.3 5.7-6.4 5.3-6.5 4.7-6.7 4.2-6.8 3.7-6.9 3.1-6.6 2.4-7.2 2.1-6.9 1.3-7 0.9-7.2 0.3-7.3-0.2-7.5-0.8-7.8-1.4z"/>
<path fill="#42ff24" d="M47 39l7.8 22.1 7.1 18.6 7 16.9 7.3 16.2 9.2-4.4 10.3-4.3 11.9-4.1 13.3-4.1 14.2-3.9 15.7-3.8 16.7-3.5 16.5-3.1-6.3-16.8-6.7-19.7-6.8-21.3-6.1-21.1-6.7 6.7-6.3 5.7-6.4 5.3-6.5 4.7-6.7 4.2-6.8 3.7-6.9 3.1-6.6 2.4-7.2 2.1-6.9 1.3-7 0.9-7.2 0.3-7.3-0.2-7.5-0.8-7.8-1.4z"/>
<path fill="#3dff1a" d="M47 39l7.2 20.3 7 18.7 7.1 17.2 6.8 15.1 9.3-4.4 10.4-4.1 11.8-4.1 13.4-4 14.3-3.8 15.1-3.7 15.5-3.2 18.3-3.4-6.6-18-6.2-18.2-6.2-19.6-6.1-21.1-6.7 6.7-6.3 5.7-6.4 5.3-6.5 4.7-6.7 4.2-6.8 3.7-6.9 3.1-6.6 2.4-7.2 2.1-6.9 1.3-7 0.9-7.2 0.3-7.3-0.2-7.5-0.8-7.8-1.4z"/>
<path fill="#38ff12" d="M47 39l7.2 20.3 6.4 17.1 6.4 15.8 6.9 15.6 8.6-3.9 10.8-4.2 12.4-4.2 13.5-4 14.8-3.9 15.8-3.7 15.5-3.2 17.1-3.2-5.8-15.9-6.2-18.2-6.2-19.6-6.1-21.1-6.7 6.7-6.3 5.7-6.4 5.3-6.5 4.7-6.7 4.2-6.8 3.7-6.9 3.1-6.6 2.4-7.2 2.1-6.9 1.3-7 0.9-7.2 0.3-7.3-0.2-7.5-0.8-7.8-1.4z"/>
<path fill="#39ff0f" d="M47 39l6.5 18.5 6.4 17.2 6.4 15.9 6.5 14.8 9.5-4.2 11.1-4.2 12-4 13.5-3.9 14.9-3.8 15.2-3.5 16.1-3.3 16.6-3-5.7-15.5-6.2-18.3-6.1-19.8-5.6-19.2-6.7 6.7-6.3 5.7-6.4 5.3-6.5 4.7-6.7 4.2-6.8 3.7-6.9 3.1-6.6 2.4-7.2 2.1-6.9 1.3-7 0.9-7.2 0.3-7.3-0.2-7.5-0.8-7.8-1.4z"/>
<path fill="#40ff10" d="M47 39l6.5 18.5 5.8 15.6 6.4 16 6 13.8 9.6-4.1 10.6-3.9 12.6-4.1 13.5-3.9 14.4-3.6 15.3-3.5 14.9-3 18.3-3.3-6-16.7-5.6-16.9-5.6-18-5.6-19.2-6.7 6.7-6.3 5.7-6.4 5.3-6.5 4.7-6.7 4.2-6.8 3.7-6.9 3.1-6.6 2.4-7.2 2.1-6.9 1.3-7 0.9-7.2 0.3-7.3-0.2-7.5-0.8-7.8-1.4z"/>
<path fill="#46ff12" d="M47 39l5.9 16.7 5.8 15.7 5.7 14.6 6.2 14.5 9.2-3.9 11.7-4.2 12.7-4 13-3.7 14.4-3.6 15.9-3.5 15.5-3.1 17.1-3-5.2-14.7-5.6-16.9-5.6-18-5.6-19.2-6.7 6.7-6.3 5.7-6.4 5.3-6.5 4.7-6.7 4.2-6.8 3.7-6.9 3.1-6.6 2.4-7.2 2.1-6.9 1.3-7 0.9-7.2 0.3-7.3-0.2-7.5-0.8-7.8-1.4z"/>
<path fill="#50ff15" d="M47 39l11 30.7 5.8 14.7 5.7 13.6 10.3-4.2 10.3-3.6 12.2-3.8 14.1-3.9 15-3.7 15.3-3.3 16.2-3.2 16.5-2.9-5.1-14.2-5.6-17-5.6-18.1-5-17.4-6.7 6.7-6.3 5.7-6.4 5.3-6.5 4.7-6.7 4.2-6.8 3.7-6.9 3.1-6.6 2.4-7.2 2.1-6.9 1.3-7 0.9-7.2 0.3-7.3-0.2-7.5-0.8-7.8-1.4z"/>
<path fill="#5bff18" d="M47 39l11 30.7 5.1 13.2 5.3 12.7 9.4-3.7 11.9-4.1 12.8-3.9 13.1-3.6 14.5-3.5 14.7-3.2 15.6-3 18.3-3.2-5.5-15.5-5-15.5-10.1-33.7-6.7 6.7-6.3 5.7-6.4 5.3-6.5 4.7-6.7 4.2-6.8 3.7-6.9 3.1-6.6 2.4-7.2 2.1-6.9 1.3-7 0.9-7.2 0.3-7.3-0.2-7.5-0.8-7.8-1.4z"/>
<path fill="#67ff1b" d="M47 39l10.4 29 10 25.2 10.5-4.1 10.4-3.5 12.3-3.7 14.2-3.7 14.5-3.5 15.9-3.4 15-2.9 17.7-3-9.7-29-10.1-33.7-6.7 6.7-6.3 5.7-6.4 5.3-6.5 4.7-6.7 4.2-6.8 3.7-6.9 3.1-6.6 2.4-7.2 2.1-6.9 1.3-7 0.9-7.2 0.3-7.3-0.2-7.5-0.8-7.8-1.4z"/>
<path fill="#74ff1f" d="M47 39l9.7 27.3 9.7 24.4 9.5-3.6 12-3.9 12.4-3.6 13.7-3.6 14.6-3.4 16.5-3.5 15.2-2.9 16.9-2.8-9.6-28.7-9.5-32-6.7 6.7-6.3 5.7-6.4 5.3-6.5 4.7-6.7 4.2-6.8 3.7-6.9 3.1-6.6 2.4-7.2 2.1-6.9 1.3-7 0.9-7.2 0.3-7.3-0.2-7.5-0.8-7.8-1.4z"/>
<path fill="#81ff22" d="M47 39l9.1 25.6 9.3 23.7 10.6-3.9 11.6-3.7 13-3.7 13.2-3.4 15.2-3.4 15.3-3.2 16.1-3 16.1-2.6-9.5-28.5-8.9-30.2-6.7 6.7-6.3 5.7-6.4 5.3-6.5 4.7-6.7 4.2-6.8 3.7-6.9 3.1-6.6 2.4-7.2 2.1-6.9 1.3-7 0.9-7.2 0.3-7.3-0.2-7.5-0.8-7.8-1.4z"/>
<path fill="#8dff25" d="M47 39l8.4 23.8 9 23.1 9.7-3.5 12.1-3.8 12.5-3.5 14.3-3.6 14.7-3.3 14.8-3.1 17.9-3.2 15.4-2.5-8.8-26.5-8.9-30.2-6.7 6.7-6.3 5.7-6.4 5.3-6.5 4.7-6.7 4.2-6.8 3.7-6.9 3.1-6.6 2.4-7.2 2.1-6.9 1.3-7 0.9-7.2 0.3-7.3-0.2-7.5-0.8-7.8-1.4z"/>
<path fill="#9aff28" d="M47 39l8.4 23.8 8 20.7 11.3-3.9 11.2-3.5 12.5-3.4 13.9-3.4 14.6-3.3 15.4-3.1 15.1-2.7 17.7-2.8-8.6-26.3-8.4-28.4-6.7 6.7-6.3 5.7-6.4 5.3-6.5 4.7-6.7 4.2-6.8 3.7-6.9 3.1-6.6 2.4-7.2 2.1-6.9 1.3-7 0.9-7.2 0.3-7.3-0.2-7.5-0.8-7.8-1.4z"/>
<path fill="#a6ff2c" d="M47 39l7.8 22.1 7.6 20 10.4-3.5 11.7-3.6 13.1-3.5 13.9-3.4 14.7-3.2 16-3.1 32.2-5.5-7.9-24.2-8.4-28.4-6.7 6.7-6.3 5.7-6.4 5.3-6.5 4.7-6.7 4.2-6.8 3.7-6.9 3.1-6.6 2.4-7.2 2.1-6.9 1.3-7 0.9-7.2 0.3-7.3-0.2-7.5-0.8-7.8-1.4z"/>
<path fill="#b2ff2e" d="M47 39l7.2 20.3 7.3 19.4 10.4-3.5 11.8-3.5 13.2-3.4 13.9-3.4 14.7-3.1 16.6-3.2 31.6-5.3-7.8-24-7.8-26.6-6.7 6.7-6.3 5.7-6.4 5.3-6.5 4.7-6.7 4.2-6.8 3.7-6.9 3.1-6.6 2.4-7.2 2.1-6.9 1.3-7 0.9-7.2 0.3-7.3-0.2-7.5-0.8-7.8-1.4z"/>
<path fill="#bcff31" d="M47 39l6.5 18.5 7 18.8 11.1-3.6 11.8-3.4 12.7-3.3 13.9-3.2 30.2-6.1 32.8-5.4-7.6-23.8-7.3-24.8-6.7 6.7-6.3 5.7-6.4 5.3-6.5 4.7-6.7 4.2-6.8 3.7-6.9 3.1-6.6 2.4-7.2 2.1-6.9 1.3-7 0.9-7.2 0.3-7.3-0.2-7.5-0.8-7.8-1.4z"/>
<path fill="#c4ff33" d="M47 39l6.5 18.5 6.1 16.4 10.6-3.3 12.4-3.6 12.7-3.2 14-3.2 29.7-5.9 33.4-5.4-7-21.8-7.3-24.8-6.7 6.7-6.3 5.7-6.4 5.3-6.5 4.7-6.7 4.2-6.8 3.7-6.9 3.1-6.6 2.4-7.2 2.1-6.9 1.3-7 0.9-7.2 0.3-7.3-0.2-7.5-0.8-7.8-1.4z"/>
<path fill="#ccff35" d="M47 39l5.9 16.7 5.8 15.8 11.1-3.4 11.5-3.2 13.3-3.3 14-3.2 29.7-5.8 33.4-5.3-6.9-21.7-6.7-22.9-6.7 6.7-6.3 5.7-6.4 5.3-6.5 4.7-6.7 4.2-6.8 3.7-6.9 3.1-6.6 2.4-7.2 2.1-6.9 1.3-7 0.9-7.2 0.3-7.3-0.2-7.5-0.8-7.8-1.4z"/>
<path fill="#d4ff37" d="M47 39l10.8 30.1 11.2-3.4 12-3.2 13.4-3.3 14-3.1 29.8-5.6 32.8-5.2-6.2-19.7-6.7-22.9-6.7 6.7-6.3 5.7-6.4 5.3-6.5 4.7-6.7 4.2-6.8 3.7-6.9 3.1-6.6 2.4-7.2 2.1-6.9 1.3-7 0.9-7.2 0.3-7.3-0.2-7.5-0.8-7.8-1.4z"/>
<path fill="#dcff39" d="M47 39l9.9 27.7 11.3-3.3 12.6-3.3 26.9-6.1 30.4-5.7 32.3-5-6.2-19.5-6.1-21.1-6.7 6.7-6.3 5.7-6.4 5.3-6.5 4.7-6.7 4.2-6.8 3.7-6.9 3.1-6.6 2.4-7.2 2.1-6.9 1.3-7 0.9-7.2 0.3-7.3-0.2-7.5-0.8-7.8-1.4z"/>
<path fill="#e5ff3b" d="M47 39l9 25.4 11.3-3.3 11.6-3 13.4-3.2 14.7-3.1 31-5.7 31.7-4.8-6-19.4-5.6-19.2-6.7 6.7-6.3 5.7-6.4 5.3-6.5 4.7-6.7 4.2-6.8 3.7-6.9 3.1-6.6 2.4-7.2 2.1-6.9 1.3-7 0.9-7.2 0.3-7.3-0.2-7.5-0.8-7.8-1.4z"/>
<path fill="#edff3d" d="M47 39l8.1 23 11.4-3.2 12.2-3.1 27.6-6 31.7-5.8 31.1-4.6-5.4-17.4-5.6-19.2-6.7 6.7-6.3 5.7-6.4 5.3-6.5 4.7-6.7 4.2-6.8 3.7-6.9 3.1-6.6 2.4-7.2 2.1-6.9 1.3-7 0.9-7.2 0.3-7.3-0.2-7.5-0.8-7.8-1.4z"/>
<path fill="#f4ff3f" d="M47 39l7.3 20.6 10.9-3 12.7-3.2 27.7-5.9 30.5-5.4 32.3-4.8-10.3-34.6-6.7 6.7-6.3 5.7-6.4 5.3-6.5 4.7-6.7 4.2-6.8 3.7-6.9 3.1-6.6 2.4-7.2 2.1-6.9 1.3-7 0.9-7.2 0.3-7.3-0.2-7.5-0.8-7.8-1.4z"/>
<path fill="#f8fb3f" d="M47 39l6.4 18.2 11.5-3.1 12.8-3.1 27.2-5.7 29.4-5.1 33.5-4.9-9.7-32.6-6.7 6.7-6.3 5.7-6.4 5.3-6.5 4.7-6.7 4.2-6.8 3.7-6.9 3.1-6.6 2.4-7.2 2.1-6.9 1.3-7 0.9-7.2 0.3-7.3-0.2-7.5-0.8-7.8-1.4z"/>
<path fill="#f8f33e" d="M47 39l5.6 15.9 23.8-6 27.3-5.6 30-5.2 33.5-4.8-9.1-30.6-6.7 6.7-6.3 5.7-6.4 5.3-6.5 4.7-6.7 4.2-6.8 3.7-6.9 3.1-6.6 2.4-7.2 2.1-6.9 1.3-7 0.9-7.2 0.3-7.3-0.2-7.5-0.8-7.8-1.4z"/>
<path fill="#f7e73d" d="M47 39l4.7 13.5 24-5.8 28.4-5.8 29.5-5 32.9-4.6-8.4-28.6-6.7 6.7-6.3 5.7-6.4 5.3-6.5 4.7-6.7 4.2-6.8 3.7-6.9 3.1-6.6 2.4-7.2 2.1-6.9 1.3-7 0.9-7.2 0.3-7.3-0.2-7.5-0.8-7.8-1.4z"/>
<path fill="#f5d93a" d="M47 39l3.9 11.1 15-3.7 15.6-3.4-8.2 0.1-8.7-0.6-9-1.5zM106.3 38.2l-0.5 0.1 28.9-4.7 31.2-4.3-7.8-26.6-6.2 6.2-6.3 5.8-6.4 5.3-6.5 4.7-6.7 4.3-6.2 3.4-7 3.3z"/>
<path fill="#f4cb37" d="M47 39l3.1 8.8 20.3-4.8-5.8-0.5-5.7-0.9-5.9-1.1zM116.1 34.3l-0.3 0.1 24.7-3.8 24.8-3.3-7.2-24.6-5.3 5.3-5.3 5-5.3 4.6-5 3.9-5.5 3.9-5.2 3.3-5.2 2.9z"/>
<path fill="#f3bd33" d="M47 39l2.2 6.4 13.5-3.2-7.7-1.3zM122.4 31.1l-0.2 0.1 21.8-3.2 20.7-2.7-6.6-22.6-8.6 8.5-8.8 7.6-9 6.6z"/>
<path fill="#f3ae30" d="M47 39l1.4 4 8-1.8zM127.6 28.1l-0.3 0.1 36.8-4.9-6-20.6-7.7 7.6-7.2 6.5-8 6.2z"/>
<path fill="#f4a02c" d="M47 39l0.6 1.7 3.2-0.8zM132.2 25.1l-0.5 0.3 31.8-4.1-5.4-18.6-6.7 6.7-6.3 5.7-6.4 5.3z"/>
<path fill="#f59229" d="M135.7 22.6l-0.2 0.2 27.4-3.4-4.8-16.7-5.7 5.8-5.3 4.9-5.9 5z"/>
<path fill="#f78526" d="M139.2 20l-0.2 0.2 23.3-2.8-4.2-14.7-9.6 9.4z"/>
<path fill="#f77722" d="M142.2 17.6l19.5-2.2-3.6-12.7-8.1 8.1z"/>
<path fill="#f86a1f" d="M145.1 15.1l16-1.7-3-10.7-6.7 6.7z"/>
<path fill="#f85d1b" d="M148 12.6l-0.2 0.2 12.7-1.4-2.4-8.7z"/>
<path fill="#fa4f18" d="M150.4 10.3l-0.1 0.1 9.7-1-1.9-6.7z"/>
<path fill="#fe4216" d="M152.8 8l6.6-0.6-1.3-4.7z"/>
<path fill="#ff3413" d="M155.2 5.6l-0.1 0.2 3.7-0.4-0.7-2.7z"/>
<path fill="#ff2510" d="M157.6 3.2l-0.3 0.3 1-0.1-0.2-0.7z"/>
<path fill="none" stroke="#111" stroke-opacity="0.82" stroke-width="1.15" stroke-dasharray="1.15 2.05" d="M229.5 183l-8.3 1.6-8 1.3-7.6 1.1-8.2 0.9-7.8 0.6-7.2 0.4-6.8 0-6.1-0.1-5.3-0.3-5.3-0.7-4.9-0.8-4.2-1.2-3.5-1.4-2.5-1.4-2-1.9-1.1-1.9-0.2-1.1 0-1.1 0.5-2.1 1.3-2.3 1.9-2.2 2.5-2.4 3.7-2.7 4.4-2.7 4.6-2.4 5.7-2.6 6-2.4 6.2-2.3 7-2.4 7.8-2.3 7.2-1.9 7.8-1.9 7.7-1.6M116 169.9l-0.6-1-0.5-1.1-0.3-1.3 0-1.3 0.3-1.4 0.5-1.5 1.9-2.8 3-3.1 3.9-3 4.8-3.1 5.6-3.1 6.6-3.1 7.3-3.1 8.2-3 8.5-2.9 8.8-2.6 9.6-2.6 10.6-2.6 9.8-2.1M207.8 176.1l-17 2-16.3 1.3-7.8 0.2-7.1 0.1-6.4-0.1-6.9-0.4M95 146.2l2.3-2.4 3.1-2.6 3.1-2.2 4.6-2.8 4.8-2.6 5.2-2.5 6.1-2.6 6.5-2.6 7.2-2.6 7.4-2.4 15.8-4.6 15.9-4 18.4-4M190.3 165.7l-10.2 0.9-10.8 0.8M82.6 125.3l4-2.5 4-2.1 9.3-4.4 11.4-4.5 13-4.5 14.5-4.3 15.6-4 16.6-3.8 17.1-3.4M72.8 105.4l9.5-4.2 11.1-4.2 12-4 13.5-3.9 14.9-3.8 15.2-3.5 16.1-3.3 16.6-3M64.4 85.9l9.7-3.5 12.1-3.8 12.5-3.5 14.3-3.6 14.7-3.3 14.8-3.1 17.9-3.2 15.4-2.5M56.9 66.7l11.3-3.3 12.6-3.3 12.8-3.1 14.1-3 14.3-2.8 16.1-2.9 15.3-2.5 17-2.5M50.1 47.8l20.3-4.8M115.8 34.4l24.7-3.8 24.8-3.3M147.8 12.8l12.7-1.4"/>
<path fill="#1f02ff" d="M125.9 176.2l3.3 1.4 3.3 1 3.4 0.7 3 0.3 3.4 0 3.4-0.3 3.4-0.7 3.1-0.9 6.7-3 6.7-4.3 6.9-5.8 7.1-7.3 10.6 8.3 5.1 3.5 5.3 3.2 5.2 2.9 5.1 2.3 5 2 4.8 1.6 4.8 1.2 4.9 0.9 4.9 0.4 4.7 0.1 4.7-0.3 4.8-0.7 4.8-1 4.5-1.5-8 2.9-8.9 2.7-9.1 2.3-9.8 2.1-9.6 1.5-9.4 1.1-9 0.5-7.7 0-6.7-0.4-7-1-8.2-1.7-7.9-2-8.4-2.6-7.6-2.7-7.7-3.2z"/>
<path fill="#2004ff" d="M125.9 176.2l3.3 1.4 3.3 1 3.4 0.7 3 0.3 3.4 0 3.4-0.3 3.4-0.7 3.1-0.9 6.7-3 6.7-4.3 6.9-5.8 7.1-7.3 9.5 7.5 9.3 6.2 9 5 9 3.7 8.9 2.6 8.5 1.2 4.3 0.2 4.3-0.1 4.2-0.4 4.3-0.7-8.4 2.4-8.8 2.3-9.4 1.9-9 1.6-9 1.1-8.5 0.8-8.2 0.3-7.4-0.1-5.7-0.5-5.2-0.9-7.9-1.7-8-2.1-7.2-2.3-7.6-2.8z"/>
<path fill="#2c14f9" d="M125.9 176.2l3.3 1.4 3.3 1 3.4 0.7 3 0.3 3.4 0 3.4-0.3 3.4-0.7 3.1-0.9 6.7-3 6.7-4.3 6.9-5.8 7.1-7.3 8.6 6.8 8.5 5.9 8.6 4.9 8.2 3.7 8.2 2.8 8 1.7 7.7 0.6 7.8-0.3-8.4 2.2-8.7 1.9-9.1 1.7-8.6 1.3-8.5 1-8.3 0.6-7.7 0.2-7.4-0.2-5.6-0.5-4.5-0.7-6.8-1.6-7.4-2.1-13.9-4.8z"/>
<path fill="#3b30f2" d="M125.9 176.2l3.3 1.4 3.3 1 3.4 0.7 3 0.3 3.4 0 3.4-0.3 3.4-0.7 3.1-0.9 6.7-3 6.7-4.3 6.9-5.8 7.1-7.3 8 6.4 8 5.6 7.8 4.6 7.5 3.6 7.5 2.9 7.6 2 7.4 1.1 7.2 0.2-17.4 3.8-17.3 2.6-8.2 0.8-8.1 0.5-7.8 0.1-6.7-0.2-5.5-0.5-4.7-0.7-11.6-3.2-14-4.9z"/>
<path fill="#3e42f2" d="M125.9 176.2l3.3 1.4 3.3 1 3.4 0.7 3 0.3 3.4 0 3.4-0.3 3.4-0.7 3.1-0.9 6.7-3 6.7-4.3 6.9-5.8 7.1-7.3 7.4 5.9 7.5 5.3 7.2 4.5 7.1 3.6 7.1 2.9 6.9 2.2 6.9 1.4 6.8 0.6-17.7 3.6-17 2.3-15.9 1.1-7.5 0-6.7-0.2-9.7-1.2-9-2.4-13.7-4.9z"/>
<path fill="#4051f2" d="M125.9 176.2l3.3 1.4 3.3 1 3.4 0.7 3 0.3 3.4 0 3.4-0.3 3.4-0.7 3.1-0.9 6.7-3 6.7-4.3 6.9-5.8 7.1-7.3 6.8 5.5 7 5 6.7 4.2 6.8 3.7 6.6 2.9 6.5 2.3 6.5 1.6 6.4 1-17.1 3.2-16.9 2.1-15.6 1-7.1 0.1-7-0.3-8.8-1-7.1-1.7-14-4.9z"/>
<path fill="#405ff4" d="M125.9 176.2l3.3 1.4 3.3 1 3.4 0.7 3 0.3 3.4 0 3.4-0.3 3.4-0.7 3.1-0.9 6.7-3 6.7-4.3 6.9-5.8 7.1-7.3 6.5 5.3 6.4 4.6 6.5 4.2 6.3 3.5 6.1 2.9 6 2.3 6.1 1.8 6 1.1-16.8 3-16.9 2-15.4 0.9-13.7-0.2-9.1-1.1-7.1-1.6-12.1-4.3z"/>
<path fill="#406ef8" d="M125.9 176.2l3.3 1.4 3.3 1 3.4 0.7 3 0.3 3.4 0 3.4-0.3 3.4-0.7 3.1-0.9 6.7-3 6.7-4.3 6.9-5.8 7.1-7.3 6 4.8 6 4.5 6 3.9 6 3.5 5.7 2.8 5.8 2.4 5.6 1.9 5.6 1.4-16.9 2.8-16.3 1.8-15.1 0.8-13.5-0.2-9.6-1.1-7.5-1.6-10.2-3.8z"/>
<path fill="#467ffa" d="M125.9 176.2l3.3 1.4 3.3 1 3.4 0.7 3 0.3 3.4 0 3.4-0.3 3.4-0.7 3.1-0.9 6.7-3 6.7-4.3 6.9-5.8 7.1-7.3 5.7 4.6 5.8 4.3 5.4 3.6 5.5 3.3 5.4 2.9 5.3 2.3 5.5 2 5.1 1.5-16.4 2.6-16.1 1.7-14.6 0.8-13.5-0.3-9.9-0.9-7.8-1.7-8.8-3.2z"/>
<path fill="#488ffa" d="M125.9 176.2l3.3 1.4 3.3 1 3.4 0.7 3 0.3 3.4 0 3.4-0.3 3.4-0.7 3.1-0.9 6.7-3 6.7-4.3 6.9-5.8 7.1-7.3 10.6 8.3 10.2 6.6 5.1 2.8 5.1 2.4 5 2 4.9 1.6-16.3 2.5-15.3 1.6-14.7 0.7-13.1-0.2-10-0.9-8.3-1.6-5.6-1.9z"/>
<path fill="#4f9fff" d="M125.9 176.2l3.3 1.4 3.3 1 3.4 0.7 3 0.3 3.4 0 3.4-0.3 3.4-0.7 3.1-0.9 6.7-3 6.7-4.3 6.9-5.8 7.1-7.3 9.7 7.7 9.7 6.4 9.5 5.1 9.3 3.7-15.8 2.3-15 1.4-14.2 0.7-12.6-0.1-10.7-0.9-8.5-1.5-5.7-1.7z"/>
<path fill="#55aeff" d="M125.9 176.2l3.3 1.4 3.3 1 3.4 0.7 3 0.3 3.4 0 3.4-0.3 3.4-0.7 3.1-0.9 6.7-3 6.7-4.3 6.9-5.8 7.1-7.3 9.2 7.2 8.8 6 8.8 4.9 8.7 3.9-15 2-14.6 1.4-13.6 0.7-12.4 0-11-0.8-8.9-1.4-6.6-1.9z"/>
<path fill="#5dc3ff" d="M125.9 176.2l3.3 1.4 3.3 1 3.4 0.7 3 0.3 3.4 0 3.4-0.3 3.4-0.7 3.1-0.9 6.7-3 6.7-4.3 6.9-5.8 7.1-7.3 8.6 6.8 8.3 5.7 8.2 4.8 7.9 3.7-13.9 1.8-14.2 1.4-12.9 0.7-12.1 0-10.6-0.6-9.3-1.2-7.5-1.7z"/>
<path fill="#65d6ff" d="M140.4 179.7l4.9-0.3 4.8-1.1 4.9-1.7 4.9-2.5 5-3.2 4.7-3.7 5.2-4.8 4.8-5.1 7.7 6.2 7.8 5.4 7.5 4.5 7.5 3.8-19.9 2.4-18.4 1.2-8.8 0.2-8.1-0.1-7.7-0.5z"/>
<path fill="#6de6ff" d="M146.3 179.2l4.2-1 4.2-1.4 4.2-2.1 3.9-2.3 4.3-3.1 4-3.4 4.4-4.2 4.1-4.4 7.1 5.7 7.2 5.2 7 4.3 6.9 3.6-17 2-16.3 1.3-14.9 0.3z"/>
<path fill="#74f2ff" d="M150.6 178.2l3.7-1.3 3.5-1.6 3.5-2 3.6-2.4 7.3-6 7.4-7.6 6.5 5.3 6.7 4.8 6.5 4.1 6.1 3.5-14.7 1.7-14.3 1.1-13.7 0.5z"/>
<path fill="#77fbff" d="M154.1 177l6.2-3.1 6.4-4.4 6.6-5.6 6.3-6.6 6 4.8 6 4.5 5.7 3.7 5.8 3.4-13 1.5-12.6 1.1-12 0.6z"/>
<path fill="#79fffd" d="M157.2 175.6l5.6-3.2 5.4-4 5.8-5.2 5.6-5.9 10.9 8.5 10.4 6.7-11.5 1.3-11.4 1-10.6 0.6z"/>
<path fill="#7afffb" d="M160 174.1l4.9-3.2 4.7-3.7 5.2-4.8 4.8-5.1 9.7 7.7 9.4 6.2-20.3 2z"/>
<path fill="#7afffa" d="M162.5 172.5l4.2-3 4.4-3.6 4.4-4.2 4.1-4.4 8.6 6.8 8.4 5.8-17.3 1.7z"/>
<path fill="#7afff8" d="M164.9 170.9l7.3-6 7.4-7.6 7.4 5.9 7.4 5.3-14.8 1.5z"/>
<path fill="#79fff3" d="M167.2 169.2l6.1-5.3 6.3-6.6 6.5 5.3 6.3 4.5-13.1 1.3z"/>
<path fill="#79ffed" d="M169.3 167.4l5.1-4.6 5.2-5.5 10.7 8.4z"/>
<path fill="#78ffe6" d="M171.4 165.6l4.1-3.9 4.1-4.4 8.7 6.9z"/>
<path fill="#74ffd8" d="M173.4 163.8l6.2-6.5 6.7 5.4z"/>
<path fill="#70ffca" d="M175.2 161.9l4.4-4.6 4.7 3.8z"/>
<path fill="#6dffbc" d="M177.1 160l2.5-2.7 2.8 2.3z"/>
<path fill="#6affaf" d="M178.9 158.1l0.7-0.8 0.8 0.7z"/>
<path fill="none" stroke="#111" stroke-opacity="0.82" stroke-width="1.15" stroke-dasharray="1.15 2.05" d="M229.5 183l-11.8 2.2-12.1 1.8-11.5 1.2-11.1 0.6-10.3 0.1-8.9-0.5-7.8-1-3.4-0.8-2.8-0.8M207.8 176.1l-17 2-16.3 1.3-7.8 0.2-7.1 0.1-7-0.1-6.3-0.4M190.3 165.7l-10.8 1-10.2 0.7"/>
<path fill="none" stroke="#fff" stroke-opacity="0.09" stroke-width="0.6" d="M121.5 173.3l5.8 3.5M120 171.1l5.6 4.3 4.9 2.8M119.2 169.1l4 3.6 4.1 3.1 4 2.6 3.3 1.7M119.2 167.5l4.8 4.6 4.9 4 4.8 3.2 4.1 2.1M120.1 166.4l5.6 5.7 4.8 4.1 5.6 3.9 4.9 2.5M120.1 164.3l6.3 7 5.6 5 6.5 4.6 5.7 2.9M120.9 162.9l7.1 8.2 6.4 5.9 4 3 3.3 2.1 3.2 1.7 3.3 1.4M122.5 162.3l7.1 8.4 7.1 6.8 4.1 3.1 3.2 2.1 4 2.2 3.3 1.4M123.2 160.6l4 5.1 3.9 4.6 4 4.1 4 3.6 4 3.2 4 2.6 4.1 2.1 3.2 1.3M124.8 159.9l4.7 6.2 3.9 4.6 4 4.1 4 3.7 4.8 3.7 4 2.6 4 2 4.1 1.6M126.3 159l4.7 6.4 3.9 4.7 4.8 5.1 3.9 3.7 4.8 3.7 4.1 2.6 4.8 2.5 4.1 1.5M127.1 156.9l4.6 6.6 4.7 6 4.8 5.2 4.7 4.5 4.8 3.8 4.8 3.1 4.9 2.4 4.1 1.4M128.6 155.9l5.4 7.8 4.7 5.9 4.7 5.3 4.7 4.6 4.8 3.8 4.8 3.2 4.9 2.4 4.9 1.7M130.1 154.7l5.4 8 4.7 6.1 5.4 6.3 4.8 4.5 5.5 4.5 4.8 3.1 5.7 2.7 4.9 1.5M132.3 154.7l5.4 8 5.5 7.1 5.4 6.2 4.8 4.5 5.5 4.4 4.8 3 5.7 2.6 4.9 1.4M133.8 153.4l4.6 7.1 3.9 5.4 3.8 4.9 3.9 4.4 4 3.9 3.9 3.5 4 3 4 2.5M135.2 152.1l7.7 11.6 7 8.8 7 7.4 4 3.4 3.1 2.3M143.3 147.6l6.6-1.6 6.4-2.2 6.3-2.6 6.8-3.5M137.4 151.9l6.9 10.6 6.2 8.1 7 7.7 6.3 5.6M132.8 153.2l6.9-0.5 6.7-1.1 6.5-1.6 7.1-2.4 6.3-2.7 6.7-3.5 6-3.7 6.5-4.6M138.8 150.3l6.9 10.8 6.2 8.4 6.2 7.1 6.3 5.9M127.5 157l9.1 0 8.9-0.9 8.5-1.8 8.4-2.7 8.7-3.8 8.5-4.8 8.2-5.7 8.1-6.6M141 150l6.1 9.7 6.1 8.6 6.2 7.3 5.5 5.4M123.5 159.9l5.1 0.6 5.6 0.3 4.9-0.1 5.5-0.4 5.3-0.8 5.3-1.1 5.1-1.4 5.1-1.8 5-2 4.9-2.4 4.9-2.7 5.3-3.4 4.7-3.4 5.2-4.1 9.6-8.7M142.4 148.3l6.1 10 6.1 8.7 6.2 7.5 5.4 5.6M121.6 162.5l5.9 1 5.7 0.5 5.6 0.2 5.5-0.2 5.4-0.5 6-1 5.1-1.3 5.8-1.8 5-2 5.5-2.6 4.8-2.6 5.4-3.3 5.2-3.7 5.2-4.1 5.1-4.4 5-4.7M144.5 147.9l6.1 10 5.3 7.7 5.4 6.8 5.4 5.9M120.4 164.8l5.9 1.3 5.8 0.8 5.7 0.5 6.2 0.1 5.5-0.3 6-0.8 5.8-1.3 5.8-1.6 5.6-2.1 5.6-2.4 5.4-2.9 5.4-3.2 5.2-3.6 5.2-4 5.1-4.3 5.5-5.2M146.6 147.4l5.3 8.8 5.4 7.9 5.3 7 5.4 6.1M119.2 166.7l6 1.6 6.6 1.2 5.7 0.7 6.3 0.4 6.1-0.2 6.1-0.6 5.9-1 5.7-1.4 5.7-1.9 5.6-2.3 5.4-2.7 6-3.4 5.2-3.5 5.8-4.3 5.6-4.7 5.6-5.2M148 145.6l5.3 8.9 5.3 8.1 5.3 7.1 5.4 6.3M119.5 168.7l6 1.7 6.6 1.5 6.5 1 6.3 0.5 6.2 0 6-0.4 5.9-0.9 5.8-1.3 5.7-1.8 6.2-2.4 5.4-2.6 6-3.3 5.8-3.8 5.7-4.2 5.7-4.7 5.5-5.2M150.1 145l5.2 9 5.4 8 5.3 7.2 5.4 6.3M119.7 170.3l7.6 2.4 7.4 1.8 7.1 1.1 7.7 0.5 7.4-0.1 7.3-0.9 7.1-1.4 6.9-2.2M189.7 166.5l7.1-4.2 6.9-4.7 6.8-5.4 6.7-6.1M152.1 144.3l5.3 9 5.3 8.2 5.3 7.2 4.6 5.4M120.8 171.9l6.1 2.2 5.9 1.7 5.9 1.3 6.4 1 5.5 0.5 6.1 0.1 6-0.4 5.9-0.9M205 161.4l7.3-5.7 7.2-6.5M154.2 143.6l5.3 9.1 4.5 7 5.3 7.4 4.6 5.6M121.8 173.3l5.4 2 6 2 5.1 1.3 5.8 1.2 5.6 0.8 5.5 0.4 5.4 0 5.3-0.4M214.2 159l7.7-6.9M156.3 142.9l5.2 9.1 4.5 7 5.3 7.4 4.6 5.7M122.9 174.4l10.6 4.1 10.3 2.7 4.9 1 5.6 0.6 4.8 0.3 5.4 0M221.5 157.4l2.8-2.6M158.3 142.1l5.2 9.1 4.5 7.1 5.3 7.4 4.6 5.7M124.7 175.5l9.9 4.1 10.3 3.1 9.9 1.8 9.5 0.6M160.3 141.2l5.2 9.2 4.5 7.1 5.3 7.5 4.6 5.7M132 178.9l8.2 3.2 8.7 2.4 7.8 1.5 8.2 0.8M162.3 140.3l5.2 9.2 4.5 7.1 4.5 6.5 4.6 5.9M141.4 182.8l5.8 1.9 6.5 1.7 6.2 1.2 6.2 0.6M164.3 139.4l5.2 9.2 4.5 7.1 4.5 6.6 4.5 5.8M149.8 185.8l8.6 2.2 8.9 1.4M167 139.7l4.5 7.9 4.4 7.2 4.5 6.6 4.6 5.9M158.2 188.3l5.6 1.3 5.4 0.8M169 138.7l5.2 9.1 4.4 7.1 4.5 6.5 4.6 5.9M166.4 190.4l5.4 0.9M170.9 137.6l5.2 9.2 4.5 7.1 4.5 6.5 4.5 5.9M173.6 137.8l4.4 7.8 4.5 7.2 4.5 6.5 4.5 5.9M175.6 136.6l4.4 7.9 4.4 7.2 4.5 6.5 4.5 6M177.5 135.4l5.1 9.1 4.4 7.1 4.5 6.5 4.5 5.9M180.1 135.5l4.4 7.8 4.4 7.1 4.5 6.5 4.5 5.9M182 134.2l5.1 9 4.4 7.1 4.5 6.4 4.5 5.8M184.6 134.1l4.4 7.8 4.4 7.1 4.5 6.4 4.4 5.8M187.2 134.1l4.4 7.6 4.4 7 4.4 6.4 4.5 5.8M189.1 132.6l5.1 8.9 4.4 6.9 4.4 6.3 4.5 5.7M191.6 132.4l5.1 8.8 4.4 6.9 4.5 6.2 4.4 5.6M194.2 132.2l5.1 8.7 4.4 6.8 4.4 6.1 4.5 5.6M196 130.6l5.1 8.7 4.4 6.9 5.2 7.1 4.4 5.5M198.6 130.3l5 8.6 4.4 6.8 5.2 7 4.4 5.4M201.1 129.9l5.1 8.6 4.3 6.6 5.2 7 4.5 5.3M203.6 129.5l5.1 8.4 4.3 6.6 5.2 6.9 4.5 5.2"/>
<path d="M46.2 20.4L53.2 178.8L179.4 222L277.9 170.2" fill="none" stroke="#222" stroke-width="0.9"/>
<path d="M46.2 20.4L53.2 178.8" fill="none" stroke="#111" stroke-width="1"/>
</g>
<path d="M53.2 178.8L49.8 180.1M81.4 188.4L78 189.8M111.7 198.8L108.3 200.3M144.3 210L140.9 211.6M179.4 222L176.1 223.7M179.4 222L183.6 223.4M207.6 207.2L211.6 208.5M233.1 193.7L237.1 194.9M256.5 181.5L260.4 182.5M277.9 170.2L281.7 171.2M51.8 145.7L48.2 146.9M50.1 107.5L46.5 108.5M48.3 68.2L44.7 69M46.5 27.7L42.8 28.3" fill="none" stroke="#222" stroke-width="0.9"/>
<text font-size="10" font-weight="bold" text-anchor="end"  transform="matrix(1.004 -0.375 0.872 0.303 50.9 181.8)">4</text>
<text font-size="10" font-weight="bold" text-anchor="end"  transform="matrix(0.999 -0.402 0.936 0.325 79.3 191.6)">8</text>
<text font-size="10" font-weight="bold" text-anchor="end"  transform="matrix(0.991 -0.433 1.006 0.349 109.9 202.2)">12</text>
<text font-size="10" font-weight="bold" text-anchor="end"  transform="matrix(0.978 -0.467 1.085 0.376 142.8 213.6)">16</text>
<text font-size="10" font-weight="bold" text-anchor="end"  transform="matrix(0.961 -0.505 1.173 0.407 178.3 226.0)">20</text>
<text font-size="10" font-weight="bold" text-anchor="start"  transform="matrix(0.889 0.304 -0.706 0.378 183.7 225.5)">1</text>
<text font-size="10" font-weight="bold" text-anchor="start"  transform="matrix(0.872 0.276 -0.640 0.343 211.9 210.4)">2</text>
<text font-size="10" font-weight="bold" text-anchor="start"  transform="matrix(0.855 0.252 -0.583 0.312 237.5 196.6)">3</text>
<text font-size="10" font-weight="bold" text-anchor="start"  transform="matrix(0.837 0.230 -0.533 0.285 260.9 184.1)">4</text>
<text font-size="10" font-weight="bold" text-anchor="start"  transform="matrix(0.819 0.212 -0.489 0.262 282.4 172.6)">5</text>
<text font-size="10" font-weight="bold" text-anchor="end"  transform="matrix(0.888 -0.290 0.055 1.208 47.9 151.1)">25</text>
<text font-size="10" font-weight="bold" text-anchor="end"  transform="matrix(0.903 -0.246 0.057 1.243 46.1 112.7)">50</text>
<text font-size="10" font-weight="bold" text-anchor="end"  transform="matrix(0.918 -0.200 0.059 1.278 44.3 73.3)">75</text>
<text font-size="10" font-weight="bold" text-anchor="end"  transform="matrix(0.934 -0.151 0.060 1.315 42.5 32.8)">100</text>
<text font-size="10" font-weight="bold" text-anchor="middle"  transform="matrix(1.265 0.462 -1.312 0.573 87.1 209.6)">BTA (g/L)</text>
<text font-size="10" font-weight="bold" text-anchor="middle"  transform="matrix(0.879 -0.497 1.337 0.400 251.8 204.2)">Sulfosalicylic acid (g/L)</text>
<text font-size="10" font-weight="bold" text-anchor="middle"  transform="matrix(0.087 1.561 -1.398 0.375 19.0 112.2)"><tspan font-style="italic">i</tspan><tspan font-size="7" dy="2.5">p</tspan><tspan dy="-2.5"> (μA/cm</tspan><tspan font-size="7" dy="-4">2</tspan><tspan dy="4">)</tspan></text>
<g shape-rendering="geometricPrecision" stroke-linejoin="round">
<path d="M58.9 434.1L161.8 395.3L161.5 255.1L52.1 271.5zM161.8 395.3L278.4 426.7L285 268.4L161.5 255.1z" fill="#fff" stroke="#777" stroke-width="0.7"/>
<path d="M114.3 413.2L111.2 262.6M188.3 402.4L189.4 258.1M216.4 410L219.1 261.3M246.4 418L250.9 264.7M57.7 405L161.8 370L279.5 398.3M56.3 372.9L161.7 342.2L280.8 367M54.9 339.9L161.6 313.8L282.2 334.9M53.5 306.1L161.5 284.7L283.6 302" fill="none" stroke="#dcdcdc" stroke-width="0.65"/>
<path fill="#1e00ff" d="M58.9 434.1l122.5 43.7 97-51.1-116.6-31.4z"/>
<path fill="#1f02ff" d="M58.9 434.1l122.5 43.7 97-51.1-15.2-4.1-8-0.8-6.3-1.2-4.4-1.6-1.8-1-1.8-1.4-79.1-21.3z"/>
<path fill="#1f02ff" d="M58.9 434.1l69.9 24.9 3.8 0.7 3.5 1 2.9 1.3 2.2 1.4 40.2 14.4 97-51.1-10.4-2.8-12.8-0.6-5.5-0.7-4-0.9-3.4-1.2-2.7-1.5-2-1.8-1.2-1.8-74.6-20.1z"/>
<path fill="#2004ff" d="M58.9 434.1l63.3 22.6 10.8 0.7 4.1 0.7 3.5 1 2.9 1.3 2.3 1.6 1.5 1.9 0.8 2 33.3 11.9 97-51.1-6.8-1.9-9.8 0.1-7.4-0.2-6.6-0.7-5-0.9-4-1.4-2.9-1.9-1.9-2.3-0.7-1.5-0.3-1.6-71.2-19.1z"/>
<path fill="#2c14f9" d="M58.9 434.1l59.2 21.1 8.9-0.1 8 0.4 6.1 0.8 4.3 1.1 3.9 1.9 2.1 2.1 0.7 1.3 0.4 1.5 0.1 3.3 28.8 10.3 97-51.1-3.6-1-14.4 0.4-10.5-0.2-5.8-0.5-5-1-4.5-1.7-1.6-1-1.3-1.3-0.9-1.4-0.5-1.5-0.3-1.7 0.1-2.1-68.3-18.4z"/>
<path fill="#3b30f2" d="M58.9 434.1l55.9 19.9 13.6-0.5 9.6 0.2 7.4 0.6 3.1 0.6 2.7 0.8 2.3 1.1 1.3 0.9 1.1 1.1 0.9 1.7 0.4 1.4 0 2.2-0.4 2.4-0.7 2.3 25.3 9 97-51.1-0.9-0.3-15.3 0.9-12.4 0.1-8.1-0.4-6.7-1.1-3-1-1.9-1-1.4-1.1-1-1.4-0.7-1.5-0.2-2.2 0.2-2.3 0.6-2.4-65.8-17.7z"/>
<path fill="#3e42f2" d="M58.9 434.1l53.1 18.9 16.5-1 12.7-0.3 9.7 0.6 3.2 0.5 2.8 0.8 2.2 1 1.7 1.3 0.8 1.2 0.7 1.8 0 2.2-0.4 2.4-1 2.7-1.7 3.7 22.2 7.9 95.6-50.4-18.4 1.2-12.8 0.4-9.4-0.4-4-0.5-2.7-0.6-2.3-0.8-1.8-1.1-1.3-1.2-1-1.9-0.3-2.1 0.3-2.4 0.8-2.6 1.3-3-63.6-17.1z"/>
<path fill="#4051f2" d="M58.9 434.1l50.7 18.1 21.4-1.8 15.8-0.7 10.3 0.2 4.1 0.6 2.7 0.8 2.1 1.1 1.4 1.4 0.7 1.8 0 2.1-0.5 2.5-1.1 2.7-2 3.8-2.5 4.1 19.4 7 93.6-49.4-20.3 1.6-14.5 0.7-9.7-0.2-4.1-0.5-2.7-0.6-2.2-0.9-1.5-1.1-1-1.5-0.5-2.1 0.3-2.4 0.9-2.6 1.6-3.4 2-3.6-61.5-16.5z"/>
<path fill="#405ff4" d="M58.9 434.1l48.5 17.3 27.6-2.8 18.1-1.3 12.2-0.2 3.6 0.4 2.9 0.6 2.1 1.1 1.2 1.5 0.3 1.9-0.6 2.4-1.1 2.7-2.1 3.8-7.1 10.2 16.9 6.1 91.5-48.3-23.6 2.3-16.5 1.1-10.3 0-3.4-0.3-2.8-0.6-2-1-1.2-1.4-0.4-1.7 0.3-2 1-2.7 1.5-3 5.9-8.9-59.6-16z"/>
<path fill="#406ef8" d="M58.9 434.1l46.4 16.5 63.2-6.9 11.1-0.8 3.1 0.1 2.4 0.4 1.3 0.9 0.3 0.9-0.5 1.7-1.5 2.8-5.5 7.5-12.3 15.4 14.5 5.2 89.3-47.1-34 3.8-18.1 1.8-9.4 0.6-2.9-0.1-2.2-0.5-0.9-0.5-0.5-1.3 0.5-1.6 1-1.9 4.8-6.9 10.6-13.3-57.8-15.5z"/>
<path fill="#467ffa" d="M58.9 434.1l44.5 15.9 50.3-6.7 13.6-2.2 10-2 7.8-2.3 6.2-2.6 5.3-3.3 5.9-4.7 6.8-6.5 8.6-9.3-56.1-15.1zM169.4 473l-0.3 0.4 12.3 4.4 86.9-45.8-27.4 3.6-17.8 2.9-11.8 2.5-4.5 1.3-4.1 1.5-3.6 1.7-3.2 1.9-3.6 2.5-3.4 2.8-8.2 7.9z"/>
<path fill="#488ffa" d="M58.9 434.1l42.8 15.2 34.9-4.9 17.1-2.8 13.2-2.6 10.2-2.7 8.5-3.1 7.3-3.7 7-4.7 7.8-6.5 8.6-8.4-54.5-14.6zM171.1 474.1l10.3 3.7 84.4-44.5-21.6 3.3-16 3-12.4 3.1-9.5 3.5-7.9 4-3.9 2.6-4.1 3-8.9 7.8z"/>
<path fill="#4f9fff" d="M58.9 434.1l41.1 14.6 27.3-4 18.6-3.1 14-2.9 11.7-3 9.9-3.4 8.6-4 7.8-4.8 8.3-6.3 8.6-7.7-53-14.2zM173.5 474.4l-0.4 0.4 8.3 3 81.7-43.1-18.3 3.2-14.5 3.1-11.3 3.1-9.9 3.7-8.5 4.4-8.3 5.5-8.7 7.1z"/>
<path fill="#55aeff" d="M58.9 434.1l39.5 14.1 22.5-3.4 19.4-3.4 14.6-3 12.4-3.2 10.7-3.6 9.4-4.1 8.5-4.9 8.5-5.9 9-7.6-51.6-13.8zM175 475.5l6.4 2.3 78.8-41.6-16.3 3.2-13.3 3.2-10.8 3.4-9.6 3.8-8.5 4.5-8.4 5.5-8.6 6.8z"/>
<path fill="#5dc3ff" d="M58.9 434.1l38 13.5 20.4-3.2 18.4-3.3 16.1-3.4 12.9-3.4 10.7-3.5 9.6-4 9.2-5 8.7-5.8 9.1-7.2-50.2-13.5zM176.8 476.1l4.6 1.7 75.7-39.9-14.2 3.1-12.1 3.2-10.5 3.5-9.4 4-8.4 4.5-8.1 5.3-8.8 6.9z"/>
<path fill="#65d6ff" d="M58.9 434.1l36.5 13 17.7-2.8 19.1-3.5 16-3.4 13.6-3.6 11.3-3.7 10.1-4.2 9.4-4.9 8.6-5.5 9.4-7.1-48.8-13.1zM178.6 476.8l2.8 1 72.2-38.1-12.4 3-11 3.3-9.6 3.4-8.7 3.9-7.9 4.3-8.3 5.3-8.5 6.5z"/>
<path fill="#6de6ff" d="M58.9 434.1l35.1 12.5 15.8-2.6 19-3.5 15.9-3.4 13.7-3.6 12-3.8 10.4-4.2 9.6-4.8 9.6-5.9 9.3-6.7-47.5-12.8zM180.3 477.4l1.1 0.4 68.3-36-10.8 2.9-10 3.2-8.7 3.4-8.5 4-7.9 4.4-7.8 5.1-7.8 5.9z"/>
<path fill="#74f2ff" d="M58.9 434.1l33.8 12.1 16.5-2.8 18.7-3.6 15.7-3.5 13.5-3.6 11.9-3.8 10.8-4.4 9.7-4.8 9.4-5.5 9.2-6.5-46.3-12.4zM183.6 476.5l-0.3 0.3 61.9-32.6-9.2 2.8-8.4 3-7.9 3.2-7.4 3.6-7.3 4.2-7 4.5-7.1 5.2z"/>
<path fill="#77fbff" d="M58.9 434.1l32.5 11.6 15.5-2.7 18.6-3.6 15.6-3.5 14.2-3.7 11.9-3.9 10.9-4.3 9.8-4.7 9.5-5.5 9.5-6.4-45.1-12.1zM190.4 472.9l-0.3 0.3 49.5-26.1-13.9 5.1-6 2.7-6.3 3.1-6 3.4-5.7 3.5z"/>
<path fill="#79fffd" d="M58.9 434.1l31.3 11.1 15.3-2.7 18.5-3.6 15.5-3.5 14.1-3.8 11.9-3.8 10.9-4.3 10.4-4.9 9.6-5.4 9.3-6.1-43.9-11.8zM199.3 468.3l-0.3 0.2 32.9-17.3-8.6 3.6-8.5 4.1-7.9 4.5z"/>
<path fill="#7afffb" d="M58.9 434.1l30.1 10.7 16-2.9 18.3-3.6 15.3-3.6 13.3-3.6 12.5-4 10.9-4.3 10-4.6 9.8-5.4 9.4-6-42.7-11.5z"/>
<path fill="#7afffa" d="M58.9 434.1l28.9 10.3 16.8-3.1 17.3-3.5 15.3-3.6 13.8-3.8 11.9-3.8 11-4.2 10.5-4.8 9.5-5.1 9.5-6-41.6-11.2z"/>
<path fill="#7afff8" d="M58.9 434.1l27.8 9.9 16.6-3.1 17.2-3.6 15.2-3.5 13.2-3.6 12.5-4 11-4.2 10.6-4.8 10-5.3 9.3-5.7-40.5-10.9z"/>
<path fill="#79fff3" d="M58.9 434.1l26.7 9.5 17.3-3.3 17.1-3.6 15-3.6 13.1-3.6 12.4-4 11-4.1 10.2-4.6 10.1-5.2 9.5-5.7-39.5-10.6z"/>
<path fill="#79ffed" d="M58.9 434.1l25.6 9.1 18.9-3.6 16.1-3.4 14.9-3.7 13.6-3.8 11.7-3.8 11-4.1 10.2-4.5 9.8-5 9.6-5.7-38.5-10.3z"/>
<path fill="#78ffe6" d="M58.9 434.1l24.5 8.7 19.6-3.7 16.7-3.7 14.1-3.5 13.5-3.8 11.7-3.8 10.9-4.1 10.2-4.5 9.8-5 9.3-5.4-37.4-10z"/>
<path fill="#74ffd8" d="M58.9 434.1l23.5 8.4 21-4.2 15.8-3.5 14.7-3.6 12.7-3.7 11.6-3.8 11-4.1 10.2-4.4 9.5-4.8 9.4-5.3-36.5-9.8z"/>
<path fill="#70ffca" d="M58.9 434.1l22.5 8 20.9-4.1 15.8-3.5 14.6-3.7 12.7-3.6 11.6-3.8 11-4.1 10.3-4.5 9.9-4.9 9.1-5.1-35.5-9.5z"/>
<path fill="#6dffbc" d="M58.9 434.1l21.5 7.7 22.4-4.5 15.6-3.6 13.8-3.4 12.6-3.7 11.6-3.8 10.4-3.9 10.4-4.4 10-4.8 9.2-5.1-34.6-9.3z"/>
<path fill="#6affaf" d="M58.9 434.1l20.6 7.3 23.8-4.8 14.7-3.4 13.7-3.5 12.6-3.6 11.5-3.8 10.4-3.9 10.3-4.4 9.6-4.6 9.3-5.1-33.6-9z"/>
<path fill="#66ff9f" d="M58.9 434.1l19.6 7 25.3-5.2 14.5-3.4 12.9-3.3 12.6-3.7 11.4-3.7 10.9-4.1 9.8-4.2 9.3-4.4 9.3-5-32.7-8.8z"/>
<path fill="#63ff8e" d="M58.9 434.1l18.7 6.7 26.7-5.6 13.7-3.2 13.4-3.5 11.9-3.5 11.4-3.8 10.3-3.8 9.9-4.2 9.7-4.6 9-4.8-31.8-8.5z"/>
<path fill="#5fff7c" d="M58.9 434.1l17.8 6.3 28-5.8 13.6-3.3 12.7-3.3 12.4-3.7 10.8-3.6 10.3-3.8 9.9-4.2 9.3-4.3 9.1-4.8-31-8.3z"/>
<path fill="#5bff6b" d="M58.9 434.1l16.9 6 29.4-6.2 13.5-3.3 12.6-3.3 11.6-3.5 10.8-3.6 10.3-3.8 9.8-4.1 9.3-4.4 8.8-4.5-30.1-8.1z"/>
<path fill="#57ff5a" d="M58.9 434.1l16 5.7 30.8-6.6 13.4-3.2 11.8-3.2 11.6-3.5 10.7-3.6 10.3-3.8 9.4-3.9 9.3-4.3 8.8-4.6-29.2-7.8z"/>
<path fill="#4fff44" d="M58.9 434.1l15.2 5.4 16.5-3.4 15.6-3.5 25-6.5 11.5-3.5 10.6-3.5 9.7-3.7 9.4-3.9 8.9-4.1 8.9-4.5-28.4-7.6z"/>
<path fill="#47ff2f" d="M58.9 434.1l14.3 5.1 18.1-3.7 16.1-3.7 24.1-6.4 10.8-3.3 10.5-3.5 9.8-3.6 9.3-3.9 9-4.1 8.5-4.3-27.6-7.4z"/>
<path fill="#42ff24" d="M58.9 434.1l13.5 4.8 18.8-3.9 16.7-3.9 23.8-6.3 10.8-3.3 9.9-3.4 9.7-3.6 9.4-3.9 8.5-3.8 8.6-4.3-26.8-7.2z"/>
<path fill="#3dff1a" d="M58.9 434.1l12.7 4.5 19.5-4.1 17.3-4 23.6-6.4 20-6.5 9.7-3.6 8.9-3.6 8.6-3.9 8.6-4.2-26-7z"/>
<path fill="#38ff12" d="M58.9 434.1l11.9 4.2 20.1-4.2 18-4.3 22.8-6.2 20-6.4 9.6-3.6 8.9-3.6 8.6-3.9 8.2-4-25.2-6.8z"/>
<path fill="#39ff0f" d="M58.9 434.1l11.1 4 21.6-4.6 18.5-4.5 22-6 19.7-6.5 18-7 8.2-3.6 8.2-4.1-24.4-6.5z"/>
<path fill="#40ff10" d="M58.9 434.1l10.3 3.7 21.6-4.6 19.8-4.8 21.8-6 19.1-6.3 17.5-6.8 16.5-7.7-23.7-6.3z"/>
<path fill="#46ff12" d="M58.9 434.1l9.6 3.4 22.9-4.9 20.4-5 20.9-5.9 19-6.2 16.9-6.6 16.1-7.5-22.9-6.1z"/>
<path fill="#50ff15" d="M58.9 434.1l8.8 3.1 23.7-5.1 20.9-5.1 20.7-5.9 18.3-6.1 16.9-6.6 15.8-7.2-22.2-5.9z"/>
<path fill="#5bff18" d="M58.9 434.1l8.1 2.9 24.3-5.3 22.2-5.5 19.9-5.7 17.6-5.9 16.9-6.6 15.4-7-21.5-5.7z"/>
<path fill="#67ff1b" d="M58.9 434.1l7.3 2.6 25-5.5 22.8-5.6 19.7-5.7 17.6-5.9 16.3-6.4 15-6.8-20.8-5.5z"/>
<path fill="#74ff1f" d="M58.9 434.1l6.6 2.4 26.4-5.9 23.2-5.8 18.4-5.4 17.5-5.8 15.8-6.2 15-6.7-20-5.4z"/>
<path fill="#81ff22" d="M58.9 434.1l5.9 2.1 27.1-6 23.7-6 18.3-5.4 16.8-5.6 15.8-6.2 14.6-6.5-19.3-5.2z"/>
<path fill="#8dff25" d="M58.9 434.1l5.2 1.9 27.7-6.2 24.9-6.4 18.1-5.4 16.1-5.4 15.3-6 14.2-6.3-18.6-5z"/>
<path fill="#9aff28" d="M58.9 434.1l4.5 1.6 29.1-6.5 25.3-6.6 17.3-5.2 16.1-5.4 14.7-5.8 13.9-6.1-18-4.8z"/>
<path fill="#a6ff2c" d="M58.9 434.1l3.8 1.4 29.8-6.7 26.5-6.9 16.5-5.1 15.5-5.2 14.2-5.6 13.9-6.1-17.3-4.6z"/>
<path fill="#b2ff2e" d="M58.9 434.1l3.1 1.1 3.9-0.8 29.3-6.7 24.9-6.6 16.3-5 14.8-5.1 14.2-5.5 13-5.8-16.6-4.4z"/>
<path fill="#bcff31" d="M58.9 434.1l2.5 0.9 11.4-2.5 25.1-5.9 22.6-6.1 15.7-4.8 14.8-5.1 13.7-5.3 13.1-5.7-16-4.3z"/>
<path fill="#c4ff33" d="M58.9 434.1l1.8 0.6 18.9-4.1 22.3-5.4 19.7-5.5 15.6-4.8 14.1-4.9 13.2-5.1 12.6-5.5-15.3-4.1z"/>
<path fill="#ccff35" d="M58.9 434.1l1.1 0.4 25.4-5.7 19.8-4.9 17.5-4.9 14.8-4.7 13.6-4.7 13.1-5.1 12.3-5.3-14.7-3.9z"/>
<path fill="#d4ff37" d="M58.9 434.1l0.5 0.2 6.1-1.3 24.8-5.7 17.4-4.5 16.1-4.6 14.1-4.4 13.4-4.7 12.7-5 11.8-5.1-14-3.7z"/>
<path fill="#dcff39" d="M59.5 433.9l18-4 16.9-4.1 15.8-4.1 14.6-4.2 13.5-4.3 12.9-4.5 12.1-4.7 11.9-5.1-13.4-3.6z"/>
<path fill="#e5ff3b" d="M61.9 433l-0.3 0.1 32.8-7.7 15.8-4.1 14.5-4.2 13.4-4.3 12.9-4.5 12.1-4.7 11.5-4.9-12.8-3.4z"/>
<path fill="#edff3d" d="M64.2 432.1l-0.4 0.1 32-7.5 14.9-4 14.5-4.2 13.3-4.3 12.3-4.3 11.7-4.5 11.4-4.9-12.1-3.2z"/>
<path fill="#f4ff3f" d="M66.6 431.2l-0.5 0.2 31-7.4 14.8-4 13.8-4 12.7-4.1 12.2-4.3 11.7-4.6 11-4.6-11.5-3.1z"/>
<path fill="#f8fb3f" d="M68.9 430.3l-0.5 0.2 30.1-7.3 14.6-3.9 13-3.9 12.7-4.1 11.6-4.1 11.2-4.3 11.1-4.7-10.9-2.9z"/>
<path fill="#f8f33e" d="M71.3 429.4l-0.5 0.2 29-7.1 13.9-3.8 12.9-3.9 12-3.9 11.7-4.1 11.2-4.3 10.6-4.5-10.3-2.7z"/>
<path fill="#f7e73d" d="M73.6 428.5l-0.4 0.2 27.9-6.9 26-7.5 11.9-3.9 11.1-3.9 10.7-4.2 10.7-4.4-9.7-2.6z"/>
<path fill="#f5d93a" d="M75.9 427.7l-0.2 0.1 27.3-6.9 25.1-7.3 22.4-7.7 10.2-3.9 10.2-4.3-9.1-2.4z"/>
<path fill="#f4cb37" d="M78.7 426.6l-0.5 0.2 26.7-6.8 23.7-7 21.7-7.4 20-8-8.5-2.3z"/>
<path fill="#f3bd33" d="M81 425.7l-0.2 0.1 25.3-6.5 23-6.8 21.1-7.3 19.6-7.8-8-2.1z"/>
<path fill="#f3ae30" d="M83.8 424.7l-0.3 0.1 23.9-6.2 22.7-6.8 20.4-7.1 18.7-7.5-7.4-1.9z"/>
<path fill="#f4a02c" d="M86.6 423.6l-0.4 0.2 23.6-6.3 20.8-6.3 19.8-6.9 18.2-7.2-6.8-1.8z"/>
<path fill="#f59229" d="M89.4 422.6l-0.4 0.1 22-5.9 20.6-6.3 18.7-6.5 17.7-7.1-6.2-1.6z"/>
<path fill="#f78526" d="M92.1 421.6l-0.2 0 20.9-5.7 19.8-6.1 18-6.3 16.9-6.7-5.7-1.5z"/>
<path fill="#f77722" d="M95.4 420.3l-0.5 0.2 20.3-5.6 18.4-5.8 16.9-6 16.4-6.5-5.1-1.3z"/>
<path fill="#f86a1f" d="M98.6 419.1l-0.5 0.2 18.8-5.3 17.6-5.6 16.4-5.8 15.5-6.1-4.6-1.2z"/>
<path fill="#f85d1b" d="M101.8 417.9l-0.4 0.2 17.8-5.2 16.3-5.2 15.8-5.6 14.5-5.8-4-1z"/>
<path fill="#fa4f18" d="M105 416.7l16.4-4.8 15.6-5.1 14.6-5.2 13.7-5.4-3.5-0.9z"/>
<path fill="#fe4216" d="M108.6 415.3l15-4.5 14.4-4.6 13.5-4.9 13.2-5.2-2.9-0.8z"/>
<path fill="#ff3413" d="M112.8 413.8l-0.3 0.1 13.8-4.3 13.1-4.3 12.5-4.5 12.3-4.9-2.4-0.6z"/>
<path fill="#ff2510" d="M116.9 412.2l24.4-7.9 11.4-4.2 11-4.3-1.9-0.5z"/>
<path fill="#ff2210" d="M121.9 410.3l-0.2 0.1 21.5-7.2 20-7.6-1.4-0.3z"/>
<path fill="#ff2110" d="M127.8 408.1l-0.4 0.2 18.2-6.3 17-6.5-0.8-0.2z"/>
<path fill="#ff2010" d="M134.6 405.5l14.2-5 13.3-5.2-0.3 0z"/>
<path d="M86.2 443.8L188.3 402.4M115.6 454.3L216.4 410M147.3 465.6L246.4 418M114.3 413.2L234.2 450" fill="none" stroke="#d8d8d8" stroke-opacity="0.45" stroke-width="0.6"/>
<path fill="none" stroke="#222" stroke-width="1" stroke-dasharray="1 1.9" d="M107.4 451.4l27.6-2.8 18.1-1.3 7-0.2 5.2 0 3.6 0.4 2.9 0.6 2.1 1.1 0.7 0.7 0.5 0.8 0.2 0.9 0.1 1-0.6 2.4-1.1 2.7-2.1 3.8-2.8 4.2-4.3 6M272.9 429.5l-23.6 2.3-16.5 1.1-5.4 0.1-4.9-0.1-3.4-0.3-2.8-0.6-2-1-0.7-0.6-0.5-0.8-0.4-1.7 0.3-2 1-2.7 1.5-3 2.7-4.3 3.2-4.6M94 446.6l23.4-3.9 19.2-3.8 15.8-3.7 7.3-2.1 6.7-2.1 6.2-2.2 5.7-2.2 5.7-2.6 5.2-2.7 5.1-2.9 5-3.1 4.9-3.4 5.1-3.8M249.7 441.8l-10.8 2.9-10 3.2-8.7 3.4-8.5 4-7.9 4.4-7.8 5.1-7.8 5.9-7.9 6.7M84.5 443.2l21.2-4.1 18.2-4 15.8-4 14.3-4.3 12.7-4.4 6-2.5 6-2.6 10.8-5.4 5.2-2.9 5.6-3.4M76.7 440.4l19.8-4 17.6-4.1 16.3-4.2 14.2-4.2 13.3-4.5 12.4-4.9 11.3-5.1 11.2-5.8M70 438.1l19.4-4.1 17.3-4.1 15.4-4 14.7-4.4 13.4-4.4 12.7-4.7 12.1-5.2 11.2-5.4M64.1 436l18.3-4 17.8-4.3 15.3-4 14.7-4.2 14-4.6 12.7-4.6 12-4.8 11.5-5.2M59.3 433.9l18.2-4 16.9-4.1 15.8-4.1 14.6-4.2 13.5-4.3 12.9-4.5 12.1-4.7 11.9-5.1M78.2 426.8l13.7-3.4 13-3.4 12.2-3.5 11.5-3.5 11.2-3.7 10.5-3.7 10.2-4 9.8-4M101.4 418.1l17.8-5.2 16.3-5.2 15.8-5.6 14.5-5.8"/>
<path fill="#1f02ff" d="M55 340.3l5.5 17.5 5.6 16.2 5.5 15.2 5.5 14.1 5.4 13 5.5 12 5.5 10.8 5 9.1 26.9-4.1 19.8-3.6 15.6-3.5 12.8-3.7 10.7-4.2 5-2.5 4.9-2.8 9.3-6.4 9.9-8.2-6.6-12-6.6-13.7-6.1-14.1-6.6-16.9-6.5-18.8-6.5-20.4-6.5-22.3-6.5-24.1-6.6 0.4-6.2 0.9-6.3 1.5-6.4 2.1-6.6 2.7-6.7 3.3-6.8 3.9-6.4 4.1-7 5.2-6.6 5.3-6.7 6-6.8 6.5-6.8 7.2-7 7.7-7.1 8.4zM174.9 475.4l8.9-8.8 6.3-5.4 6.7-5.3 5.5-3.9 5.9-3.8 5.3-3 5.7-2.8 5-2.2 5.5-1.9 5.3-1.4 5.2-1 5.1-0.6 4.9-0.2 5.3 0.3 4.9 0.7-16.5 3.2-13.5 3.3-10.8 3.3-9.6 3.9-8.5 4.4-8.4 5.6-8.5 6.8z"/>
<path fill="#1f02ff" d="M55 340.3l5.5 17.5 5.6 16.2 5.5 15.2 4.9 12.6 5.4 13.1 4.9 10.8 4.8 9.9 5.4 10.1 24.9-3.9 20.4-3.8 15.5-3.5 13.4-3.9 11.3-4.3 10.1-5.2 9.3-6 10.3-8.1-6.5-11.9-6.7-14-6-14.4-6.5-17.2-6-17.4-6.5-20.6-6.5-22.4-6-22.2-6.6 0.4-6.2 0.9-6.3 1.5-6.4 2.1-6.6 2.7-6.7 3.3-6.8 3.9-6.4 4.1-7 5.2-6.6 5.3-6.7 6-6.8 6.5-6.8 7.2-7 7.7-7.1 8.4zM177 473.5l-0.4 0.3 4.9-5.1 3.5-3.1 6.2-5.3 6.2-4.8 5.4-3.8 5.4-3.5 5.3-3 5.1-2.6 5.1-2.2 5-1.8 4.8-1.4 5.3-1.1 4.6-0.7 5.1-0.3 4.4 0.1 4.7 0.5-14.3 3-12.8 3.4-10.5 3.5-8.9 3.7-8.5 4.5-8.1 5.2-8.4 6.4z"/>
<path fill="#2004ff" d="M55 340.3l10.5 32 9.8 26.4 5.4 13.4 4.9 11 4.8 10.1 5.1 9.7 24.5-3.9 19.4-3.7 16.1-3.7 13.9-4.1 11.3-4.2 10.2-5 9.6-5.9 10.4-7.7-6.3-11.8-6.1-13.1-6-14.4-6.6-17.5-6-17.4-6.5-20.8-5.9-20.6-6-22.2-6.6 0.4-6.2 0.9-6.3 1.5-6.4 2.1-6.6 2.7-6.7 3.3-6.8 3.9-6.4 4.1-7 5.2-6.6 5.3-6.7 6-6.8 6.5-6.8 7.2-7 7.7-7.1 8.4zM178.4 472l3.1-3.3 4.6-4.1 11.3-9.1 9.7-6.6 10-5.5 9.6-4.1 4.4-1.4 4.8-1.2 4.8-0.9 4.6-0.5 4.5-0.2 4.4 0.2-12.5 3-11.1 3.1-10.2 3.6-8.7 3.8-8 4.3-8.2 5.2-8.1 6.1z"/>
<path fill="#2c14f9" d="M55 340.3l9.9 30.2 9.7 26.7 4.9 12 4.9 11.2 4.8 10.4 4.8 9.4 24.3-4 19.2-3.7 16.5-3.9 13.2-3.8 11.9-4.4 10.8-5.2 10-5.9 9.7-6.9-6.1-11.8-6.1-13.3-6-14.7-6-16.2-6-17.6-6-19.1-5.9-20.6-6-22.2-6.6 0.4-6.2 0.9-6.3 1.5-6.4 2.1-6.6 2.7-6.7 3.3-6.8 3.9-6.4 4.1-7 5.2-6.6 5.3-6.7 6-6.8 6.5-6.8 7.2-7 7.7-7.1 8.4zM180.5 469.8l-0.4 0.4 1.4-1.5 6.9-6.1 10.1-7.9 9.2-6.1 8.9-5 8.6-3.7 8.8-2.8 8.5-1.6 7.9-0.4-10.8 2.9-10.2 3.1-9.3 3.6-8.1 3.6-7.9 4.3-7.8 5-7.8 5.7z"/>
<path fill="#3b30f2" d="M55 340.3l9.9 30.2 9.1 25.1 9.2 22.1 4.8 10.6 4.6 9.2 23.2-3.9 19.8-3.9 15.8-3.6 13.8-4.1 11.9-4.3 11-5 10-5.6 10.2-7-5.9-11.8-6.1-13.6-5.5-13.5-6-16.3-6-17.8-5.9-19.2-6-20.8-5.4-20.2-6.6 0.4-6.2 0.9-6.3 1.5-6.4 2.1-6.6 2.7-6.7 3.3-6.8 3.9-6.4 4.1-7 5.2-6.6 5.3-6.7 6-6.8 6.5-6.8 7.2-7 7.7-7.1 8.4zM183.1 467.3l-0.5 0.3 8.6-7.3 8.4-6.4 8.1-5.3 7.9-4.5 7.6-3.5 7.9-2.7 7.7-1.8 7.2-0.9-10 3-8.4 2.9-7.9 3.2-7.4 3.5-7.4 4-7 4.4-7.1 5z"/>
<path fill="#3e42f2" d="M55 340.3l9.2 28.4 9.2 25.3 9.1 22.3 8.7 18.5 22.2-3.8 19-3.7 16.4-3.8 14-4 12-4.2 11.2-4.9 11-6 10.1-6.6-5.8-11.9-5.6-12.5-5.4-13.7-6-16.4-5.5-16.2-5.9-19.2-6-20.8-5.4-20.2-6.6 0.4-6.2 0.9-6.3 1.5-6.4 2.1-6.6 2.7-6.7 3.3-6.8 3.9-6.4 4.1-7 5.2-6.6 5.3-6.7 6-6.8 6.5-6.8 7.2-7 7.7-7.1 8.4zM189.5 461.7l6.8-5.4 6.5-4.6 6.5-4.1 6.3-3.5 6.1-2.8 6.5-2.5 6.3-1.8 6-1.2-14.1 5-6.7 2.8-6.3 3-6 3.2-5.7 3.5-6 3.9z"/>
<path fill="#4051f2" d="M55 340.3l9.2 28.4 8.6 23.8 8.5 21 8.6 18.6 22.9-3.9 18.7-3.7 15.6-3.7 13.9-3.9 12.6-4.4 11.3-4.8 10.7-5.7 10.3-6.4-5.7-12.1-5.6-12.7-5.4-13.9-5.5-15.2-5.4-16.3-6-19.3-5.4-19-5.4-20.2-6.6 0.4-6.2 0.9-6.3 1.5-6.4 2.1-6.6 2.7-6.7 3.3-6.8 3.9-6.4 4.1-7 5.2-6.6 5.3-6.7 6-6.8 6.5-6.8 7.2-7 7.7-7.1 8.4zM198.4 454.7l-0.2 0.2 8.9-6 9-5 8.6-3.8 8.3-2.7-9.6 3.8-8.5 3.9-8.5 4.7z"/>
<path fill="#405ff4" d="M55 340.3l8.6 26.6 8.6 23.9 8.5 21.3 7.9 17.4 21.9-3.8 19.4-3.9 16.9-4 13.1-3.7 12.6-4.4 11.3-4.7 10.8-5.5 10.2-6.2-5.2-11-5.5-12.9-5.5-14-5.4-15.2-5.4-16.5-5.5-17.6-5.4-19-5.4-20.2-6.6 0.4-6.2 0.9-6.3 1.5-6.4 2.1-6.6 2.7-6.7 3.3-6.8 3.9-6.4 4.1-7 5.2-6.6 5.3-6.7 6-6.8 6.5-6.8 7.2-7 7.7-7.1 8.4z"/>
<path fill="#406ef8" d="M55 340.3l8.6 26.6 8 22.3 7.9 20 7.8 17.6 22.6-3.9 17.8-3.5 16.8-4 13.8-3.9 12.7-4.3 11.4-4.7 10.9-5.4 10.4-6-5.2-11.3-5.5-13.1-4.9-12.8-5.5-15.3-5.4-16.6-5.4-17.8-5.4-19-4.9-18.3-6.6 0.4-6.2 0.9-6.3 1.5-6.4 2.1-6.6 2.7-6.7 3.3-6.8 3.9-6.4 4.1-7 5.2-6.6 5.3-6.7 6-6.8 6.5-6.8 7.2-7 7.7-7.1 8.4z"/>
<path fill="#467ffa" d="M55 340.3l8 24.8 7.4 20.8 7.9 20.4 7.8 17.9 20.9-3.6 19.2-3.9 15.5-3.6 14.5-4 12.8-4.2 12-4.8 11.1-5.3 10.5-6-5.2-11.5-4.9-11.9-5-12.9-5.4-15.5-4.9-15-5.4-17.8-5.4-19-4.9-18.3-6.6 0.4-6.2 0.9-6.3 1.5-6.4 2.1-6.6 2.7-6.7 3.3-6.8 3.9-6.4 4.1-7 5.2-6.6 5.3-6.7 6-6.8 6.5-6.8 7.2-7 7.7-7.1 8.4z"/>
<path fill="#488ffa" d="M55 340.3l7.4 23 7.4 21 7.3 19 7.8 18.3 21.6-3.8 19.1-3.8 16-3.8 13.7-3.8 12.8-4.2 11.6-4.5 10.8-5.1 11.1-6-5.3-11.9-4.9-12.1-4.9-13.1-4.9-14.1-4.9-15.1-5.4-17.9-9.8-35.5-6.6 0.4-6.2 0.9-6.3 1.5-6.4 2.1-6.6 2.7-6.7 3.3-6.8 3.9-6.4 4.1-7 5.2-6.6 5.3-6.7 6-6.8 6.5-6.8 7.2-7 7.7-7.1 8.4z"/>
<path fill="#4f9fff" d="M55 340.3l7.4 23 7.4 21 6.7 17.5 7.2 17.2 21.5-3.8 17.6-3.5 16.1-3.7 14.4-3.9 13.4-4.3 11.7-4.5 10.9-5 11.2-5.9-4.8-11-4.9-12.2-4.9-13.3-4.9-14.2-4.9-15.1-4.8-16.2-9.8-35.5-6.6 0.4-6.2 0.9-6.3 1.5-6.4 2.1-6.6 2.7-6.7 3.3-6.8 3.9-6.4 4.1-7 5.2-6.6 5.3-6.7 6-6.8 6.5-6.8 7.2-7 7.7-7.1 8.4z"/>
<path fill="#55aeff" d="M55 340.3l7.4 23 6.7 19.3 6.8 17.7 6.7 16.1 21.3-3.8 18.3-3.6 16-3.7 14.4-3.9 12.8-4.1 12.2-4.6 11-4.9 10.9-5.7-4.9-11.3-4.9-12.5-4.3-11.9-4.9-14.3-4.9-15.3-4.9-16.3-9.2-33.6-6.6 0.4-6.2 0.9-6.3 1.5-6.4 2.1-6.6 2.7-6.7 3.3-6.8 3.9-6.4 4.1-7 5.2-6.6 5.3-6.7 6-6.8 6.5-6.8 7.2-7 7.7-7.1 8.4z"/>
<path fill="#5dc3ff" d="M55 340.3l6.8 21.2 6.7 19.4 6.8 17.8 6.2 15.1 21.2-3.7 18.2-3.7 16-3.6 14.4-3.9 12.8-4 12.3-4.5 11.1-4.9 11.1-5.6-4.5-10.5-4.9-12.5-9.3-26.4-9.2-30-9.2-33.6-6.6 0.4-6.2 0.9-6.3 1.5-6.4 2.1-6.6 2.7-6.7 3.3-6.8 3.9-6.4 4.1-7 5.2-6.6 5.3-6.7 6-6.8 6.5-6.8 7.2-7 7.7-7.1 8.4z"/>
<path fill="#65d6ff" d="M55 340.3l6.8 21.2 6.1 17.7 6.1 16.4 6.4 15.7 21.2-3.8 18.1-3.6 16.5-3.8 13.8-3.6 12.9-4 12.3-4.5 11.2-4.8 11.2-5.5-4.6-11-4.4-11.3-9.2-26.6-9.2-30.2-8.7-31.7-6.6 0.4-6.2 0.9-6.3 1.5-6.4 2.1-6.6 2.7-6.7 3.3-6.8 3.9-6.4 4.1-7 5.2-6.6 5.3-6.7 6-6.8 6.5-6.8 7.2-7 7.7-7.1 8.4z"/>
<path fill="#6de6ff" d="M55 340.3l6.2 19.3 6.1 17.9 6.1 16.5 5.9 14.7 21.1-3.7 18.1-3.6 16.5-3.8 13.8-3.6 13.4-4.1 11.8-4.2 11.3-4.7 11.3-5.5-4.7-11.5-4.4-11.5-8.7-25.4-8.6-28.5-8.7-31.7-6.6 0.4-6.2 0.9-6.3 1.5-6.4 2.1-6.6 2.7-6.7 3.3-6.8 3.9-6.4 4.1-7 5.2-6.6 5.3-6.7 6-6.8 6.5-6.8 7.2-7 7.7-7.1 8.4z"/>
<path fill="#74f2ff" d="M55 340.3l6.2 19.3 5.5 16.2 5.5 15 6 15.3 20.3-3.5 18.8-3.7 16.5-3.8 14.3-3.7 13.4-4.1 11.9-4.2 11.3-4.6 11-5.2-8.7-22.3-8.7-25.6-8.7-28.7-8.1-29.8-6.6 0.4-6.2 0.9-6.3 1.5-6.4 2.1-6.6 2.7-6.7 3.3-6.8 3.9-6.4 4.1-7 5.2-6.6 5.3-6.7 6-6.8 6.5-6.8 7.2-7 7.7-7.1 8.4z"/>
<path fill="#77fbff" d="M55 340.3l5.5 17.5 5.6 16.2 5.5 15.2 5.6 14.4 20.2-3.5 18.8-3.7 16.4-3.7 14.4-3.7 13.4-4.1 11.9-4.1 11.4-4.5 11.1-5.1-8.3-21.7-8.2-24.1-8.7-28.7-8.1-29.8-6.6 0.4-6.2 0.9-6.3 1.5-6.4 2.1-6.6 2.7-6.7 3.3-6.8 3.9-6.4 4.1-7 5.2-6.6 5.3-6.7 6-6.8 6.5-6.8 7.2-7 7.7-7.1 8.4z"/>
<path fill="#79fffd" d="M55 340.3l10.5 32 5.5 15.3 5.2 13.4 21.7-3.8 17.1-3.3 16.5-3.7 14.3-3.7 12.9-3.8 12.6-4.2 11.8-4.7 10.8-4.8-8-21.1-8.1-24.2-8.2-27-8.1-29.8-6.6 0.4-6.2 0.9-6.3 1.5-6.4 2.1-6.6 2.7-6.7 3.3-6.8 3.9-6.4 4.1-7 5.2-6.6 5.3-6.7 6-6.8 6.5-6.8 7.2-7 7.7-7.1 8.4z"/>
<path fill="#7afffb" d="M55 340.3l9.9 30.2 4.9 13.8 5.4 14.2 20.9-3.6 17.1-3.4 16.5-3.6 14.4-3.6 13.6-3.9 12.5-4.2 11.6-4.4 11.2-5-7.6-20.4-8.2-24.4-8.1-27.2-7.6-27.9-6.6 0.4-6.2 0.9-6.3 1.5-6.4 2.1-6.6 2.7-6.7 3.3-6.8 3.9-6.4 4.1-7 5.2-6.6 5.3-6.7 6-6.8 6.5-6.8 7.2-7 7.7-7.1 8.4z"/>
<path fill="#7afffa" d="M55 340.3l9.9 30.2 9.3 25.5 20-3.5 18-3.4 16.4-3.6 14.4-3.6 13.6-3.9 12.6-4.1 11.6-4.4 11.4-4.9-7.9-21.3-7.6-23-7.6-25.5-7.6-27.9-6.6 0.4-6.2 0.9-6.3 1.5-6.4 2.1-6.6 2.7-6.7 3.3-6.8 3.9-6.4 4.1-7 5.2-6.6 5.3-6.7 6-6.8 6.5-6.8 7.2-7 7.7-7.1 8.4z"/>
<path fill="#7afff8" d="M55 340.3l9.2 28.4 9 24.8 19.3-3.3 17.9-3.5 16.5-3.5 15.1-3.7 14.1-4 12.1-3.9 12.1-4.5 11-4.7-7.6-20.7-7.6-23.1-7.6-25.7-7-26-6.6 0.4-6.2 0.9-6.3 1.5-6.4 2.1-6.6 2.7-6.7 3.3-6.8 3.9-6.4 4.1-7 5.2-6.6 5.3-6.7 6-6.8 6.5-6.8 7.2-7 7.7-7.1 8.4z"/>
<path fill="#79fff3" d="M55 340.3l8.6 26.6 8.6 24 19.3-3.2 17.1-3.3 16.6-3.5 15.1-3.7 13.7-3.7 12.7-4.1 11.8-4.2 12-4.9-7.3-20.1-7.1-21.6-7.6-25.7-7-26-6.6 0.4-6.2 0.9-6.3 1.5-6.4 2.1-6.6 2.7-6.7 3.3-6.8 3.9-6.4 4.1-7 5.2-6.6 5.3-6.7 6-6.8 6.5-6.8 7.2-7 7.7-7.1 8.4z"/>
<path fill="#79ffed" d="M55 340.3l8 24.8 8.3 23.3 19.9-3.4 17.9-3.3 17.1-3.7 14.3-3.5 13.6-3.7 12.6-4 11.8-4.1 11.2-4.6-7.1-19.5-7-21.8-7.1-23.9-7-26-6.6 0.4-6.2 0.9-6.3 1.5-6.4 2.1-6.6 2.7-6.7 3.3-6.8 3.9-6.4 4.1-7 5.2-6.6 5.3-6.7 6-6.8 6.5-6.8 7.2-7 7.7-7.1 8.4z"/>
<path fill="#78ffe6" d="M55 340.3l8 24.8 7.4 20.8 19.1-3.2 17.9-3.3 17.1-3.7 14.4-3.4 13.7-3.7 12.7-3.9 12.3-4.3 11.2-4.4-6.7-19-7-22-7.1-24-6.5-24.1-6.6 0.4-6.2 0.9-6.3 1.5-6.4 2.1-6.6 2.7-6.7 3.3-6.8 3.9-6.4 4.1-7 5.2-6.6 5.3-6.7 6-6.8 6.5-6.8 7.2-7 7.7-7.1 8.4z"/>
<path fill="#74ffd8" d="M55 340.3l7.4 23 7 20.1 20.7-3.4 17.7-3.4 15.1-3.1 15-3.6 14.2-3.7 12.3-3.8 11.9-4 11.7-4.6-7-20.1-6.5-20.4-6.5-22.3-6.5-24.1-6.6 0.4-6.2 0.9-6.3 1.5-6.4 2.1-6.6 2.7-6.7 3.3-6.8 3.9-6.4 4.1-7 5.2-6.6 5.3-6.7 6-6.8 6.5-6.8 7.2-7 7.7-7.1 8.4z"/>
<path fill="#70ffca" d="M55 340.3l6.8 21.2 6.7 19.4 19.9-3.3 17-3.1 15.8-3.3 15.2-3.5 14.2-3.7 12.9-3.8 12.4-4.2 11.4-4.3-6.3-18-6.5-20.4-6.5-22.3-6.5-24.1-6.6 0.4-6.2 0.9-6.3 1.5-6.4 2.1-6.6 2.7-6.7 3.3-6.8 3.9-6.4 4.1-7 5.2-6.6 5.3-6.7 6-6.8 6.5-6.8 7.2-7 7.7-7.1 8.4z"/>
<path fill="#6dffbc" d="M55 340.3l6.2 19.3 6.4 18.8 18.3-3 18.6-3.4 16.4-3.3 15.1-3.5 13.7-3.5 12.9-3.8 12-4 11.9-4.4-6-17.4-6.5-20.6-6.5-22.4-6-22.2-6.6 0.4-6.2 0.9-6.3 1.5-6.4 2.1-6.6 2.7-6.7 3.3-6.8 3.9-6.4 4.1-7 5.2-6.6 5.3-6.7 6-6.8 6.5-6.8 7.2-7 7.7-7.1 8.4z"/>
<path fill="#6affaf" d="M55 340.3l6.2 19.3 5.6 16.4 19.7-3.3 17.8-3.2 15.7-3.2 15.1-3.4 13.7-3.5 12.9-3.8 12.5-4 11.5-4.2-6.3-18.6-6-19.1-5.9-20.6-6-22.2-6.6 0.4-6.2 0.9-6.3 1.5-6.4 2.1-6.6 2.7-6.7 3.3-6.8 3.9-6.4 4.1-7 5.2-6.6 5.3-6.7 6-6.8 6.5-6.8 7.2-7 7.7-7.1 8.4z"/>
<path fill="#66ff9f" d="M55 340.3l5.5 17.5 5.4 15.7 36.7-6.3 17.1-3.4 15-3.4 13.7-3.5 12.9-3.7 12.1-3.8 11.5-4.2-5.5-16.4-6-19.1-5.9-20.6-6-22.2-6.6 0.4-6.2 0.9-6.3 1.5-6.4 2.1-6.6 2.7-6.7 3.3-6.8 3.9-6.4 4.1-7 5.2-6.6 5.3-6.7 6-6.8 6.5-6.8 7.2-7 7.7-7.1 8.4z"/>
<path fill="#63ff8e" d="M55 340.3l10 30.7 19.8-3.2 17.6-3.2 15.7-3.1 15.1-3.3 14.4-3.6 12.4-3.5 12.6-3.9 11.6-4.1-5.9-17.7-5.4-17.5-6-20.8-5.4-20.2-6.6 0.4-6.2 0.9-6.3 1.5-6.4 2.1-6.6 2.7-6.7 3.3-6.8 3.9-6.4 4.1-7 5.2-6.6 5.3-6.7 6-6.8 6.5-6.8 7.2-7 7.7-7.1 8.4z"/>
<path fill="#5fff7c" d="M55 340.3l9.2 28.2 36.6-6.2 17.1-3.3 15-3.3 13.8-3.4 12.9-3.6 12.2-3.7 11.7-4.1-5.7-17.2-5.5-17.6-5.4-19-5.4-20.2-6.6 0.4-6.2 0.9-6.3 1.5-6.4 2.1-6.6 2.7-6.7 3.3-6.8 3.9-6.4 4.1-7 5.2-6.6 5.3-6.7 6-6.8 6.5-6.8 7.2-7 7.7-7.1 8.4z"/>
<path fill="#5bff6b" d="M55 340.3l8.3 25.7 37.4-6.2 15.7-3.1 15.1-3.2 14.3-3.5 13-3.5 12.2-3.7 11.7-4-4.9-15.1-5.5-17.6-5.4-19-5.4-20.2-6.6 0.4-6.2 0.9-6.3 1.5-6.4 2.1-6.6 2.7-6.7 3.3-6.8 3.9-6.4 4.1-7 5.2-6.6 5.3-6.7 6-6.8 6.5-6.8 7.2-7 7.7-7.1 8.4z"/>
<path fill="#57ff5a" d="M55 340.3l7.5 23.3 36.6-6.1 17-3.3 15.1-3.2 13.8-3.3 13-3.5 12.2-3.6 11.8-3.9-5.3-16.4-4.9-16.1-5.4-19-4.9-18.3-6.6 0.4-6.2 0.9-6.3 1.5-6.4 2.1-6.6 2.7-6.7 3.3-6.8 3.9-6.4 4.1-7 5.2-6.6 5.3-6.7 6-6.8 6.5-6.8 7.2-7 7.7-7.1 8.4z"/>
<path fill="#4fff44" d="M55 340.3l6.7 20.8 37.2-6.1 15.7-3 15.1-3.2 14.4-3.4 13.1-3.4 12.2-3.6 11.9-3.9-5.2-15.9-4.8-16.2-9.8-35.5-6.6 0.4-6.2 0.9-6.3 1.5-6.4 2.1-6.6 2.7-6.7 3.3-6.8 3.9-6.4 4.1-7 5.2-6.6 5.3-6.7 6-6.8 6.5-6.8 7.2-7 7.7-7.1 8.4z"/>
<path fill="#47ff2f" d="M55 340.3l5.8 18.3 38-6.1 16.3-3.1 14.4-3 13.8-3.2 13.1-3.4 12.3-3.6 11.9-3.8-9.3-30-9.8-35.5-6.6 0.4-6.2 0.9-6.3 1.5-6.4 2.1-6.6 2.7-6.7 3.3-6.8 3.9-6.4 4.1-7 5.2-6.6 5.3-6.7 6-6.8 6.5-6.8 7.2-7 7.7-7.1 8.4z"/>
<path fill="#42ff24" d="M55 340.3l5 15.9 36.5-5.9 15.8-2.9 15.8-3.2 14.4-3.3 13.1-3.4 12.3-3.5 12-3.7-9.2-29.8-9.2-33.6-6.6 0.4-6.2 0.9-6.3 1.5-6.4 2.1-6.6 2.7-6.7 3.3-6.8 3.9-6.4 4.1-7 5.2-6.6 5.3-6.7 6-6.8 6.5-6.8 7.2-7 7.7-7.1 8.4z"/>
<path fill="#3dff1a" d="M55 340.3l4.2 13.4 37.2-5.9 16.3-3 15.1-3.1 13.3-3 13.7-3.4 12.4-3.4 12-3.8-9-29.5-8.7-31.7-6.6 0.4-6.2 0.9-6.3 1.5-6.4 2.1-6.6 2.7-6.7 3.3-6.8 3.9-6.4 4.1-7 5.2-6.6 5.3-6.7 6-6.8 6.5-6.8 7.2-7 7.7-7.1 8.4z"/>
<path fill="#38ff12" d="M55 340.3l3.4 11 35.8-5.7 31.6-5.9 14.5-3.2 13.3-3.3 12.9-3.5 12-3.7-8.3-27.4-8.7-31.7-6.6 0.4-6.2 0.9-6.3 1.5-6.4 2.1-6.6 2.7-6.7 3.3-6.8 3.9-6.4 4.1-7 5.2-6.6 5.3-6.7 6-6.8 6.5-6.8 7.2-7 7.7-7.1 8.4z"/>
<path fill="#39ff0f" d="M55 340.3l2.6 8.5 37.2-5.8 30.8-5.8 14.5-3.1 13.2-3.2 12.4-3.4 12.1-3.6-8.2-27.2-8.1-29.8-6.6 0.4-6.2 0.9-6.3 1.5-6.4 2.1-6.6 2.7-6.7 3.3-6.8 3.9-6.4 4.1-7 5.2-6.6 5.3-6.7 6-6.8 6.5-6.8 7.2-7 7.7-7.1 8.4z"/>
<path fill="#40ff10" d="M55 340.3l1.9 6 15.7-2.3 31.1-5.1 27.1-5.2 24.2-5.7 22.1-6.2-8-27-7.6-27.9-6.6 0.4-6.2 0.9-6.3 1.5-6.4 2.1-6.6 2.7-6.7 3.3-6.8 3.9-6.4 4.1-7 5.2-6.6 5.3-6.7 6-6.8 6.5-6.8 7.2-7 7.7-7.1 8.4z"/>
<path fill="#46ff12" d="M55 340.3l1.1 3.6 21.8-3.2 19.5-3.2 21.7-3.9 21.1-4.5 19-4.6 17.3-4.9-7.4-24.8-7.6-27.9-6.6 0.4-6.2 0.9-6.3 1.5-6.4 2.1-6.6 2.7-6.7 3.3-6.8 3.9-6.4 4.1-7 5.2-6.6 5.3-6.7 6-6.8 6.5-6.8 7.2-7 7.7-7.1 8.4z"/>
<path fill="#50ff15" d="M55 340.3l0.3 1.1 4.8-0.6 29.4-4.5 25.7-4.5 16.9-3.3 15.4-3.5 14.7-3.7 13.6-3.8-7.3-24.6-7-26-6.6 0.4-6.2 0.9-6.3 1.5-6.4 2.1-6.6 2.7-6.7 3.3-6.8 3.9-6.4 4.1-7 5.2-6.6 5.3-6.7 6-6.8 6.5-6.8 7.2-7 7.7-7.1 8.4z"/>
<path fill="#5bff18" d="M56.8 338l-0.6 0.8 33.3-5 29.9-5.2 15.4-3.1 14-3.2 13.7-3.4 12.7-3.5-6.7-22.5-7-26-6.1 0.3-6.2 0.9-6.3 1.5-6.4 2-6.6 2.6-6.1 3-6.8 3.8-6.4 4.1-6.5 4.6-6.5 5.3-6.7 5.7-6.8 6.4-6.8 7-7 7.6-7 8.2z"/>
<path fill="#67ff1b" d="M58.5 335.8l-0.1 0.1 33.8-5 31.3-5.6 27.1-5.8 23.9-6.2-6.5-22.3-6.5-24.1-6.1 0.3-6.2 0.9-6.3 1.5-5.9 1.8-6.6 2.6-6.1 2.9-6.3 3.5-6.3 4-6.5 4.5-6.5 5.1-6.7 5.7-6.7 6.3-6.9 6.9-6.3 6.9-7 8z"/>
<path fill="#74ff1f" d="M60.9 332.8l-0.2 0.2 28.7-4.2 32.8-5.7 27.2-5.7 24.5-6.2-6.4-22.1-6-22.2-6.1 0.3-5.7 0.8-6.3 1.5-5.9 1.8-6.1 2.3-6.1 2.8-6.2 3.4-6.4 3.9-6.4 4.4-6.5 5-6.7 5.6-6.1 5.7-6.8 6.7-6.4 6.7z"/>
<path fill="#81ff22" d="M63.3 329.9l-0.2 0.3 26.2-3.9 32.7-5.6 26.7-5.5 24.5-6.1-5.7-20-6-22.2-6.1 0.3-5.7 0.8-5.8 1.3-5.9 1.8-6.1 2.3-6.1 2.8-6.2 3.3-5.8 3.5-6.4 4.3-6 4.5-6.6 5.5-6.1 5.5-6.3 6-6.3 6.5z"/>
<path fill="#8dff25" d="M65.7 327.1l-0.2 0.2 26.6-3.9 31-5.3 25.9-5.3 23.6-5.9-5.7-19.8-5.4-20.2-5.6 0.3-5.7 0.8-5.8 1.2-5.9 1.7-6.1 2.3-5.6 2.5-6.2 3.2-5.7 3.4-6.4 4.3-6 4.4-6 4.9-6.2 5.4-6.2 5.8-6.2 6.4z"/>
<path fill="#9aff28" d="M68 324.4l28.1-4.1 29.2-5.1 24.6-5 22.1-5.4-5.1-17.7-5.4-20.2-5.6 0.3-5.7 0.8-5.8 1.2-5.4 1.6-6.1 2.2-5.5 2.4-5.7 2.9-5.8 3.4-5.8 3.8-6 4.2-6 4.8-6.1 5.2-11.8 11.4z"/>
<path fill="#a6ff2c" d="M70.9 321.1l-0.5 0.5 27.7-4.1 24.2-4.1 25.4-5.1 23.7-5.6-9.9-35.8-5.6 0.3-5.2 0.7-5.4 1.1-5.4 1.5-5.4 1.9-5.6 2.3-5.7 2.8-5.7 3.2-5.8 3.7-5.9 4.1-11.6 9.3-11.8 11z"/>
<path fill="#b2ff2e" d="M73.2 318.5l-0.2 0.3 19.6-2.9 31.3-5.2 24.6-4.9 22.2-5.2-9.2-33.7-5.1 0.3-5.3 0.6-5.3 1-5.4 1.5-5.4 1.9-5.6 2.3-5.6 2.7-5.3 2.9-5.8 3.6-5.3 3.6-11.5 9-11.2 10.3z"/>
<path fill="#bcff31" d="M76.1 315.3l-0.5 0.6 23.7-3.5 23.9-4 24.6-4.8 22.3-5.1-8.6-31.6-5.1 0.3-5.3 0.6-5.3 1-4.9 1.4-5.4 1.8-5.1 2-10.3 5.2-5.8 3.5-5.3 3.5-10.9 8.3-11.1 9.9z"/>
<path fill="#c4ff33" d="M78.4 312.9l-0.1 0.1 23.6-3.4 25.8-4.4 22-4.3 19.8-4.5-8-29.5-5.1 0.3-4.8 0.5-5.3 1-4.9 1.3-4.9 1.6-5.1 2-10.2 5-10.6 6.5-10.8 8-10.6 9.2z"/>
<path fill="#ccff35" d="M81.3 310l-0.2 0.2 18.1-2.7 26.7-4.3 22.6-4.4 20.4-4.5-7.4-27.4-5.1 0.3-4.8 0.5-4.8 0.9-4.9 1.3-4.9 1.5-5.1 2-9.7 4.6-10 6-10.2 7.4-10.5 8.8z"/>
<path fill="#d4ff37" d="M84.1 307.1l-0.2 0.2 18.6-2.7 26.2-4.3 20.7-4 18.9-4.2-6.8-25.2-4.7 0.2-4.7 0.6-9.2 1.9-9.4 3.2-9.7 4.4-10 5.8-9.7 6.7-9.9 8.1z"/>
<path fill="#dcff39" d="M87 304.4l20.6-3 22.6-3.8 19.5-3.7 18-3.9-6.2-23.1-8.9 0.7-9.2 1.9-8.9 2.9-9.2 4-9.4 5.3-9.6 6.4-9.8 7.8z"/>
<path fill="#e5ff3b" d="M90.3 301.3l-0.3 0.3 20-3 19-3.1 20.1-3.7 18-3.9-5.6-21-8.5 0.6-8.6 1.7-8.9 2.8-8.7 3.7-8.8 4.7-9 5.8-9.2 6.9z"/>
<path fill="#edff3d" d="M93.7 298.3l-0.5 0.4 34-5.3 20.3-3.6 19.1-4-5.1-18.9-8 0.6-8.2 1.5-8.3 2.4-8.6 3.5-8.8 4.6-8.5 5.2-8.6 6.3z"/>
<path fill="#f4ff3f" d="M97 295.4l-0.4 0.4 33.3-5.2 18.4-3.3 17.7-3.6-4.5-16.8-8 0.6-7.7 1.3-7.8 2.3-8.1 3.1-8.2 4.1-7.9 4.7-8.6 5.9z"/>
<path fill="#f8fb3f" d="M100.3 292.7l-0.2 0.2 33-5.2 16.6-2.9 15.7-3.2-3.9-14.7-7.5 0.5-7.2 1.2-7.8 2.2-7.6 2.8-7.6 3.6-7.9 4.5-8 5.3z"/>
<path fill="#f8f33e" d="M104.1 289.7l-0.2 0.2 29.7-4.6 16-2.8 15.2-3-3.3-12.6-7 0.4-6.7 1.1-7.4 1.9-6.9 2.5-7.2 3.1-7.2 3.9-7.4 4.6z"/>
<path fill="#f7e73d" d="M108.5 286.6l-0.6 0.4 29.4-4.6 27-5-2.8-10.5-6.6 0.4-6.2 0.9-6.8 1.7-6.4 2.1-6.6 2.7-6.7 3.3-6.8 4z"/>
<path fill="#f5d93a" d="M112.7 283.7l-0.4 0.3 27.5-4.3 23.9-4.4-2.2-8.4-5.6 0.3-5.2 0.7-9.3 2.1-9.5 3.4-9.7 4.6z"/>
<path fill="#f4cb37" d="M117.5 280.7l-0.3 0.2 24-3.8 21.9-3.9-1.6-6.3-5.6 0.3-5.2 0.7-8.3 1.8-7.9 2.7-8.7 3.8z"/>
<path fill="#f3bd33" d="M123.2 277.5l-0.4 0.2 20.9-3.3 18.9-3.3-1.1-4.2-5.1 0.3-5.3 0.6-6.7 1.4-6.9 2.1-7.1 2.7z"/>
<path fill="#f3ae30" d="M129.9 274.2l-0.3 0.2 32.4-5.5-0.5-2-5.6 0.3-5.2 0.7-5.4 1.1-4.9 1.3-5.4 1.9z"/>
<path fill="#f4a02c" d="M139.9 270.5l-0.2 0 21.4-3.6-5.2 0.3-5.2 0.7-5.4 1.1z"/>
<path fill="none" stroke="#111" stroke-opacity="0.82" stroke-width="1.15" stroke-dasharray="1.15 2.05" d="M88.6 429.5l21.9-3.8 19.4-3.9 16.9-4 13.1-3.7 6.8-2.2 5.8-2.2 5.9-2.3 5.4-2.4 5.4-2.7 5.4-2.8 5-2.9 5.2-3.3M79.3 408.7l21.1-3.7 18.1-3.6 16.5-3.8 13.8-3.6 13.4-4.1 11.8-4.2 11.3-4.7 11.3-5.5M71.3 388.4l19.9-3.4 17.9-3.3 17.1-3.7 14.3-3.5 13.6-3.7 12.6-4 11.8-4.1 11.2-4.6M64.2 368.5l18.1-2.9 18.5-3.3 17.1-3.3 15-3.3 13.8-3.4 12.9-3.6 12.2-3.7 11.7-4.1M57.6 348.8l20.4-3 16.8-2.8 15.7-2.8 15.1-3 14.5-3.1 13.2-3.2 12.4-3.4 12.1-3.6M65.5 327.3l32.7-4.9 27.3-4.8 13-2.6 11.5-2.5 11.6-2.7 11-2.9M86.9 304.4l23.2-3.4 20.7-3.5 19.4-3.7 17.5-3.8M117.2 280.9l24-3.8 21.9-3.9"/>
<path fill="#1f02ff" d="M175.8 474.6l5.7-5.9 2.9-2.6 6.3-5.4 6.4-5 5.7-4 5.7-3.6 5.5-3.1 5.7-2.8 5.3-2.2 5.4-1.9 5.1-1.3 5.2-1 5-0.5 5-0.2 4.8 0.3 4.9 0.7-15.6 3-13 3.1-11 3.3-9 3.5-8.6 4.4-8.8 5.7-8.9 6.9z"/>
<path fill="#1f02ff" d="M176.8 473.7l-0.2 0.1 4.9-5.1 3.2-2.9 6-5.1 6.1-4.8 5.5-3.9 5.4-3.4 5.3-3.1 5.4-2.7 5.1-2.3 5.2-1.9 4.8-1.4 5-1.1 4.9-0.7 4.8-0.3 4.7 0.1 4.7 0.5-14.7 3.1-12.2 3.2-10.4 3.4-9.2 3.9-8.2 4.3-8.5 5.5-8.9 6.9z"/>
<path fill="#2004ff" d="M178.4 472l3.1-3.3 4.3-3.9 5.7-4.8 5.9-4.5 10-6.8 10-5.5 9.5-4 4.7-1.4 4.6-1.2 4.5-0.8 4.6-0.5 4.5-0.2 4.4 0.2-12.9 3-11 3.2-9.9 3.5-8.7 3.8-8.2 4.4-8.2 5.3-8.1 6.1z"/>
<path fill="#2c14f9" d="M180.3 470l-0.2 0.2 1.4-1.5 6.3-5.6 10.1-8 9.2-6.2 9.2-5.1 8.9-3.9 8.6-2.7 8.5-1.6 8.1-0.5-11 2.9-10 3.1-9 3.4-8.4 3.8-7.9 4.3-7.8 5-7.8 5.7z"/>
<path fill="#3b30f2" d="M182.9 467.4l-0.3 0.2 8.3-7.1 8.4-6.4 8.1-5.4 7.9-4.4 7.9-3.7 7.7-2.6 7.6-1.9 7.5-0.9-9.7 2.9-8.7 3-7.9 3.2-7.7 3.6-7.1 3.9-7.3 4.5-7.3 5.2z"/>
<path fill="#3e42f2" d="M189.5 461.7l6.5-5.2 6.6-4.7 6.4-4 6.6-3.7 6.3-2.9 6.3-2.4 6.3-1.8 6-1.2-14.2 5-6.6 2.8-6.3 3-6 3.2-6 3.6-5.9 3.9z"/>
<path fill="#4051f2" d="M198.4 454.7l-0.2 0.2 8.9-6 9-5 8.6-3.8 8.3-2.7-9.1 3.5-8.8 4.1-8.4 4.6z"/>
<path fill="none" stroke="#fff" stroke-opacity="0.09" stroke-width="0.6" d="M84.9 413.4l8.3 17.8 8.3 15.4M88 412.3l4.5 9.9 4.6 9.2 4.5 8.5 3.8 6.5M91.1 411.2l4.5 9.8 4.5 9.2 4.6 8.3 4.5 7.7M94.1 410.2l5.3 11.3 4.5 8.9 4.6 8.1 4.5 7.5M97.9 410.9l4.6 9.5 4.5 8.8 4.5 8.1 4.5 7.3M101 410l5.2 10.9 4.6 8.6 4.5 7.8 4.5 7.2M104 409.1l5.3 10.9 4.5 8.4 5.3 9 4.5 6.9M107 408.3l5.3 10.7 4.5 8.4 5.3 8.9 4.5 6.8M110 407.6l5.3 10.6 5.2 9.6 5.3 8.6 4.5 6.6M113 406.9l5.2 10.5 5.3 9.5 5.3 8.5 4.5 6.5M190.7 461.6l0.9-0.6 0.9-0.5M81.9 414.9l2.2-2.7M116 406.3l5.2 10.3 5.3 9.4 5.2 8.4 5.3 7.5M84.4 420.4l8-9.7M118.9 405.7l5.3 10.2 5.2 9.3 5.3 8.3 5.2 7.3M194.2 459l0.8-0.5 0.9-0.5M86.8 425.7l6.6-8 7.1-8.2M121.9 405.2l5.2 10.1 5.2 9.2 5.3 8.2 5.3 7.2M89.2 430.8l10.2-12.2 9.9-10.8M124.8 404.7l6 11.4 5.2 8.9 5.3 8 5.2 6.9M197.6 456.7l0.8-0.5 0.9-0.4M91.6 435.6l6.6-7.9 7.2-8.1 7-7.5 7-6.8M127.7 404.3l6 11.2 5.2 8.9 5.3 7.8 5.2 6.9M94.1 440.3l8.7-10.4 9.2-10.1 8.4-8.4 8.8-8M130.6 403.9l6 11.2 5.2 8.7 5.2 7.7 5.3 6.8M96.5 444.7l11.5-13.5 11.3-11.8 11-10.2 11.3-9M196.3 379.7l2.2 0.1M133.5 403.6l6 11 5.2 8.6 5.2 7.7 5.3 6.6M99.6 448l7.3-8.5 7.8-8.6 7.7-7.8 7.5-7.1 7.4-6.2 7.3-5.6 7.1-4.8 7.6-4.4M182.8 386.2l4.6-0.9 4.5-0.5 4.4-0.2 4.4 0.1M135.7 401.9l5.9 11 5.2 8.7 6 8.7 5.3 6.5M106.4 446.9l12.8-14.1 6.3-6.2 6.1-5.7 6.1-5.2 6.6-5.2 5.9-4.2 6.4-4 5.6-3.2 6.2-2.9 6.1-2.5 5.9-1.8 5.8-1.4 5.7-0.8 5.6-0.4 5.4 0.1M138.5 401.7l5.9 10.9 5.2 8.6 6 8.5 5.3 6.5M113.1 445.8l12-12.6 6.2-5.9 6.1-5.4 6-4.8 5.9-4.4 5.8-3.9 5.7-3.4 5.6-3 5.6-2.5 5.4-2 5.9-1.8 5.2-1.2 5.6-0.8 5.6-0.3 5.4 0.2M141.4 401.5l5.9 10.9 5.2 8.4 6 8.5 5.2 6.3M119.8 444.8l11.2-11.1 11.5-10.1 11.1-8.3 5.8-3.7 5.7-3.2 5.5-2.8 5.5-2.3 5.4-1.9 5.2-1.4 5.2-1 5.1-0.7 4.9-0.2 5.5 0.2M143.5 400l5.9 10.9 5.9 9.6 6 8.3 5.3 6.3M127.2 443.3l11-10.4 10.6-8.8 10.4-7.2 5.1-3 5.6-3 4.9-2.2 5.4-2.1 4.7-1.6 5.3-1.3 4.5-0.8 5.1-0.5 4.9-0.2 4.9 0.3M146.3 400l5.9 10.7 5.9 9.5 6 8.2 5.3 6.2M133.7 442.5l10.2-9.1 10.6-8.2 9.6-6.3 10-5.2 9.6-3.8 4.7-1.4 4.7-1.1 4.5-0.7 5-0.5 4.4 0 4.8 0.2M148.3 398.6l5.9 10.8 6 9.5 5.9 8.3 5.3 6.2M141 441.3l9.4-7.9 9.1-6.7 8.9-5.5 9.3-4.6 9-3.4 8.7-2.1 8.4-1.1 8.2 0M151.1 398.7l5.9 10.6 5.9 9.4 6 8.2 5.3 6.1M148.8 439.6l7.9-6.1 7.8-5.3 7.5-4.4 7.4-3.6 7.2-2.8 7.6-2.2 6.9-1.2 7.2-0.6M153.2 397.4l5.8 10.7 6 9.5 5.9 8.2 5.3 6.1M157.2 437.8l5.8-4.2 5.8-3.6 5.6-3.2 6.2-3 5.4-2.3 5.9-1.9 5.8-1.4 5.7-1M155.2 396.2l5.9 10.7 5.9 9.5 5.9 8.3 5.3 6.2M167.4 435.1l7.6-4.5 7.4-3.7 7.2-2.9 7.6-2.2M158 396.5l5.8 10.6 5.2 8.2 5.9 8.3 5.2 6.3M160 395.4l5.8 10.6 5.1 8.3 6 8.4 5.2 6.2M162 394.4l5.8 10.6 5.1 8.4 5.9 8.3 5.2 6.4M164.7 394.8l5.8 10.6 5.1 8.2 5.2 7.3 5.2 6.3M166.6 393.9l5.8 10.6 5.2 8.3 5.1 7.3 5.2 6.4M168.6 393l5.8 10.7 5.1 8.3 5.1 7.3 5.2 6.5M170.5 392.2l5.8 10.7 5.1 8.3 5.1 7.4 5.2 6.5M172.5 391.5l5 9.4 5.1 8.5 5.1 7.6 5.2 6.6M174.4 390.8l5 9.5 5.1 8.5 5.1 7.6 5.1 6.7M176.3 390.2l5 9.5 5.1 8.5 5.1 7.7 4.4 5.8M178.2 389.6l5 9.5 5 8.6 5.1 7.7 4.4 5.9M179.3 387.6l5 9.7 5.1 8.8 5 7.8 4.4 6M181.2 387.2l5 9.7 4.3 7.6 5 8 4.4 6.1M183.1 386.7l4.9 9.8 4.3 7.6 5.1 8.1 4.3 6.1M184.9 386.4l5 9.7 4.3 7.7 4.3 7 4.3 6.3M186.7 386.1l4.3 8.4 4.3 7.8 4.2 7.1 4.4 6.5M187.9 384.3l4.9 10 4.3 7.8 4.2 7.1 4.4 6.5M189.7 384.1l4.2 8.6 4.2 8 4.3 7.3 4.3 6.6M193.2 459.7l9.3-5.9M191.5 383.9l4.2 8.7 4.2 7.9 4.3 7.4 3.5 5.6M185.1 466.1l6.9-5.3M192.6 382.3l4.2 8.8 4.2 8.1 4.2 7.4 3.6 5.7M194.3 382.2l7.7 15.6 7.8 13.5M195.4 380.7l7.7 15.8 7.7 13.7M197.2 380.7l7.6 15.9 7 12.6"/>
<path d="M52.1 271.5L58.9 434.1L181.4 477.8L278.4 426.7" fill="none" stroke="#222" stroke-width="0.9"/>
<path d="M52.1 271.5L58.9 434.1" fill="none" stroke="#111" stroke-width="1"/>
</g>
<path d="M58.9 434.1L55.5 435.4M86.2 443.8L82.9 445.2M115.6 454.3L112.3 455.8M147.3 465.6L143.9 467.2M181.4 477.8L178.2 479.5M181.4 477.8L185.4 479.2M234.2 450L238 451.1M278.4 426.7L282.1 427.7M57.7 405L54.2 406.2M56.3 372.9L52.9 373.9M54.9 339.9L51.4 340.8M53.5 306.1L50 306.8M52.1 271.5L48.5 272.1" fill="none" stroke="#222" stroke-width="0.9"/>
<text font-size="10" font-weight="bold" text-anchor="end"  transform="matrix(0.974 -0.368 0.845 0.305 56.6 437.0)">4</text>
<text font-size="10" font-weight="bold" text-anchor="end"  transform="matrix(0.971 -0.395 0.907 0.328 84.2 447.0)">8</text>
<text font-size="10" font-weight="bold" text-anchor="end"  transform="matrix(0.965 -0.425 0.976 0.353 113.8 457.7)">12</text>
<text font-size="10" font-weight="bold" text-anchor="end"  transform="matrix(0.955 -0.458 1.054 0.381 145.8 469.2)">16</text>
<text font-size="10" font-weight="bold" text-anchor="end"  transform="matrix(0.940 -0.496 1.141 0.412 180.3 481.7)">20</text>
<text font-size="10" font-weight="bold" text-anchor="start"  transform="matrix(1.082 0.386 -0.864 0.464 185.0 481.6)">10</text>
<text font-size="10" font-weight="bold" text-anchor="start"  transform="matrix(1.044 0.320 -0.718 0.386 238.0 453.1)">20</text>
<text font-size="10" font-weight="bold" text-anchor="start"  transform="matrix(1.004 0.270 -0.606 0.325 282.3 429.3)">30</text>
<text font-size="10" font-weight="bold" text-anchor="end"  transform="matrix(0.861 -0.289 0.053 1.233 53.9 410.4)">20</text>
<text font-size="10" font-weight="bold" text-anchor="end"  transform="matrix(0.873 -0.254 0.055 1.263 52.5 378.2)">40</text>
<text font-size="10" font-weight="bold" text-anchor="end"  transform="matrix(0.885 -0.217 0.056 1.295 51.1 345.2)">60</text>
<text font-size="10" font-weight="bold" text-anchor="end"  transform="matrix(0.898 -0.178 0.057 1.327 49.6 311.3)">80</text>
<text font-size="10" font-weight="bold" text-anchor="end"  transform="matrix(0.911 -0.137 0.059 1.361 48.1 276.6)">100</text>
<text font-size="10" font-weight="bold" text-anchor="middle"  transform="matrix(1.230 0.468 -1.276 0.563 92.8 465.3)">BTA (g/L)</text>
<text font-size="10" font-weight="bold" text-anchor="middle"  transform="matrix(0.945 -0.550 1.477 0.457 264.8 461.9)">H<tspan font-size="7.8" dy="2.8">2</tspan><tspan dy="-2.8">O</tspan><tspan font-size="7.8" dy="2.8">2</tspan><tspan dy="-2.8"> (ml)</tspan></text>
<text font-size="10" font-weight="bold" text-anchor="middle"  transform="matrix(0.089 1.609 -1.378 0.378 19.1 371.0)"><tspan font-style="italic">i</tspan><tspan font-size="7" dy="2.5">p</tspan><tspan dy="-2.5"> (μA/cm</tspan><tspan font-size="7" dy="-4">2</tspan><tspan dy="4">)</tspan></text>
</svg>
</body></html>
